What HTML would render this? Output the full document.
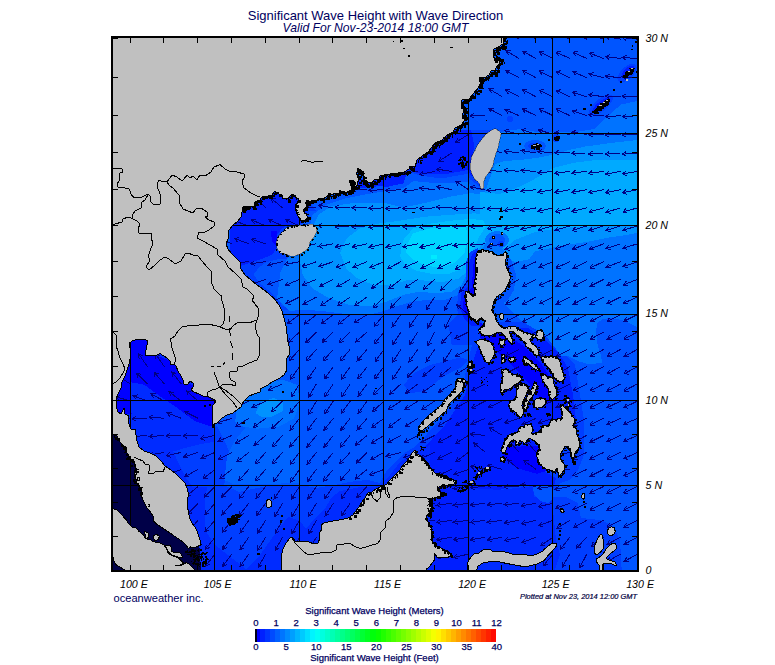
<!DOCTYPE html><html><head><meta charset="utf-8"><title>Significant Wave Height with Wave Direction</title>
<style>html,body{margin:0;padding:0;background:#fff}svg{display:block}text{font-family:"Liberation Sans",sans-serif}.cb text{stroke:#000060;stroke-width:.25px}</style></head><body>
<svg width="775" height="665" viewBox="0 0 775 665">
<rect width="775" height="665" fill="#fff"/>
<defs><clipPath id="c"><rect x="112" y="37" width="526" height="534"/></clipPath></defs>
<g clip-path="url(#c)">
<rect x="111" y="36" width="528" height="536" fill="rgb(0,85,255)"/>
<g shape-rendering="crispEdges">
<polygon fill="rgb(0,62,255)" points="105.0,330.0 230.0,330.0 213.0,428.0 217.0,426.0 224.0,440.0 231.0,455.0 228.0,470.0 224.0,485.0 239.0,492.0 257.0,488.0 276.0,485.0 301.0,485.0 316.0,488.0 334.0,485.0 344.0,483.0 356.0,481.0 368.0,480.0 380.0,483.0 384.0,475.0 388.0,469.0 396.0,461.0 404.0,453.0 415.0,447.0 430.0,440.0 430.0,575.0 105.0,575.0"/>
<polygon fill="rgb(0,62,255)" points="230.0,190.0 305.8,190.0 309.4,217.1 302.2,224.3 289.6,226.1 284.2,228.8 276.9,244.2 282.3,255.0 295.0,257.7 299.5,259.5 299.5,262.2 284.2,258.6 276.9,259.5 266.1,262.2 258.9,267.6 253.5,274.8 260.7,283.9 271.5,292.9 282.3,305.5 289.6,310.0 230.0,310.0"/>
<polygon fill="rgb(0,62,255)" points="315.9,210.9 309.4,200.8 325.6,194.4 345.0,189.5 364.4,186.0 383.8,185.0 403.2,181.7 408.0,171.4 420.0,175.6 433.9,177.5 446.9,177.5 456.9,175.6 467.6,174.0 470.1,179.5 476.0,183.7 479.8,187.6 480.8,191.4 484.0,185.0 497.0,178.5 497.0,168.8 500.2,149.4 497.0,130.0 445.2,130.0 412.9,162.3 354.7,181.7 306.2,194.7 296.5,210.9"/>
<polygon fill="rgb(0,62,255)" points="467.2,248.0 476.0,246.4 479.2,259.4 476.0,275.5 471.1,298.2 480.8,311.1 484.0,345.1 451.7,345.1 448.5,324.0 461.4,311.1 464.6,291.7 467.2,269.1"/>
<polygon fill="rgb(0,62,255)" points="415.0,447.0 440.0,420.0 462.0,392.0 468.0,360.0 475.0,335.0 500.0,322.0 530.0,322.0 548.0,335.0 563.0,352.0 575.0,365.0 580.0,395.0 584.0,420.0 584.0,455.0 578.0,470.0 570.0,480.0 560.0,483.0 553.0,490.0 553.0,497.0 566.0,497.0 578.0,503.0 581.0,518.0 600.0,520.0 612.0,525.0 620.0,540.0 622.0,575.0 430.0,575.0 430.0,440.0"/>
<polygon fill="rgb(0,43,255)" points="105.0,330.0 225.0,330.0 213.0,428.0 214.0,445.0 210.0,470.0 205.0,500.0 205.0,530.0 215.0,545.0 246.0,569.0 260.0,555.0 270.0,541.0 280.0,527.0 288.0,517.0 300.0,521.0 306.0,529.0 314.0,519.0 320.0,513.0 326.0,507.0 332.0,497.0 340.0,491.0 350.0,489.0 360.0,487.0 372.0,487.0 380.0,486.0 390.0,475.0 400.0,462.0 415.0,452.0 430.0,445.0 430.0,575.0 105.0,575.0"/>
<polygon fill="rgb(0,30,255)" points="230.0,190.0 304.0,190.0 306.7,217.1 300.4,223.4 286.0,226.1 278.7,230.6 273.3,236.9 266.1,242.3 251.7,246.0 240.8,249.6 231.8,244.2 230.0,244.2"/>
<polygon fill="rgb(0,30,255)" points="230.0,225.2 284.2,225.2 276.9,235.1 276.0,249.6 271.5,255.0 262.5,258.6 251.7,262.2 240.8,265.8 230.0,253.2"/>
<polygon fill="rgb(0,30,255)" points="383.8,185.6 383.8,187.6 403.2,183.4 408.0,170.1 420.0,173.7 433.9,174.0 446.9,174.0 456.9,172.0 467.6,170.1 471.1,175.9 476.9,177.9 476.0,178.5 471.1,162.3 474.3,146.2 471.1,130.0 445.2,130.0 412.9,162.3 354.7,181.7 306.2,194.7"/>
<polygon fill="rgb(0,30,255)" points="420.0,452.0 445.0,425.0 465.0,395.0 472.0,365.0 480.0,340.0 500.0,328.0 528.0,328.0 545.0,340.0 558.0,352.0 568.0,368.0 573.0,395.0 576.0,420.0 560.0,430.0 540.0,440.0 532.0,452.0 536.0,465.0 545.0,472.0 556.0,478.0 553.0,490.0 545.0,497.0 535.0,490.0 534.0,486.0 510.0,486.0 500.0,490.0 470.0,488.0 470.0,575.0 430.0,575.0 430.0,445.0"/>
<polygon fill="rgb(0,43,255)" points="470.0,488.0 500.0,490.0 533.0,486.0 534.0,497.0 553.0,497.0 553.0,510.0 556.0,540.0 560.0,555.0 553.0,575.0 470.0,575.0"/>
<polygon fill="rgb(0,0,255)" points="126.7,335.1 148.8,335.1 148.8,352.3 173.3,362.1 185.5,381.7 195.3,386.6 214.9,398.8 214.9,424.6 210.0,426.3 195.3,421.4 185.5,414.0 175.7,406.7 161.0,396.9 143.9,384.6 130.4,382.2 130.4,401.3 131.6,413.5 116.9,413.5 114.5,401.3 121.8,381.7"/>
<polygon fill="rgb(0,0,255)" points="504.5,447.4 557.3,444.5 557.3,468.0 536.8,473.8 516.2,468.0 503.0,456.2"/>
<polygon fill="rgb(0,0,255)" points="478.0,322.0 500.0,330.0 522.0,345.0 540.0,362.0 552.0,380.0 556.0,400.0 545.0,405.0 530.0,385.0 512.0,365.0 495.0,350.0 480.0,338.0"/>
<polygon fill="rgb(0,0,255)" points="270.6,230.6 277.3,230.6 277.3,246.0 272.4,242.3"/>
<polygon fill="#000048" points="105.0,430.0 128.0,430.0 148.0,470.0 172.0,520.0 190.0,540.0 200.0,548.0 201.0,575.0 105.0,575.0"/>
<polygon fill="#000048" points="105.0,553.0 113.0,553.0 117.0,565.0 126.0,575.0 105.0,575.0"/>
<polygon fill="rgb(0,100,255)" points="224.3,480.0 227.1,455.7 234.3,441.4 245.7,427.1 257.1,412.9 261.4,402.9 298.6,400.0 298.6,482.9 257.1,484.3 234.3,484.3"/>
<polygon fill="rgb(0,115,255)" points="309.4,227.0 312.6,214.7 325.6,205.0 345.0,198.6 364.4,194.7 383.8,191.4 403.2,188.2 413.5,181.1 433.9,183.0 454.0,183.0 467.6,181.7 473.1,187.6 479.8,190.5 501.4,132.0 520.8,128.8 537.0,132.0 553.2,132.0 575.8,132.0 595.2,128.8 608.1,115.8 621.1,104.5 650.2,98.0 650.0,327.2 637.5,327.2 629.3,323.0 621.0,319.8 611.0,318.1 602.8,318.9 597.0,323.0 596.2,331.3 597.0,342.9 601.2,356.1 602.0,362.7 589.6,364.4 578.0,361.1 568.1,356.1 561.5,356.1 545.0,335.0 520.0,320.0 500.0,300.0 475.0,300.0 466.3,285.2 458.2,294.9 445.2,299.8 429.1,299.8 412.9,301.4 396.7,306.3 383.8,311.1 370.9,314.3 348.2,314.3 322.3,311.1 302.9,309.5 290.0,311.1 277.1,298.2 280.3,272.3 290.0,252.9 299.7,236.7"/>
<polygon fill="rgb(0,115,255)" points="235.2,422.0 237.0,403.6 246.2,390.8 264.6,383.4 283.0,379.7 297.8,385.2 299.6,403.6 294.1,418.4 279.4,426.5 257.3,428.7 242.5,426.5"/>
<polygon fill="rgb(0,146,255)" points="312.6,227.0 319.1,214.1 332.0,206.0 354.7,202.8 383.8,202.8 403.2,207.6 425.8,202.8 451.7,196.3 471.1,193.1 484.0,194.7 495.0,164.3 504.7,161.1 524.1,159.5 537.0,157.9 553.2,154.6 569.3,149.8 585.5,146.5 608.1,143.3 650.2,138.5 650.0,231.0 636.8,233.0 627.0,234.9 607.4,237.8 587.8,241.7 568.3,244.7 552.6,247.6 535.0,251.5 529.0,259.4 515.0,262.0 506.0,258.0 505.7,251.5 488.5,238.8 471.1,265.8 466.3,275.5 461.4,285.2 451.7,291.7 435.5,293.3 419.4,291.7 403.2,294.9 387.0,301.4 370.9,306.3 348.2,304.6 328.8,298.2 312.6,288.5 302.9,275.5 299.7,259.4 304.6,243.2 309.4,233.5"/>
<polygon fill="rgb(0,146,255)" points="255.4,412.8 261.0,401.8 273.8,398.1 283.0,401.8 283.0,411.0 272.0,416.5 261.0,416.5"/>
<polygon fill="rgb(0,170,255)" points="340.1,252.9 346.6,238.3 359.5,228.6 377.3,223.8 400.0,220.6 425.8,216.7 451.7,214.7 474.3,213.4 497.0,214.7 500.2,220.6 497.0,230.3 484.0,240.0 477.6,251.3 471.1,262.6 466.3,272.3 458.2,278.8 442.0,282.0 422.6,280.4 406.4,280.4 390.3,285.2 374.1,285.2 357.9,278.8 346.6,269.1"/>
<polygon fill="rgb(0,170,255)" points="480.0,192.0 500.0,194.0 518.8,187.0 533.8,179.5 552.6,168.2 575.0,162.6 597.7,159.8 650.0,159.8 650.0,226.0 600.0,226.0 560.0,228.0 535.0,232.0 515.0,240.0 505.0,248.0 495.0,248.0 480.0,240.0"/>
<polygon fill="rgb(0,191,255)" points="400.0,256.1 403.2,240.0 412.9,228.6 429.1,223.8 451.7,220.6 471.1,218.9 484.0,220.6 485.7,227.0 479.2,236.7 474.3,248.0 467.9,257.7 461.4,269.1 448.5,273.9 432.3,273.9 416.1,270.7 404.8,264.2"/>
<polygon fill="rgb(0,213,255)" points="406.4,246.4 412.9,233.5 429.1,228.6 448.5,227.0 466.3,227.0 467.2,240.0 464.6,252.9 454.9,262.6 442.0,267.5 425.8,265.8 412.9,259.4 406.4,252.9"/>
<polygon fill="rgb(0,234,255)" points="431.0,255.0 437.0,255.0 437.0,259.0 431.0,259.0"/>
<polygon fill="rgb(0,62,255)" points="612.7,95.6 613.2,98.1 611.9,101.6 608.9,105.7 604.8,109.7 600.0,112.9 595.4,115.0 591.7,115.5 589.3,114.4 588.8,111.9 590.1,108.4 593.1,104.3 597.2,100.3 602.0,97.1 606.6,95.0 610.3,94.5"/>
<polygon fill="rgb(0,30,255)" points="609.6,98.1 609.7,99.7 608.6,102.0 606.3,104.9 603.2,107.7 599.8,110.2 596.5,111.8 593.9,112.4 592.4,111.9 592.3,110.3 593.4,108.0 595.7,105.1 598.8,102.3 602.2,99.8 605.5,98.2 608.1,97.6"/>
<polygon fill="rgb(0,62,255)" points="635.8,64.8 636.7,67.1 636.1,70.3 634.1,73.9 631.1,77.4 627.4,80.2 623.7,81.9 620.5,82.2 618.2,81.2 617.3,78.9 617.9,75.7 619.9,72.1 622.9,68.6 626.6,65.8 630.3,64.1 633.5,63.8"/>
<polygon fill="rgb(0,30,255)" points="633.9,66.0 634.3,67.4 633.8,69.5 632.4,71.8 630.4,74.1 628.0,76.0 625.5,77.2 623.5,77.5 622.1,77.0 621.7,75.6 622.2,73.5 623.6,71.2 625.6,68.9 628.0,67.0 630.5,65.8 632.5,65.5"/>
<polygon fill="rgb(0,85,255)" points="546.0,146.0 545.2,148.3 542.8,150.2 539.2,151.5 535.0,152.0 530.8,151.5 527.2,150.2 524.8,148.3 524.0,146.0 524.8,143.7 527.2,141.8 530.8,140.5 535.0,140.0 539.2,140.5 542.8,141.8 545.2,143.7"/>
<polygon fill="rgb(0,62,255)" points="542.0,146.0 541.5,147.3 539.9,148.5 537.7,149.2 535.0,149.5 532.3,149.2 530.1,148.5 528.5,147.3 528.0,146.0 528.5,144.7 530.1,143.5 532.3,142.8 535.0,142.5 537.7,142.8 539.9,143.5 541.5,144.7"/>
<polygon fill="rgb(0,62,255)" points="560.0,138.0 559.7,139.5 558.8,140.8 557.5,141.7 556.0,142.0 554.5,141.7 553.2,140.8 552.3,139.5 552.0,138.0 552.3,136.5 553.2,135.2 554.5,134.3 556.0,134.0 557.5,134.3 558.8,135.2 559.7,136.5"/>
<polygon fill="rgb(0,62,255)" points="513.0,119.0 512.8,120.1 512.1,121.1 511.1,121.8 510.0,122.0 508.9,121.8 507.9,121.1 507.2,120.1 507.0,119.0 507.2,117.9 507.9,116.9 508.9,116.2 510.0,116.0 511.1,116.2 512.1,116.9 512.8,117.9"/>
<polygon fill="rgb(0,115,255)" points="509.0,240.0 508.1,243.4 505.5,246.4 501.6,248.3 497.0,249.0 492.4,248.3 488.5,246.4 485.9,243.4 485.0,240.0 485.9,236.6 488.5,233.6 492.4,231.7 497.0,231.0 501.6,231.7 505.5,233.6 508.1,236.6"/>
<polygon fill="rgb(0,85,255)" points="505.0,240.0 504.4,242.3 502.7,244.2 500.1,245.5 497.0,246.0 493.9,245.5 491.3,244.2 489.6,242.3 489.0,240.0 489.6,237.7 491.3,235.8 493.9,234.5 497.0,234.0 500.1,234.5 502.7,235.8 504.4,237.7"/>
<polygon fill="rgb(0,62,255)" points="504.0,244.0 503.8,245.1 503.1,246.1 502.1,246.8 501.0,247.0 499.9,246.8 498.9,246.1 498.2,245.1 498.0,244.0 498.2,242.9 498.9,241.9 499.9,241.2 501.0,241.0 502.1,241.2 503.1,241.9 503.8,242.9"/>
<polygon fill="rgb(0,62,255)" points="403.9,384.5 414.2,372.9 429.7,365.2 445.2,361.3 460.6,357.4 468.4,360.0 460.6,367.7 445.2,375.5 434.8,383.2 424.5,391.0 409.0,393.5"/>
<polygon fill="rgb(0,85,255)" points="533.0,486.0 553.0,486.0 553.0,498.0 548.0,503.0 540.0,501.0 534.0,495.0"/>
<polygon fill="rgb(0,62,255)" points="478.0,248.0 470.0,252.0 466.0,262.0 466.0,285.0 458.0,292.0 457.0,310.0 462.0,322.0 470.0,330.0 480.0,330.0 480.0,300.0 478.0,270.0"/>
<polygon fill="rgb(0,30,255)" points="478.0,250.0 472.0,254.0 469.0,264.0 469.0,286.0 461.0,293.0 460.0,309.0 465.0,320.0 472.0,326.0 480.0,326.0 480.0,300.0 478.0,270.0"/>
<polygon fill="rgb(0,0,255)" points="476.0,254.0 473.0,266.0 472.0,288.0 464.0,295.0 463.0,308.0 468.0,318.0 476.0,322.0 480.0,300.0 478.0,270.0"/>
<polygon fill="rgb(0,85,255)" points="507.0,253.0 512.0,262.0 516.0,275.0 514.0,290.0 508.0,300.0 500.0,305.0 495.0,315.0 500.0,325.0 492.0,325.0 490.0,300.0 500.0,290.0 505.0,270.0"/>
<polygon fill="rgb(0,62,255)" points="173.3,451.5 185.5,447.8 200.2,444.2 214.9,441.7 214.9,487.1 192.9,487.1 185.5,477.3 178.2,462.5"/>
</g>
<g stroke="#000084" stroke-width="1" fill="none" stroke-linecap="butt" shape-rendering="crispEdges">
<path d="M130.5 418.3L115.3 419.6M119.2 416.9L115.3 419.6L119.6 421.6M130.5 401.1L115.8 396.7M120.5 395.6L115.8 396.7L119.1 400.2M130.5 383.9L117.4 376.0M122.2 376.1L117.4 376.0L119.7 380.2M130.5 366.7L120.7 355.0M125.2 356.6L120.7 355.0L121.5 359.7M130.5 349.4L121.4 337.1M125.8 339.0L121.4 337.1L122.0 341.8M147.4 435.4L132.2 436.7M136.1 434.0L132.2 436.7L136.5 438.7M147.4 418.3L132.1 418.9M136.2 416.4L132.1 418.9L136.4 421.2M147.4 401.1L133.1 395.7M137.8 394.9L133.1 395.7L136.1 399.4M147.4 383.9L136.6 373.1M141.2 374.4L136.6 373.1L137.8 377.8M147.4 366.7L138.8 354.1M143.1 356.1L138.8 354.1L139.1 358.9M164.3 452.4L149.2 455.1M152.9 452.0L149.2 455.1L153.8 456.8M164.3 435.4L149.1 436.7M153.0 434.0L149.1 436.7L153.4 438.7M164.3 418.3L149.1 416.9M153.4 414.9L149.1 416.9L153.0 419.7M164.3 401.1L150.9 393.8M155.7 393.7L150.9 393.8L153.4 397.9M164.3 383.9L154.2 372.5M158.7 374.0L154.2 372.5L155.1 377.2M164.3 366.7L155.7 354.1M160.0 356.1L155.7 354.1L156.0 358.9M181.2 469.4L166.9 474.9M169.9 471.1L166.9 474.9L171.6 475.6M181.2 452.4L166.3 455.8M169.8 452.5L166.3 455.8L170.9 457.2M181.2 435.4L165.9 436.0M170.0 433.5L165.9 436.0L170.2 438.3M181.2 418.3L166.9 412.8M171.6 412.1L166.9 412.8L169.9 416.5M181.2 401.1L169.1 391.7M173.9 392.4L169.1 391.7L170.9 396.2M181.2 383.9L171.8 371.9M176.3 373.7L171.8 371.9L172.5 376.6M198.1 520.3L187.9 531.7M188.9 527.0L187.9 531.7L192.5 530.2M198.1 503.3L187.3 514.2M188.5 509.5L187.3 514.2L191.9 512.9M198.1 486.4L186.3 496.2M188.0 491.7L186.3 496.2L191.1 495.4M198.1 469.4L184.7 476.8M187.2 472.7L184.7 476.8L189.5 476.9M198.1 452.4L183.6 457.1M186.8 453.6L183.6 457.1L188.2 458.1M198.1 435.4L182.8 436.0M186.9 433.5L182.8 436.0L187.1 438.3M198.1 418.3L184.4 411.4M189.2 411.1L184.4 411.4L187.1 415.4M198.1 401.1L186.6 391.0M191.3 392.0L186.6 391.0L188.2 395.6M215.0 571.0L205.5 583.0M206.2 578.2L205.5 583.0L210.0 581.2M215.0 554.1L205.5 566.1M206.2 561.4L205.5 566.1L210.0 564.3M215.0 537.2L205.5 549.2M206.2 544.5L205.5 549.2L210.0 547.4M215.0 520.3L204.8 531.7M205.8 527.0L204.8 531.7L209.4 530.2M215.0 503.3L204.8 514.8M205.8 510.1L204.8 514.8L209.4 513.3M215.0 486.4L204.2 497.2M205.4 492.6L204.2 497.2L208.8 496.0M215.0 469.4L203.0 478.9M204.8 474.4L203.0 478.9L207.7 478.2M215.0 452.4L200.9 458.4M203.8 454.6L200.9 458.4L205.7 459.0M215.0 435.4L200.1 438.7M203.6 435.5L200.1 438.7L204.7 440.2M215.0 401.1L201.8 393.4M206.6 393.4L201.8 393.4L204.2 397.6M231.9 571.0L222.8 583.3M223.3 578.5L222.8 583.3L227.2 581.4M231.9 554.1L222.7 566.4M223.3 561.6L222.7 566.4L227.2 564.5M231.9 537.2L222.6 549.4M223.3 544.6L222.6 549.4L227.1 547.5M231.9 520.3L222.3 532.2M223.0 527.5L222.3 532.2L226.8 530.5M231.9 503.3L221.9 514.9M222.8 510.2L221.9 514.9L226.4 513.3M231.9 486.4L221.3 497.4M222.5 492.8L221.3 497.4L225.9 496.1M231.9 469.4L219.8 478.8M221.6 474.3L219.8 478.8L224.6 478.1M231.9 452.4L218.3 459.5M220.9 455.4L218.3 459.5L223.1 459.7M231.9 435.4L217.9 441.5M220.7 437.6L217.9 441.5L222.6 442.0M231.9 418.3L217.3 422.9M220.6 419.4L217.3 422.9L222.0 423.9M231.9 243.8L217.6 238.4M222.3 237.6L217.6 238.4L220.6 242.1M248.8 571.0L240.2 583.6M240.5 578.8L240.2 583.6L244.5 581.6M248.8 554.1L240.0 566.6M240.4 561.9L240.0 566.6L244.4 564.6M248.8 537.2L240.0 549.7M240.4 544.9L240.0 549.7L244.4 547.7M248.8 520.3L240.0 532.8M240.4 528.0L240.0 532.8L244.4 530.8M248.8 503.3L239.3 515.4M240.0 510.6L239.3 515.4L243.8 513.6M248.8 486.4L239.3 498.4M240.0 493.7L239.3 498.4L243.8 496.6M248.8 469.4L238.6 480.8M239.6 476.1L238.6 480.8L243.2 479.3M248.8 452.4L236.8 461.9M238.6 457.4L236.8 461.9L241.6 461.2M248.8 435.4L235.7 443.2M238.0 439.0L235.7 443.2L240.5 443.1M248.8 418.3L235.9 426.5M238.1 422.2L235.9 426.5L240.7 426.3M248.8 401.1L235.2 408.2M237.8 404.2L235.2 408.2L240.0 408.4M248.8 261.7L233.6 263.0M237.5 260.3L233.6 263.0L237.9 265.0M248.8 243.8L234.5 238.4M239.2 237.6L234.5 238.4L237.5 242.1M248.8 225.9L234.4 220.9M239.1 220.0L234.4 220.9L237.5 224.5M248.8 207.9L235.5 200.3M240.3 200.3L235.5 200.3L237.9 204.5M265.7 571.0L257.8 584.1M257.9 579.3L257.8 584.1L262.0 581.8M265.7 554.1L258.1 567.4M258.1 562.6L258.1 567.4L262.3 565.0M265.7 537.2L257.6 550.1M257.7 545.3L257.6 550.1L261.8 547.9M265.7 520.3L257.3 533.1M257.6 528.3L257.3 533.1L261.6 530.9M265.7 503.3L256.5 515.6M257.1 510.8L256.5 515.6L260.9 513.7M265.7 486.4L256.0 498.3M256.8 493.5L256.0 498.3L260.5 496.5M265.7 469.4L255.5 480.8M256.5 476.1L255.5 480.8L260.0 479.3M265.7 452.4L255.5 463.8M256.5 459.1L255.5 463.8L260.1 462.3M265.7 435.4L254.1 445.3M255.7 440.8L254.1 445.3L258.8 444.4M265.7 418.3L253.4 427.3M255.3 422.9L253.4 427.3L258.2 426.8M265.7 401.1L251.8 407.6M254.6 403.6L251.8 407.6L256.6 408.0M265.7 279.4L251.2 284.1M254.4 280.6L251.2 284.1L255.8 285.1M265.7 261.7L250.5 263.7M254.3 260.8L250.5 263.7L255.0 265.5M265.7 243.8L251.2 239.1M255.8 238.1L251.2 239.1L254.4 242.7M265.7 225.9L251.6 219.9M256.4 219.3L251.6 219.9L254.5 223.7M265.7 207.9L254.9 197.1M259.5 198.3L254.9 197.1L256.1 201.7M282.6 537.2L275.0 550.5M275.0 545.7L275.0 550.5L279.2 548.1M282.6 520.3L275.0 533.6M275.0 528.8L275.0 533.6L279.2 531.1M282.6 503.3L274.7 516.4M274.8 511.6L274.7 516.4L278.9 514.1M282.6 486.4L274.0 499.0M274.3 494.2L274.0 499.0L278.3 497.0M282.6 469.4L273.4 481.6M274.0 476.8L273.4 481.6L277.8 479.7M282.6 452.4L272.4 463.8M273.4 459.1L272.4 463.8L277.0 462.3M282.6 435.4L272.4 446.8M273.4 442.1L272.4 446.8L277.0 445.3M282.6 418.3L271.5 428.8M272.9 424.2L271.5 428.8L276.2 427.7M282.6 401.1L271.5 411.6M272.8 407.0L271.5 411.6L276.1 410.5M282.6 383.9L268.5 390.0M271.4 386.1L268.5 390.0L273.3 390.5M282.6 297.0L268.5 303.0M271.4 299.2L268.5 303.0L273.3 303.6M282.6 279.4L268.2 284.4M271.3 280.8L268.2 284.4L272.9 285.3M282.6 261.7L267.7 265.1M271.2 261.8L267.7 265.1L272.3 266.5M282.6 225.9L268.7 219.6M273.4 219.1L268.7 219.6L271.5 223.5M282.6 207.9L270.8 198.1M275.6 198.9L270.8 198.1L272.5 202.6M299.5 537.2L291.8 550.4M291.8 545.6L291.8 550.4L295.9 548.0M299.5 520.3L291.8 533.5M291.8 528.7L291.8 533.5L296.0 531.1M299.5 503.3L291.9 516.6M291.9 511.8L291.9 516.6L296.1 514.2M299.5 486.4L291.2 499.2M291.4 494.4L291.2 499.2L295.4 497.0M299.5 469.4L290.7 481.9M291.1 477.2L290.7 481.9L295.1 479.9M299.5 452.4L290.1 464.5M290.8 459.7L290.1 464.5L294.6 462.7M299.5 435.4L289.6 447.0M290.5 442.3L289.6 447.0L294.1 445.4M299.5 418.3L290.0 430.3M290.7 425.5L290.0 430.3L294.5 428.5M299.5 401.1L289.9 413.0M290.6 408.3L289.9 413.0L294.4 411.3M299.5 383.9L291.4 396.9M291.6 392.1L291.4 396.9L295.6 394.7M299.5 366.7L290.6 379.2M291.1 374.4L290.6 379.2L295.0 377.2M299.5 349.4L289.2 360.7M290.2 356.0L289.2 360.7L293.8 359.2M299.5 332.0L288.3 342.5M289.7 337.9L288.3 342.5L293.0 341.4M299.5 314.6L287.2 323.6M289.1 319.2L287.2 323.6L292.0 323.1M299.5 297.0L285.8 303.9M288.5 299.9L285.8 303.9L290.6 304.1M299.5 279.4L285.4 285.4M288.3 281.6L285.4 285.4L290.2 286.0M299.5 261.7L284.5 264.5M288.1 261.4L284.5 264.5L289.0 266.1M299.5 225.9L285.6 219.6M290.3 219.1L285.6 219.6L288.4 223.5M316.4 537.2L308.6 550.4M308.7 545.6L308.6 550.4L312.8 548.0M316.4 520.3L308.8 533.6M308.8 528.8L308.8 533.6L313.0 531.1M316.4 503.3L308.4 516.4M308.5 511.6L308.4 516.4L312.6 514.1M316.4 486.4L307.9 499.1M308.2 494.3L307.9 499.1L312.2 497.0M316.4 469.4L307.3 481.7M307.8 476.9L307.3 481.7L311.7 479.8M316.4 452.4L306.9 464.4M307.6 459.7L306.9 464.4L311.4 462.6M316.4 435.4L306.8 447.3M307.6 442.6L306.8 447.3L311.3 445.6M316.4 418.3L307.4 430.6M307.9 425.9L307.4 430.6L311.8 428.7M316.4 401.1L308.5 414.3M308.6 409.5L308.5 414.3L312.7 411.9M316.4 383.9L308.5 397.1M308.6 392.3L308.5 397.1L312.7 394.7M316.4 366.7L307.8 379.3M308.1 374.5L307.8 379.3L312.1 377.3M316.4 349.4L306.3 360.9M307.2 356.2L306.3 360.9L310.8 359.3M316.4 332.0L305.6 342.8M306.8 338.2L305.6 342.8L310.2 341.6M316.4 314.6L304.4 324.1M306.2 319.6L304.4 324.1L309.2 323.4M316.4 297.0L303.0 304.4M305.5 300.3L303.0 304.4L307.8 304.5M316.4 279.4L302.2 285.0M305.2 281.3L302.2 285.0L306.9 285.7M316.4 261.7L302.0 266.8M305.1 263.2L302.0 266.8L306.7 267.7M316.4 243.8L301.4 246.9M305.0 243.7L301.4 246.9L306.0 248.4M316.4 225.9L301.1 226.6M305.2 224.0L301.1 226.6L305.4 228.8M316.4 207.9L301.2 206.2M305.6 204.3L301.2 206.2L305.1 209.0M333.3 520.3L325.2 533.3M325.4 528.5L325.2 533.3L329.5 531.0M333.3 503.3L325.0 516.2M325.2 511.4L325.0 516.2L329.2 514.0M333.3 486.4L324.4 498.8M324.8 494.0L324.4 498.8L328.7 496.8M333.3 469.4L323.4 481.1M324.3 476.4L323.4 481.1L328.0 479.5M333.3 452.4L323.6 464.3M324.4 459.5L323.6 464.3L328.1 462.6M333.3 435.4L323.8 447.4M324.5 442.6L323.8 447.4L328.3 445.6M333.3 418.3L323.9 430.3M324.5 425.6L323.9 430.3L328.3 428.5M333.3 401.1L324.7 413.8M325.1 409.0L324.7 413.8L329.0 411.7M333.3 383.9L324.8 396.6M325.1 391.9L324.8 396.6L329.1 394.5M333.3 366.7L324.2 379.0M324.7 374.2L324.2 379.0L328.6 377.1M333.3 349.4L323.2 360.9M324.1 356.2L323.2 360.9L327.7 359.3M333.3 332.0L322.1 342.4M323.5 337.9L322.1 342.4L326.8 341.4M333.3 314.6L321.2 323.9M323.0 319.5L321.2 323.9L326.0 323.3M333.3 297.0L320.7 305.8M322.8 301.4L320.7 305.8L325.5 305.4M333.3 279.4L319.7 286.4M322.3 282.4L319.7 286.4L324.5 286.6M333.3 261.7L318.8 266.6M322.0 263.0L318.8 266.6L323.5 267.5M333.3 243.8L318.2 246.5M321.9 243.4L318.2 246.5L322.7 248.1M333.3 225.9L318.0 225.5M322.2 223.2L318.0 225.5L322.1 228.0M333.3 207.9L318.2 205.2M322.7 203.6L318.2 205.2L321.9 208.3M350.2 503.3L341.3 515.8M341.8 511.0L341.3 515.8L345.7 513.8M350.2 486.4L341.1 498.7M341.7 493.9L341.1 498.7L345.5 496.8M350.2 469.4L340.0 480.8M341.0 476.1L340.0 480.8L344.6 479.3M350.2 452.4L339.7 463.6M340.8 458.9L339.7 463.6L344.3 462.2M350.2 435.4L340.4 447.1M341.2 442.3L340.4 447.1L344.9 445.4M350.2 418.3L340.7 430.3M341.4 425.5L340.7 430.3L345.2 428.5M350.2 401.1L341.1 413.4M341.6 408.6L341.1 413.4L345.5 411.5M350.2 383.9L341.7 396.7M342.0 391.9L341.7 396.7L346.0 394.5M350.2 366.7L341.3 379.2M341.8 374.4L341.3 379.2L345.7 377.2M350.2 349.4L340.2 361.0M341.1 356.3L340.2 361.0L344.8 359.4M350.2 332.0L339.4 342.8M340.6 338.2L339.4 342.8L344.0 341.6M350.2 314.6L338.3 324.2M340.0 319.7L338.3 324.2L343.0 323.4M350.2 297.0L337.6 305.7M339.6 301.3L337.6 305.7L342.4 305.3M350.2 279.4L336.8 286.8M339.3 282.7L336.8 286.8L341.6 286.9M350.2 261.7L336.2 267.7M339.0 263.9L336.2 267.7L340.9 268.3M350.2 243.8L335.3 247.2M338.8 243.9L335.3 247.2L339.9 248.6M350.2 225.9L334.9 226.9M338.9 224.2L334.9 226.9L339.2 229.0M350.2 207.9L334.9 207.0M339.2 204.9L334.9 207.0L338.9 209.7M367.1 486.4L356.6 497.6M357.7 492.9L356.6 497.6L361.2 496.2M367.1 469.4L355.2 479.1M356.9 474.6L355.2 479.1L360.0 478.3M367.1 452.4L356.3 463.2M357.5 458.6L356.3 463.2L360.9 462.0M367.1 435.4L355.4 445.2M357.0 440.7L355.4 445.2L360.1 444.4M367.1 418.3L357.1 429.8M358.0 425.1L357.1 429.8L361.6 428.3M367.1 401.1L358.0 413.5M358.6 408.7L358.0 413.5L362.4 411.5M367.1 383.9L358.0 396.2M358.5 391.4L358.0 396.2L362.4 394.3M367.1 366.7L357.8 378.8M358.4 374.1L357.8 378.8L362.2 377.0M367.1 349.4L357.0 360.9M357.9 356.2L357.0 360.9L361.5 359.3M367.1 332.0L355.6 342.1M357.2 337.6L355.6 342.1L360.3 341.2M367.1 314.6L354.2 322.7M356.4 318.5L354.2 322.7L359.0 322.5M367.1 297.0L354.6 305.8M356.6 301.5L354.6 305.8L359.4 305.4M367.1 279.4L353.5 286.4M356.1 282.4L353.5 286.4L358.3 286.6M367.1 261.7L352.9 267.4M355.9 263.6L352.9 267.4L357.7 268.1M367.1 243.8L352.2 247.2M355.7 244.0L352.2 247.2L356.8 248.7M367.1 225.9L351.8 226.9M355.8 224.3L351.8 226.9L356.1 229.1M367.1 207.9L351.8 207.9M356.0 205.5L351.8 207.9L356.0 210.3M367.1 189.7L351.8 189.9M355.9 187.4L351.8 189.9L356.0 192.2M384.0 469.4L369.7 474.9M372.7 471.1L369.7 474.9L374.4 475.6M384.0 452.4L370.6 459.8M373.1 455.7L370.6 459.8L375.4 459.9M384.0 435.4L371.1 443.5M373.3 439.3L371.1 443.5L375.9 443.3M384.0 418.3L371.7 427.4M373.6 423.0L371.7 427.4L376.5 426.9M384.0 401.1L372.7 411.5M374.2 406.9L372.7 411.5L377.4 410.4M384.0 383.9L373.2 394.7M374.4 390.1L373.2 394.7L377.8 393.5M384.0 366.7L374.6 378.8M375.2 374.0L374.6 378.8L379.0 377.0M384.0 349.4L375.0 361.7M375.5 357.0L375.0 361.7L379.3 359.8M384.0 332.0L374.4 343.9M375.1 339.2L374.4 343.9L378.9 342.2M384.0 314.6L374.2 326.3M375.0 321.6L374.2 326.3L378.7 324.7M384.0 297.0L373.2 307.9M374.4 303.2L373.2 307.9L377.9 306.6M384.0 279.4L371.6 288.3M373.5 283.9L371.6 288.3L376.4 287.8M384.0 261.7L369.9 267.7M372.8 263.9L369.9 267.7L374.7 268.3M384.0 243.8L369.1 247.4M372.6 244.1L369.1 247.4L373.7 248.8M384.0 225.9L368.8 227.4M372.7 224.6L368.8 227.4L373.1 229.4M384.0 207.9L368.7 208.5M372.8 205.9L368.7 208.5L373.0 210.7M384.0 189.7L368.7 190.4M372.8 187.8L368.7 190.4L373.0 192.6M400.9 452.4L386.1 456.4M389.5 453.0L386.1 456.4L390.8 457.7M400.9 435.4L387.5 442.7M390.0 438.6L387.5 442.7L392.3 442.8M400.9 418.3L388.7 427.5M390.5 423.0L388.7 427.5L393.4 426.9M400.9 401.1L388.1 409.5M390.3 405.3L388.1 409.5L392.9 409.3M400.9 383.9L389.7 394.4M391.1 389.8L389.7 394.4L394.4 393.3M400.9 366.7L392.3 379.4M392.7 374.6L392.3 379.4L396.7 377.3M400.9 349.4L392.6 362.2M392.8 357.4L392.6 362.2L396.8 360.0M400.9 332.0L392.6 344.8M392.8 340.0L392.6 344.8L396.8 342.7M400.9 314.6L392.0 327.0M392.5 322.2L392.0 327.0L396.4 325.0M400.9 297.0L390.4 308.2M391.5 303.5L390.4 308.2L395.0 306.8M400.9 279.4L388.8 288.8M390.6 284.3L388.8 288.8L393.6 288.1M400.9 261.7L387.4 268.8M389.9 264.8L387.4 268.8L392.2 269.0M400.9 243.8L386.0 247.4M389.5 244.1L386.0 247.4L390.6 248.7M400.9 225.9L385.7 227.3M389.6 224.5L385.7 227.3L390.0 229.3M400.9 207.9L385.6 208.6M389.7 206.0L385.6 208.6L389.9 210.8M400.9 189.7L385.6 190.7M389.6 188.0L385.6 190.7L389.9 192.8M417.8 452.4L403.4 457.6M406.5 454.0L403.4 457.6L408.2 458.5M417.8 435.4L404.3 442.5M406.8 438.4L404.3 442.5L409.1 442.7M417.8 418.3L405.0 426.7M407.2 422.4L405.0 426.7L409.8 426.4M417.8 401.1L405.0 409.5M407.2 405.3L405.0 409.5L409.8 409.3M417.8 383.9L405.7 393.3M407.5 388.9L405.7 393.3L410.5 392.7M417.8 366.7L407.1 377.6M408.3 373.0L407.1 377.6L411.7 376.4M417.8 349.4L408.9 361.8M409.4 357.1L408.9 361.8L413.3 359.8M417.8 332.0L409.5 344.9M409.8 340.1L409.5 344.9L413.8 342.7M417.8 314.6L409.2 327.2M409.6 322.4L409.2 327.2L413.5 325.1M417.8 297.0L407.4 308.3M408.5 303.6L407.4 308.3L412.0 306.8M417.8 279.4L405.0 287.7M407.2 283.5L405.0 287.7L409.8 287.5M417.8 261.7L403.7 267.7M406.6 263.9L403.7 267.7L408.5 268.3M417.8 243.8L402.8 246.9M406.4 243.7L402.8 246.9L407.4 248.4M417.8 225.9L402.5 226.9M406.5 224.3L402.5 226.9L406.8 229.1M417.8 207.9L402.5 208.7M406.5 206.1L402.5 208.7L406.8 210.9M417.8 189.7L402.6 191.1M406.5 188.3L402.6 191.1L406.9 193.1M417.8 171.4L402.6 173.0M406.5 170.2L402.6 173.0L407.0 175.0M434.7 571.0L419.8 574.3M423.3 571.1L419.8 574.3L424.3 575.8M434.7 554.1L419.7 557.3M423.3 554.1L419.7 557.3L424.3 558.8M434.7 537.2L419.6 539.7M423.3 536.7L419.6 539.7L424.1 541.4M434.7 520.3L419.5 522.3M423.3 519.4L419.5 522.3L424.0 524.1M434.7 503.3L419.6 505.6M423.3 502.6L419.6 505.6L424.0 507.4M434.7 469.4L420.2 474.3M423.4 470.7L420.2 474.3L424.9 475.2M434.7 452.4L420.7 458.6M423.5 454.7L420.7 458.6L425.5 459.1M434.7 435.4L421.0 442.2M423.7 438.2L421.0 442.2L425.8 442.5M434.7 401.1L421.9 409.5M424.1 405.2L421.9 409.5L426.7 409.3M434.7 383.9L422.2 392.7M424.2 388.4L422.2 392.7L427.0 392.3M434.7 366.7L422.8 376.3M424.5 371.8L422.8 376.3L427.5 375.6M434.7 349.4L426.0 362.0M426.4 357.2L426.0 362.0L430.3 359.9M434.7 332.0L427.6 345.6M427.4 340.8L427.6 345.6L431.7 343.0M434.7 314.6L427.6 328.1M427.4 323.3L427.6 328.1L431.7 325.5M434.7 297.0L426.2 309.8M426.5 305.0L426.2 309.8L430.5 307.6M434.7 279.4L423.1 289.4M424.7 284.8L423.1 289.4L427.8 288.5M434.7 261.7L420.9 268.3M423.6 264.4L420.9 268.3L425.7 268.7M434.7 243.8L419.9 247.7M423.3 244.3L419.9 247.7L424.5 249.0M434.7 225.9L419.5 227.2M423.4 224.4L419.5 227.2L423.8 229.2M434.7 207.9L419.4 208.6M423.5 206.0L419.4 208.6L423.7 210.8M434.7 189.7L419.5 188.0M423.9 186.1L419.5 188.0L423.4 190.9M434.7 171.4L419.7 174.4M423.3 171.3L419.7 174.4L424.2 176.0M451.6 571.0L436.7 574.3M440.2 571.1L436.7 574.3L441.3 575.8M451.6 554.1L436.7 557.5M440.2 554.2L436.7 557.5L441.3 558.9M451.6 537.2L436.5 539.9M440.2 536.8L436.5 539.9L441.0 541.5M451.6 520.3L436.5 522.5M440.2 519.5L436.5 522.5L440.9 524.3M451.6 503.3L436.4 505.4M440.2 502.4L436.4 505.4L440.9 507.2M451.6 486.4L436.4 488.4M440.2 485.5L436.4 488.4L440.9 490.2M451.6 469.4L437.6 475.7M440.5 471.8L437.6 475.7L442.4 476.2M451.6 452.4L437.9 459.2M440.6 455.2L437.9 459.2L442.7 459.5M451.6 435.4L438.1 442.6M440.6 438.5L438.1 442.6L442.9 442.7M451.6 418.3L438.4 426.0M440.8 421.9L438.4 426.0L443.2 426.0M451.6 383.9L438.7 392.1M440.9 387.9L438.7 392.1L443.5 391.9M451.6 366.7L439.9 376.5M441.5 372.0L439.9 376.5L444.6 375.7M451.6 349.4L443.3 362.2M443.5 357.4L443.3 362.2L447.5 360.0M451.6 332.0L441.5 343.5M442.4 338.8L441.5 343.5L446.0 341.9M451.6 314.6L445.1 328.4M444.7 323.6L445.1 328.4L449.1 325.7M451.6 297.0L444.2 310.4M444.1 305.6L444.2 310.4L448.3 307.9M451.6 279.4L440.8 290.2M442.0 285.6L440.8 290.2L445.4 289.0M451.6 261.7L437.9 268.5M440.6 264.5L437.9 268.5L442.7 268.8M451.6 243.8L436.9 248.1M440.2 244.7L436.9 248.1L441.6 249.3M451.6 225.9L436.3 227.0M440.3 224.3L436.3 227.0L440.6 229.1M451.6 207.9L436.3 207.0M440.6 204.8L436.3 207.0L440.3 209.6M451.6 189.7L436.7 186.4M441.2 185.0L436.7 186.4L440.2 189.6M451.6 171.4L436.5 169.1M441.0 167.3L436.5 169.1L440.2 172.1M451.6 153.0L438.8 161.3M440.9 157.1L438.8 161.3L443.6 161.1M451.6 134.4L438.1 141.7M440.7 137.6L438.1 141.7L442.9 141.8M468.5 554.1L453.6 557.5M457.1 554.2L453.6 557.5L458.2 558.9M468.5 537.2L453.4 539.9M457.1 536.8L453.4 539.9L458.0 541.5M468.5 520.3L453.3 522.3M457.1 519.4L453.3 522.3L457.8 524.1M468.5 503.3L453.3 505.3M457.1 502.4L453.3 505.3L457.8 507.1M468.5 486.4L453.3 488.5M457.1 485.6L453.3 488.5L457.8 490.3M468.5 469.4L454.0 474.3M457.2 470.7L454.0 474.3L458.7 475.3M468.5 452.4L456.1 461.4M458.1 457.0L456.1 461.4L460.9 460.9M468.5 435.4L455.6 443.5M457.8 439.3L455.6 443.5L460.4 443.3M468.5 418.3L455.3 425.9M457.7 421.8L455.3 425.9L460.1 425.9M468.5 401.1L455.1 408.5M457.6 404.4L455.1 408.5L459.9 408.6M468.5 383.9L455.3 391.6M457.7 387.5L455.3 391.6L460.1 391.6M468.5 366.7L455.4 374.7M457.7 370.5L455.4 374.7L460.2 374.6M468.5 349.4L455.1 356.8M457.6 352.7L455.1 356.8L459.9 356.9M468.5 332.0L454.8 338.9M457.5 334.8L454.8 338.9L459.6 339.1M468.5 314.6L456.7 304.8M461.4 305.6L456.7 304.8L458.4 309.3M468.5 279.4L459.9 292.0M460.2 287.2L459.9 292.0L464.2 289.9M468.5 261.7L455.3 269.3M457.7 265.2L455.3 269.3L460.1 269.3M468.5 243.8L453.3 245.5M457.2 242.7L453.3 245.5L457.7 247.5M468.5 225.9L453.2 226.6M457.3 224.0L453.2 226.6L457.5 228.8M468.5 207.9L453.2 208.6M457.3 206.0L453.2 208.6L457.5 210.8M468.5 189.7L455.8 181.2M460.6 181.5L455.8 181.2L457.9 185.5M468.5 134.4L455.5 142.5M457.8 138.3L455.5 142.5L460.3 142.4M485.4 571.0L470.5 574.3M474.0 571.1L470.5 574.3L475.0 575.8M485.4 537.2L470.3 539.9M474.0 536.8L470.3 539.9L474.8 541.5M485.4 520.3L470.2 522.4M474.0 519.4L470.2 522.4L474.7 524.2M485.4 503.3L470.2 505.0M474.1 502.2L470.2 505.0L474.6 507.0M485.4 486.4L470.2 487.7M474.1 485.0L470.2 487.7L474.5 489.8M485.4 469.4L470.5 466.1M475.0 464.7L470.5 466.1L474.0 469.3M485.4 452.4L473.6 442.7M478.3 443.5L473.6 442.7L475.3 447.2M485.4 435.4L470.2 434.1M474.5 432.0L470.2 434.1L474.1 436.8M485.4 418.3L471.3 424.2M474.2 420.4L471.3 424.2L476.1 424.8M485.4 401.1L471.7 408.0M474.4 404.0L471.7 408.0L476.5 408.3M485.4 383.9L471.7 390.8M474.4 386.8L471.7 390.8L476.5 391.1M485.4 366.7L471.8 373.7M474.4 369.7L471.8 373.7L476.6 373.9M485.4 243.8L470.1 244.9M474.1 242.2L470.1 244.9L474.4 247.0M485.4 225.9L470.1 226.6M474.2 224.0L470.1 226.6L474.4 228.8M485.4 207.9L470.1 208.6M474.2 206.0L470.1 208.6L474.4 210.8M485.4 189.7L470.3 187.0M474.8 185.4L470.3 187.0L474.0 190.1M485.4 115.7L470.1 115.8M474.2 113.4L470.1 115.8L474.3 118.2M485.4 77.8L472.0 70.4M476.8 70.3L472.0 70.4L474.5 74.5M502.3 571.0L487.5 574.9M490.9 571.5L487.5 574.9L492.1 576.2M502.3 537.2L487.3 540.0M490.9 536.8L487.3 540.0L491.8 541.6M502.3 520.3L487.1 522.3M490.9 519.4L487.1 522.3L491.6 524.1M502.3 503.3L487.1 504.8M491.0 502.0L487.1 504.8L491.4 506.8M502.3 486.4L487.0 485.2M491.4 483.1L487.0 485.2L491.0 487.9M502.3 469.4L487.6 465.2M492.2 464.0L487.6 465.2L490.9 468.7M502.3 435.4L489.2 427.4M494.0 427.5L489.2 427.4L491.5 431.6M502.3 418.3L488.3 424.5M491.2 420.7L488.3 424.5L493.1 425.0M502.3 401.1L488.3 407.4M491.2 403.5L488.3 407.4L493.1 407.9M502.3 366.7L488.6 373.5M491.3 369.5L488.6 373.5L493.4 373.8M502.3 349.4L488.6 356.2M491.3 352.2L488.6 356.2L493.4 356.5M502.3 297.0L488.8 304.2M491.3 300.1L488.8 304.2L493.6 304.4M502.3 243.8L487.3 247.1M490.9 243.9L487.3 247.1L491.9 248.6M502.3 225.9L487.2 228.6M490.9 225.5L487.2 228.6L491.7 230.2M502.3 207.9L487.0 208.9M491.0 206.2L487.0 208.9L491.3 211.0M502.3 189.7L487.0 190.4M491.1 187.8L487.0 190.4L491.3 192.6M502.3 171.4L487.0 170.4M491.3 168.3L487.0 170.4L491.0 173.1M502.3 153.0L487.7 148.4M492.4 147.4L487.7 148.4L490.9 152.0M502.3 115.7L488.8 108.5M493.6 108.3L488.8 108.5L491.3 112.6M502.3 96.8L489.2 88.9M494.0 89.0L489.2 88.9L491.5 93.1M519.2 571.0L505.1 576.9M508.0 573.1L505.1 576.9L509.8 577.5M519.2 554.1L504.5 558.3M507.8 554.8L504.5 558.3L509.1 559.4M519.2 537.2L504.3 540.6M507.8 537.3L504.3 540.6L508.9 542.0M519.2 520.3L504.1 523.0M507.8 519.9L504.1 523.0L508.7 524.6M519.2 503.3L504.0 504.7M507.9 501.9L504.0 504.7L508.3 506.7M519.2 486.4L503.9 487.1M508.0 484.5L503.9 487.1L508.2 489.3M519.2 469.4L507.4 459.7M512.1 460.5L507.4 459.7L509.1 464.2M519.2 452.4L509.1 440.9M513.6 442.5L509.1 440.9L510.0 445.6M519.2 418.3L504.6 423.0M507.9 419.4L504.6 423.0L509.3 424.0M519.2 383.9L505.2 390.2M508.1 386.3L505.2 390.2L510.0 390.7M519.2 366.7L505.5 373.5M508.2 369.5L505.5 373.5L510.3 373.8M519.2 349.4L505.5 356.3M508.2 352.3L505.5 356.3L510.3 356.6M519.2 314.6L505.7 321.8M508.3 317.8L505.7 321.8L510.5 322.0M519.2 297.0L505.8 304.4M508.3 300.3L505.8 304.4L510.6 304.5M519.2 279.4L505.8 286.8M508.3 282.7L505.8 286.8L510.6 286.9M519.2 261.7L505.5 268.5M508.2 264.5L505.5 268.5L510.3 268.8M519.2 243.8L505.0 249.5M508.0 245.8L505.0 249.5L509.7 250.2M519.2 225.9L504.3 229.2M507.8 226.0L504.3 229.2L508.8 230.7M519.2 207.9L504.1 210.6M507.8 207.5L504.1 210.6L508.6 212.2M519.2 189.7L503.9 190.8M507.9 188.1L503.9 190.8L508.3 192.9M519.2 171.4L504.0 169.9M508.3 167.9L504.0 169.9L507.9 172.7M519.2 153.0L504.0 151.0M508.5 149.1L504.0 151.0L507.8 153.9M519.2 134.4L504.4 130.5M509.1 129.2L504.4 130.5L507.8 133.9M519.2 115.7L505.1 109.7M509.9 109.1L505.1 109.7L508.0 113.5M519.2 96.8L505.6 89.8M510.4 89.5L505.6 89.8L508.2 93.8M519.2 77.8L505.7 70.5M510.5 70.4L505.7 70.5L508.2 74.6M519.2 58.5L506.0 50.9M510.8 50.9L506.0 50.9L508.4 55.0M519.2 39.1L505.8 31.7M510.6 31.6L505.8 31.7L508.3 35.8M536.1 571.0L524.2 580.7M525.9 576.2L524.2 580.7L529.0 579.9M536.1 554.1L523.2 562.3M525.4 558.1L523.2 562.3L528.0 562.1M536.1 537.2L521.8 542.6M524.8 538.9L521.8 542.6L526.5 543.4M536.1 520.3L521.2 523.7M524.7 520.4L521.2 523.7L525.8 525.1M536.1 503.3L521.0 505.8M524.7 502.8L521.0 505.8L525.5 507.5M536.1 486.4L520.9 484.4M525.4 482.5L520.9 484.4L524.7 487.3M536.1 469.4L523.7 460.5M528.5 460.9L523.7 460.5L525.7 464.8M536.1 452.4L526.3 440.7M530.8 442.3L526.3 440.7L527.1 445.4M536.1 418.3L522.1 424.5M525.0 420.7L522.1 424.5L526.9 425.0M536.1 332.0L522.8 339.6M525.2 335.5L522.8 339.6L527.6 339.6M536.1 314.6L522.7 322.0M525.2 317.9L522.7 322.0L527.5 322.1M536.1 297.0L522.6 304.3M525.1 300.2L522.6 304.3L527.4 304.4M536.1 279.4L522.5 286.5M525.1 282.4L522.5 286.5L527.3 286.7M536.1 261.7L522.2 268.1M525.0 264.2L522.2 268.1L527.0 268.5M536.1 243.8L521.7 249.0M524.8 245.4L521.7 249.0L526.4 249.9M536.1 225.9L521.2 229.4M524.7 226.1L521.2 229.4L525.8 230.8M536.1 207.9L521.0 210.5M524.7 207.4L521.0 210.5L525.5 212.2M536.1 189.7L520.9 191.2M524.8 188.4L520.9 191.2L525.2 193.2M536.1 171.4L520.8 170.4M525.1 168.3L520.8 170.4L524.8 173.1M536.1 153.0L521.0 150.4M525.5 148.8L521.0 150.4L524.7 153.5M536.1 134.4L521.7 129.4M526.4 128.5L521.7 129.4L524.8 133.0M536.1 115.7L522.4 109.0M527.1 108.6L522.4 109.0L525.0 113.0M536.1 96.8L522.5 89.8M527.3 89.6L522.5 89.8L525.1 93.9M536.1 77.8L522.6 70.6M527.4 70.4L522.6 70.6L525.1 74.6M536.1 58.5L522.6 51.3M527.4 51.2L522.6 51.3L525.1 55.4M536.1 39.1L522.5 32.0M527.3 31.8L522.5 32.0L525.1 36.1M553.0 571.0L543.1 582.6M543.9 577.9L543.1 582.6L547.6 581.0M553.0 554.1L543.2 565.9M544.0 561.1L543.2 565.9L547.7 564.2M553.0 537.2L540.5 545.9M542.5 541.6L540.5 545.9L545.2 545.5M553.0 520.3L538.7 525.7M541.7 522.0L538.7 525.7L543.4 526.5M553.0 503.3L538.1 506.7M541.6 503.5L538.1 506.7L542.7 508.2M553.0 486.4L537.8 488.4M541.6 485.5L537.8 488.4L542.3 490.2M553.0 418.3L538.5 423.1M541.7 419.5L538.5 423.1L543.2 424.1M553.0 401.1L538.6 406.4M541.7 402.7L538.6 406.4L543.4 407.2M553.0 349.4L539.5 356.6M542.0 352.5L539.5 356.6L544.3 356.7M553.0 332.0L539.7 339.5M542.1 335.4L539.7 339.5L544.5 339.6M553.0 314.6L539.5 321.8M542.0 317.7L539.5 321.8L544.3 321.9M553.0 297.0L539.3 303.8M542.0 299.8L539.3 303.8L544.1 304.1M553.0 279.4L539.1 285.8M541.9 281.9L539.1 285.8L543.9 286.3M553.0 261.7L538.8 267.4M541.8 263.6L538.8 267.4L543.6 268.1M553.0 243.8L538.4 248.5M541.7 244.9L538.4 248.5L543.1 249.5M553.0 225.9L538.2 230.0M541.6 226.5L538.2 230.0L542.9 231.2M553.0 207.9L538.1 211.4M541.6 208.1L538.1 211.4L542.7 212.8M553.0 189.7L537.9 192.2M541.6 189.2L537.9 192.2L542.4 193.9M553.0 171.4L537.8 172.9M541.7 170.1L537.8 172.9L542.1 174.9M553.0 153.0L537.8 151.4M542.2 149.4L537.8 151.4L541.7 154.2M553.0 134.4L538.4 129.7M543.1 128.7L538.4 129.7L541.7 133.3M553.0 115.7L539.3 109.0M544.0 108.6L539.3 109.0L541.9 113.0M553.0 96.8L539.3 90.1M544.0 89.8L539.3 90.1L541.9 94.1M553.0 77.8L539.3 71.0M544.0 70.7L539.3 71.0L541.9 75.0M553.0 58.5L539.3 51.8M544.0 51.5L539.3 51.8L541.9 55.8M553.0 39.1L539.2 32.4M544.0 32.1L539.2 32.4L541.9 36.4M569.9 571.0L561.4 583.7M561.7 578.9L561.4 583.7L565.7 581.6M569.9 554.1L562.1 567.2M562.1 562.4L562.1 567.2L566.3 564.9M569.9 537.2L560.4 549.2M561.1 544.5L560.4 549.2L564.9 547.4M569.9 520.3L556.8 528.2M559.1 524.0L556.8 528.2L561.6 528.1M569.9 503.3L555.5 508.4M558.6 504.8L555.5 508.4L560.2 509.3M569.9 486.4L554.9 489.5M558.5 486.3L554.9 489.5L559.5 491.0M569.9 469.4L554.7 471.1M558.6 468.2L554.7 471.1L559.1 473.0M569.9 452.4L554.9 455.2M558.5 452.1L554.9 455.2L559.4 456.8M569.9 401.1L556.0 407.6M558.8 403.6L556.0 407.6L560.8 408.0M569.9 383.9L556.3 391.0M558.9 386.9L556.3 391.0L561.1 391.2M569.9 366.7L556.5 374.0M559.0 369.9L556.5 374.0L561.3 374.2M569.9 349.4L556.4 356.6M558.9 352.6L556.4 356.6L561.2 356.8M569.9 332.0L556.3 339.1M558.9 335.0L556.3 339.1L561.1 339.3M569.9 314.6L556.3 321.6M558.9 317.6L556.3 321.6L561.1 321.8M569.9 297.0L556.3 304.1M558.9 300.1L556.3 304.1L561.1 304.3M569.9 279.4L556.2 286.3M558.9 282.3L556.2 286.3L561.0 286.5M569.9 261.7L556.0 268.0M558.8 264.1L556.0 268.0L560.7 268.4M569.9 243.8L555.4 248.8M558.6 245.2L555.4 248.8L560.1 249.7M569.9 225.9L555.2 230.2M558.5 226.7L555.2 230.2L559.9 231.3M569.9 207.9L555.1 211.8M558.5 208.4L555.1 211.8L559.8 213.1M569.9 189.7L554.8 192.4M558.5 189.3L554.8 192.4L559.3 194.0M569.9 171.4L554.7 173.4M558.5 170.5L554.7 173.4L559.2 175.3M569.9 153.0L554.6 152.6M558.8 150.3L554.6 152.6L558.7 155.1M569.9 134.4L554.7 132.4M559.2 130.6L554.7 132.4L558.5 135.3M569.9 115.7L556.2 109.0M560.9 108.6L556.2 109.0L558.8 113.0M569.9 96.8L556.0 90.3M560.8 89.9L556.0 90.3L558.8 94.3M569.9 77.8L556.0 71.3M560.8 70.9L556.0 71.3L558.8 75.2M569.9 58.5L556.0 52.1M560.8 51.6L556.0 52.1L558.8 56.0M569.9 39.1L556.0 32.8M560.8 32.3L556.0 32.8L558.8 36.7M586.8 571.0L578.9 584.1M579.0 579.3L578.9 584.1L583.1 581.8M586.8 554.1L579.7 567.7M579.5 562.9L579.7 567.7L583.8 565.1M586.8 537.2L576.3 548.3M577.4 543.6L576.3 548.3L580.9 546.9M586.8 520.3L573.4 527.7M575.9 523.5L573.4 527.7L578.2 527.7M586.8 503.3L572.9 509.8M575.7 505.9L572.9 509.8L577.7 510.2M586.8 486.4L572.9 492.8M575.7 488.8L572.9 492.8L577.7 493.2M586.8 469.4L572.9 475.8M575.7 471.9L572.9 475.8L577.7 476.2M586.8 452.4L573.0 458.9M575.7 455.0L573.0 458.9L577.7 459.3M586.8 435.4L573.2 442.3M575.8 438.3L573.2 442.3L578.0 442.6M586.8 418.3L573.1 425.1M575.7 421.1L573.1 425.1L577.9 425.4M586.8 401.1L573.2 408.1M575.8 404.1L573.2 408.1L578.0 408.3M586.8 383.9L573.2 390.9M575.8 386.9L573.2 390.9L578.0 391.1M586.8 366.7L573.3 373.9M575.8 369.8L573.3 373.9L578.1 374.1M586.8 349.4L573.3 356.6M575.8 352.5L573.3 356.6L578.1 356.7M586.8 332.0L573.3 339.3M575.9 335.2L573.3 339.3L578.1 339.4M586.8 314.6L573.3 321.7M575.8 317.7L573.3 321.7L578.1 321.9M586.8 297.0L573.3 304.2M575.8 300.2L573.3 304.2L578.1 304.4M586.8 279.4L573.2 286.5M575.8 282.4L573.2 286.5L578.0 286.7M586.8 261.7L573.0 268.3M575.7 264.3L573.0 268.3L577.8 268.6M586.8 243.8L572.5 249.3M575.5 245.5L572.5 249.3L577.2 250.0M586.8 225.9L572.2 230.6M575.5 227.0L572.2 230.6L576.9 231.6M586.8 207.9L572.0 211.6M575.4 208.3L572.0 211.6L576.6 212.9M586.8 189.7L571.7 192.4M575.4 189.3L571.7 192.4L576.2 194.0M586.8 171.4L571.6 173.1M575.5 170.3L571.6 173.1L576.0 175.0M586.8 153.0L571.5 153.1M575.6 150.7L571.5 153.1L575.7 155.5M586.8 134.4L571.7 132.1M576.1 130.4L571.7 132.1L575.4 135.1M586.8 115.7L572.3 110.9M577.0 109.9L572.3 110.9L575.5 114.4M586.8 96.8L572.2 92.3M576.9 91.2L572.2 92.3L575.4 95.8M586.8 77.8L572.8 71.5M577.6 71.0L572.8 71.5L575.6 75.4M586.8 58.5L572.9 52.1M577.7 51.6L572.9 52.1L575.7 56.0M586.8 39.1L572.7 33.1M577.5 32.5L572.7 33.1L575.6 36.9M603.7 571.0L592.9 581.8M594.1 577.2L592.9 581.8L597.5 580.6M603.7 537.2L591.4 546.3M593.3 541.9L591.4 546.3L596.2 545.8M603.7 520.3L590.2 527.5M592.7 523.4L590.2 527.5L595.0 527.6M603.7 503.3L589.9 510.0M592.6 506.1L589.9 510.0L594.7 510.4M603.7 486.4L590.0 493.1M592.6 489.1L590.0 493.1L594.7 493.4M603.7 469.4L590.0 476.3M592.7 472.3L590.0 476.3L594.8 476.5M603.7 452.4L589.9 459.1M592.6 455.1L589.9 459.1L594.7 459.4M603.7 435.4L590.0 442.2M592.6 438.2L590.0 442.2L594.8 442.5M603.7 418.3L589.9 425.0M592.6 421.0L589.9 425.0L594.7 425.3M603.7 401.1L590.0 408.0M592.7 404.0L590.0 408.0L594.8 408.3M603.7 383.9L590.1 390.9M592.7 386.9L590.1 390.9L594.9 391.2M603.7 366.7L590.2 373.9M592.7 369.8L590.2 373.9L595.0 374.0M603.7 349.4L590.2 356.7M592.8 352.6L590.2 356.7L595.0 356.8M603.7 332.0L590.3 339.3M592.8 335.2L590.3 339.3L595.1 339.5M603.7 314.6L590.2 321.8M592.8 317.7L590.2 321.8L595.0 321.9M603.7 297.0L590.2 304.1M592.7 300.1L590.2 304.1L594.9 304.3M603.7 279.4L590.0 286.3M592.7 282.3L590.0 286.3L594.8 286.6M603.7 261.7L589.8 268.0M592.6 264.1L589.8 268.0L594.6 268.5M603.7 243.8L589.4 249.2M592.4 245.5L589.4 249.2L594.1 250.0M603.7 225.9L589.1 230.5M592.3 226.9L589.1 230.5L593.8 231.5M603.7 207.9L588.9 211.9M592.3 208.5L588.9 211.9L593.6 213.1M603.7 189.7L588.7 192.7M592.3 189.5L588.7 192.7L593.2 194.2M603.7 171.4L588.5 173.2M592.4 170.4L588.5 173.2L592.9 175.1M603.7 153.0L588.4 154.0M592.4 151.3L588.4 154.0L592.7 156.1M603.7 134.4L588.4 134.4M592.6 132.0L588.4 134.4L592.6 136.8M603.7 115.7L588.4 114.7M592.7 112.6L588.4 114.7L592.4 117.3M603.7 96.8L588.6 94.5M593.1 92.7L588.6 94.5L592.3 97.5M603.7 77.8L588.9 73.8M593.6 72.6L588.9 73.8L592.3 77.2M603.7 58.5L589.4 53.1M594.1 52.3L589.4 53.1L592.4 56.8M603.7 39.1L589.2 34.3M593.9 33.3L589.2 34.3L592.4 37.9M620.6 571.0L607.4 578.7M609.8 574.5L607.4 578.7L612.2 578.7M620.6 554.1L607.2 561.5M609.7 557.4L607.2 561.5L612.0 561.6M620.6 537.2L607.1 544.4M609.6 540.3L607.1 544.4L611.9 544.6M620.6 520.3L606.9 527.0M609.5 523.0L606.9 527.0L611.6 527.3M620.6 503.3L606.9 510.1M609.5 506.1L606.9 510.1L611.7 510.4M620.6 486.4L606.8 493.1M609.5 489.1L606.8 493.1L611.6 493.4M620.6 469.4L606.9 476.2M609.5 472.2L606.9 476.2L611.7 476.5M620.6 452.4L606.8 459.0M609.5 455.0L606.8 459.0L611.6 459.4M620.6 435.4L606.7 441.7M609.5 437.8L606.7 441.7L611.5 442.2M620.6 418.3L606.7 424.7M609.5 420.7L606.7 424.7L611.5 425.1M620.6 401.1L606.8 407.8M609.5 403.9L606.8 407.8L611.6 408.2M620.6 383.9L607.1 391.1M609.6 387.0L607.1 391.1L611.9 391.3M620.6 366.7L607.1 373.9M609.6 369.8L607.1 373.9L611.9 374.1M620.6 349.4L607.1 356.6M609.6 352.5L607.1 356.6L611.9 356.8M620.6 332.0L607.1 339.3M609.7 335.2L607.1 339.3L611.9 339.4M620.6 314.6L607.1 321.7M609.6 317.6L607.1 321.7L611.9 321.9M620.6 297.0L606.9 303.8M609.5 299.8L606.9 303.8L611.7 304.1M620.6 279.4L606.7 285.7M609.5 281.8L606.7 285.7L611.4 286.2M620.6 261.7L606.3 267.2M609.3 263.5L606.3 267.2L611.1 267.9M620.6 243.8L606.0 248.5M609.3 244.9L606.0 248.5L610.7 249.5M620.6 225.9L606.0 230.5M609.2 226.9L606.0 230.5L610.7 231.5M620.6 207.9L605.9 212.3M609.2 208.8L605.9 212.3L610.6 213.4M620.6 189.7L605.6 192.7M609.2 189.5L605.6 192.7L610.1 194.3M620.6 171.4L605.5 174.1M609.2 171.0L605.5 174.1L610.0 175.7M620.6 153.0L605.3 154.2M609.3 151.5L605.3 154.2L609.7 156.3M620.6 134.4L605.3 135.1M609.4 132.5L605.3 135.1L609.6 137.3M620.6 115.7L605.3 116.7M609.3 114.0L605.3 116.7L609.6 118.8M620.6 96.8L605.3 95.8M609.6 93.7L605.3 95.8L609.3 98.5M620.6 77.8L605.4 76.1M609.8 74.1L605.4 76.1L609.3 78.9M620.6 58.5L605.4 56.5M609.9 54.7L605.4 56.5L609.2 59.4M620.6 39.1L605.5 36.5M610.0 34.9L605.5 36.5L609.2 39.6M637.5 571.0L624.3 578.7M626.6 574.5L624.3 578.7L629.1 578.7M637.5 554.1L624.1 561.5M626.6 557.4L624.1 561.5L628.9 561.6M637.5 537.2L624.0 544.4M626.5 540.3L624.0 544.4L628.8 544.6M637.5 520.3L623.8 527.1M626.4 523.1L623.8 527.1L628.6 527.4M637.5 503.3L623.8 510.1M626.4 506.1L623.8 510.1L628.6 510.4M637.5 486.4L623.7 493.0M626.4 489.0L623.7 493.0L628.5 493.4M637.5 469.4L623.6 475.9M626.4 472.0L623.6 475.9L628.4 476.3M637.5 452.4L623.6 458.7M626.4 454.8L623.6 458.7L628.3 459.2M637.5 435.4L623.5 441.5M626.3 437.6L623.5 441.5L628.2 442.0M637.5 418.3L623.5 424.5M626.3 420.6L623.5 424.5L628.3 425.0M637.5 401.1L623.7 407.7M626.4 403.8L623.7 407.7L628.5 408.1M637.5 383.9L623.9 391.0M626.5 387.0L623.9 391.0L628.7 391.2M637.5 366.7L624.0 373.9M626.5 369.8L624.0 373.9L628.8 374.1M637.5 349.4L624.0 356.5M626.5 352.5L624.0 356.5L628.8 356.7M637.5 332.0L623.9 339.0M626.5 335.0L623.9 339.0L628.7 339.2M637.5 314.6L623.8 321.3M626.4 317.3L623.8 321.3L628.5 321.6M637.5 297.0L623.5 303.2M626.3 299.4L623.5 303.2L628.3 303.7M637.5 279.4L623.3 285.0M626.3 281.3L623.3 285.0L628.0 285.7M637.5 261.7L623.0 266.6M626.2 263.0L623.0 266.6L627.7 267.5M637.5 243.8L622.9 248.3M626.1 244.8L622.9 248.3L627.5 249.4M637.5 225.9L622.9 230.3M626.1 226.8L622.9 230.3L627.5 231.4M637.5 207.9L622.8 212.0M626.1 208.5L622.8 212.0L627.4 213.2M637.5 189.7L622.5 192.8M626.1 189.6L622.5 192.8L627.1 194.3M637.5 171.4L622.4 173.9M626.1 170.9L622.4 173.9L626.9 175.6M637.5 153.0L622.2 154.2M626.2 151.5L622.2 154.2L626.6 156.3M637.5 134.4L622.2 135.1M626.3 132.5L622.2 135.1L626.5 137.3M637.5 115.7L622.2 116.7M626.2 114.0L622.2 116.7L626.5 118.8M637.5 96.8L622.2 96.1M626.5 93.9L622.2 96.1L626.3 98.7M637.5 77.8L622.2 76.7M626.5 74.6L622.2 76.7L626.2 79.4M637.5 58.5L622.2 57.5M626.5 55.4L622.2 57.5L626.2 60.2M637.5 39.1L622.3 37.6M626.6 35.6L622.3 37.6L626.2 40.4"/>
</g>
<g stroke="#000" stroke-width="1" shape-rendering="crispEdges">
<line x1="130.5" y1="36" x2="130.5" y2="572"/>
<line x1="214.5" y1="36" x2="214.5" y2="572"/>
<line x1="299.5" y1="36" x2="299.5" y2="572"/>
<line x1="383.5" y1="36" x2="383.5" y2="572"/>
<line x1="468.5" y1="36" x2="468.5" y2="572"/>
<line x1="552.5" y1="36" x2="552.5" y2="572"/>
<line x1="111" y1="485.5" x2="639" y2="485.5"/>
<line x1="111" y1="400.5" x2="639" y2="400.5"/>
<line x1="111" y1="314.5" x2="639" y2="314.5"/>
<line x1="111" y1="225.5" x2="639" y2="225.5"/>
<line x1="111" y1="133.5" x2="639" y2="133.5"/>
</g>
<g fill="#c0c0c0" stroke="#000" stroke-width="1" stroke-linejoin="round" shape-rendering="crispEdges">
<polygon points="504.0,36.0 504.0,38.4 503.0,44.0 498.0,47.0 494.0,49.0 493.0,56.0 495.0,60.0 499.0,58.0 500.0,63.0 497.0,66.0 495.0,70.0 491.0,71.0 489.0,75.0 484.0,78.0 479.0,77.0 481.0,82.0 478.0,88.0 473.0,94.0 469.0,99.0 462.0,100.0 461.0,106.0 464.0,110.0 462.0,116.0 465.0,120.0 461.0,125.0 455.0,128.0 453.0,132.0 447.0,135.0 442.0,140.0 435.0,143.0 432.0,147.0 428.0,152.0 422.0,156.0 417.0,160.0 415.0,167.0 410.0,166.0 409.0,169.0 404.0,172.0 398.0,173.0 390.0,174.0 384.0,175.0 380.0,176.0 379.0,179.0 374.0,180.0 372.0,183.0 368.0,182.0 366.4,185.0 364.8,180.0 362.8,175.0 361.0,170.0 357.6,168.2 356.8,174.0 358.4,179.0 357.6,183.0 356.4,187.0 354.0,186.0 353.0,182.0 351.0,180.0 349.0,181.0 351.0,185.0 352.0,190.0 349.0,191.0 346.0,193.0 342.0,192.0 340.0,190.0 339.0,193.0 335.0,193.0 332.0,195.0 328.0,193.0 328.0,196.0 324.0,198.0 320.0,198.0 317.0,200.0 313.0,200.0 310.0,202.0 307.0,200.0 305.6,203.0 308.0,206.0 305.0,208.0 303.0,211.0 306.0,214.0 308.0,218.0 305.0,220.0 301.0,220.0 298.0,216.0 296.0,211.0 295.0,206.0 298.0,202.0 298.0,199.0 295.0,197.0 293.0,194.0 290.0,196.0 288.0,199.0 283.0,198.0 281.0,195.0 277.0,193.0 275.0,191.0 272.0,195.0 268.0,196.0 264.0,196.0 260.0,199.0 260.0,200.0 255.0,202.0 254.0,206.0 245.0,206.0 243.0,207.0 242.0,212.0 241.0,217.0 237.0,222.0 233.0,225.0 229.0,230.0 228.0,239.0 226.0,244.0 228.0,249.0 231.0,253.0 235.0,257.0 240.0,262.0 241.0,269.0 245.0,275.0 251.0,280.0 257.0,285.0 260.0,287.0 264.0,290.0 268.0,293.0 271.0,296.0 272.0,296.0 275.0,300.0 279.0,305.0 282.0,311.0 284.0,318.0 286.0,326.0 287.0,334.0 288.0,342.0 290.0,349.0 289.0,355.0 287.0,358.0 286.0,364.0 287.0,370.0 284.0,375.0 280.0,378.0 276.0,380.0 272.0,382.0 268.0,385.0 264.0,387.0 260.0,389.0 260.0,392.0 254.0,394.0 249.0,396.0 245.0,400.0 242.0,404.0 241.0,407.0 237.0,410.0 233.0,413.0 227.0,415.0 222.0,418.0 217.0,423.0 214.0,424.0 213.0,428.0 212.0,420.0 212.0,412.0 213.0,405.0 216.0,402.0 215.0,400.0 211.0,398.0 207.0,396.0 203.0,396.0 199.0,394.0 194.0,392.0 191.0,390.0 193.0,387.0 193.0,383.0 190.0,381.0 188.0,384.0 184.0,384.0 183.0,380.0 181.0,376.0 178.0,371.0 176.0,366.0 174.0,364.0 171.0,365.0 170.0,361.0 167.0,358.0 164.0,356.0 160.0,353.6 156.0,355.6 153.0,355.0 148.0,355.0 145.0,355.0 146.0,350.0 147.0,345.0 147.0,340.4 142.0,339.0 137.0,339.6 133.0,340.4 129.4,343.0 130.0,348.0 130.6,356.0 129.0,364.0 127.0,370.0 125.0,376.0 122.0,382.0 121.0,388.0 118.0,394.0 116.0,399.0 116.0,405.0 118.0,412.0 121.0,414.0 124.0,408.0 125.0,414.0 128.6,416.0 129.0,424.0 131.0,429.0 135.0,429.0 136.0,435.0 137.0,441.0 139.0,447.0 144.0,451.0 150.0,453.0 156.0,456.0 161.0,461.0 165.0,466.0 171.0,470.0 176.0,474.0 181.0,479.0 185.0,483.0 187.4,489.0 188.6,495.0 188.5,495.0 187.0,501.0 187.4,507.0 188.5,513.0 190.0,519.0 192.2,523.6 195.2,527.3 197.5,531.8 199.0,537.1 200.5,541.6 201.2,544.6 198.2,546.1 194.5,547.6 190.7,546.9 188.5,548.4 186.2,545.4 183.2,542.4 179.4,539.4 174.9,536.4 170.4,533.3 165.9,530.3 161.4,527.3 156.9,524.3 153.9,521.3 153.1,516.0 150.1,511.5 147.1,507.8 144.8,503.3 142.6,499.5 141.0,495.0 142.0,497.0 141.0,489.0 137.0,483.0 135.0,477.0 136.0,471.0 135.0,464.0 133.0,459.0 130.0,459.0 128.0,455.0 125.0,450.0 123.0,445.0 119.0,441.0 117.0,436.0 113.0,434.6 105.0,434.6 105.0,30.0"/>
<polygon points="477.6,251.3 482.1,249.8 487.3,250.5 491.8,252.0 496.4,255.0 501.6,255.0 505.4,252.0 506.9,255.0 505.4,261.1 506.1,267.1 509.1,272.3 510.6,277.6 508.4,283.6 505.4,289.6 501.6,293.4 497.1,296.4 494.1,300.2 492.6,306.2 491.8,310.7 494.8,315.2 496.4,321.2 500.1,325.7 504.6,328.7 509.1,326.5 515.2,326.5 518.2,329.5 522.7,331.7 530.2,334.0 529.7,333.8 534.9,334.5 535.7,337.6 531.9,336.8 529.7,339.8 531.9,343.6 536.4,346.6 538.7,351.1 537.9,355.3 534.5,355.6 532.7,351.8 530.4,348.8 526.7,346.9 524.4,342.8 521.4,339.1 517.6,335.3 513.1,331.8 509.8,331.8 510.1,335.3 512.4,339.1 513.1,343.6 510.9,343.6 507.9,339.8 504.4,336.1 501.1,332.7 497.3,332.7 493.6,334.2 489.1,336.1 483.8,335.3 480.0,333.0 478.5,330.0 480.8,327.0 483.8,325.2 484.5,321.0 481.5,318.0 478.5,319.2 476.7,322.5 474.0,319.5 470.3,316.5 477.6,324.2 475.3,321.2 472.3,318.2 469.3,315.2 467.8,309.2 466.3,303.2 464.8,297.1 465.5,291.1 468.5,291.9 471.5,294.9 474.5,294.4 474.5,291.1 473.8,285.1 475.3,277.6 476.1,270.1 475.3,262.6 476.1,256.5"/>
<polygon points="537.3,330.5 536.4,333.1 535.6,337.0 538.1,340.0 541.9,339.0 544.4,334.5 541.8,329.9"/>
<polygon points="474.9,341.8 478.6,345.5 480.0,349.1 481.6,353.7 483.8,358.2 486.4,362.4 489.5,362.4 492.0,359.0 494.1,355.1 494.4,350.2 492.8,345.4 489.6,341.4 484.7,339.5 479.9,339.8"/>
<polygon points="499.7,338.8 499.0,343.1 501.7,346.1 505.0,343.9 504.0,339.9"/>
<polygon points="501.8,369.1 501.8,373.0 502.5,376.7 501.8,381.0 500.3,385.5 500.0,390.3 501.8,394.3 503.9,390.1 506.5,389.5 510.5,388.7 512.9,386.3 515.8,384.1 518.8,382.6 521.9,379.9 520.5,376.1 517.1,374.4 513.3,374.4 509.8,372.2 505.9,369.1"/>
<polygon points="523.9,356.8 522.5,360.9 524.2,365.7 526.2,362.6 528.4,363.8 531.4,366.7 534.5,369.1 538.4,370.4 537.1,366.4 533.9,364.0 530.2,361.0 527.1,357.9"/>
<polygon points="540.4,357.3 543.3,362.1 545.6,365.1 547.9,367.4 550.1,369.6 552.3,373.3 553.8,377.1 557.1,380.4 561.4,381.8 564.4,379.2 563.5,374.2 562.0,369.6 560.5,365.2 559.7,360.5 557.2,357.1 552.3,356.0 546.1,356.0"/>
<polygon points="540.7,373.3 541.7,378.4 543.3,381.6 547.7,387.5 549.2,396.6 552.1,399.5 556.0,396.7 556.8,391.6 555.2,386.9 553.7,383.2 553.0,378.4 550.1,376.5 547.3,377.3 545.2,374.4"/>
<polygon points="508.6,358.0 508.6,360.7 511.6,361.7 515.5,360.2 513.5,357.0"/>
<polygon points="501.8,354.8 501.5,362.4 504.6,362.4 504.9,354.8"/>
<polygon points="508.7,405.8 510.0,408.4 512.8,411.2 515.9,412.4 517.9,416.4 521.4,417.3 523.8,413.3 523.1,409.0 521.9,405.3 522.3,403.8 522.2,403.7 522.4,403.2 522.4,403.2 523.6,399.5 525.9,395.0 528.2,389.5 527.3,385.1 522.9,383.6 517.8,385.0 516.8,387.8 516.8,391.6 516.1,396.7 514.1,400.0 509.4,401.6"/>
<polygon points="523.9,401.9 523.5,405.4 524.5,411.8 527.0,406.9 527.9,403.4 528.1,402.6 530.3,398.9 533.3,395.1 535.7,390.5 537.3,385.6 534.7,381.7 532.7,386.9 530.5,391.3 524.4,400.4"/>
<polygon points="533.1,402.5 533.9,407.3 537.9,408.1 542.8,406.7 545.8,403.7 545.0,399.7 541.2,397.4 536.1,398.8"/>
<polygon points="560.5,404.7 563.7,406.6 567.6,409.9 570.9,413.8 574.1,418.3 574.7,422.2 572.8,425.4 576.0,428.6 576.7,433.8 578.6,439.0 579.9,444.2 578.6,448.7 575.4,451.9 574.1,455.8 573.4,463.6 572.1,459.7 571.5,454.5 569.6,449.3 567.6,446.1 565.0,446.1 563.7,449.3 561.2,452.6 559.9,457.1 561.8,461.0 565.0,464.9 564.4,469.4 561.8,473.3 559.2,476.5 557.9,472.6 556.6,468.1 554.7,471.3 550.8,470.7 546.9,469.4 543.0,466.8 539.8,464.2 537.9,460.3 536.6,455.8 537.2,451.3 539.8,448.0 538.5,444.8 535.9,442.2 532.7,439.6 529.5,438.3 526.9,440.3 524.9,443.5 522.3,441.6 519.8,440.3 517.8,444.2 515.9,444.8 515.2,440.9 513.3,439.6 510.7,441.6 508.1,444.8 506.2,449.3 504.9,452.6 502.3,452.6 501.0,450.0 502.3,446.7 504.2,442.9 505.5,438.3 508.8,435.1 513.3,433.2 517.8,431.9 519.1,428.0 521.0,426.0 524.3,426.0 526.2,424.1 530.1,424.1 532.0,426.7 532.7,430.6 531.4,433.8 534.6,433.2 538.5,431.9 541.1,429.3 541.7,426.0 545.6,425.4 548.9,426.0 550.2,420.9 552.1,418.9 555.3,420.2 557.9,418.3 561.2,418.9 562.4,414.4 561.2,409.2"/>
<polygon points="500.3,457.7 502.9,456.8 505.3,458.4 504.5,460.7 501.6,461.2 500.1,459.7"/>
<polygon points="527.5,413.8 529.5,413.5 530.1,415.1 528.6,415.7"/>
<polygon points="546.7,413.8 548.5,413.5 549.0,415.1 547.4,415.7"/>
<polygon points="458.0,378.0 462.4,378.6 463.6,384.0 462.6,390.0 459.0,394.4 455.0,398.6 451.0,401.8 448.2,405.8 446.2,410.8 441.2,415.0 436.2,419.0 431.2,423.0 427.0,427.0 423.0,430.0 418.6,430.4 418.6,427.0 423.0,421.2 428.0,416.0 433.0,412.0 438.0,408.0 442.0,404.0 445.0,399.0 449.0,395.0 453.0,391.2 455.4,387.0 455.6,382.0"/>
<polygon points="281.0,573.0 281.0,557.0 283.0,549.0 286.0,543.0 290.0,538.0 292.0,537.0 295.0,541.0 299.0,542.0 304.0,541.0 309.0,542.0 314.0,544.0 318.0,543.0 320.0,538.0 319.6,533.0 322.0,529.0 321.0,525.0 324.0,523.0 330.0,521.4 336.0,520.6 342.0,519.4 348.0,518.0 353.0,515.0 356.0,511.0 359.0,507.0 362.0,502.0 365.0,498.0 368.0,493.0 372.0,492.0 376.0,489.0 380.0,487.0 383.0,486.0 387.0,484.0 390.0,480.0 393.0,477.0 396.0,474.0 400.0,470.0 403.0,465.0 407.0,461.0 410.0,457.0 412.0,453.0 415.0,450.0 415.0,453.0 419.0,455.0 423.0,458.0 426.0,462.0 429.0,466.0 432.0,470.0 435.0,473.0 440.0,474.0 445.0,476.0 451.0,479.0 456.0,481.0 454.0,484.0 448.0,485.4 441.0,486.0 437.0,488.0 440.0,492.0 445.0,493.0 441.0,496.0 435.0,498.0 431.0,498.0 430.0,502.0 432.0,508.0 429.0,513.0 426.0,517.0 428.0,522.0 431.0,527.0 432.0,533.0 431.0,538.0 434.0,544.0 439.0,547.0 445.0,550.0 450.0,553.0 452.0,556.0 445.0,558.0 437.0,557.0 434.0,553.0 435.0,559.0 433.0,562.0 430.0,566.0 426.6,569.0 426.0,573.0"/>
<polygon points="467.4,573.0 467.4,567.0 468.0,562.0 471.0,557.0 474.0,554.0 479.0,553.0 484.0,549.0 489.0,549.0 494.0,552.0 501.0,551.0 509.0,553.0 515.0,555.0 523.0,554.0 531.0,556.0 537.0,554.0 543.0,551.0 543.0,550.2 546.8,547.2 550.5,544.2 554.3,543.0 556.8,544.2 555.8,547.2 552.8,550.2 550.5,553.2 547.5,556.2 544.5,560.0 536.8,564.2 525.0,566.8 510.4,564.2 495.7,561.2 484.0,562.4 478.0,566.0 475.0,575.0"/>
<polygon points="608.4,528.4 611.4,526.9 614.4,527.6 615.2,531.4 613.7,534.4 610.7,535.9 608.0,534.4 607.4,531.4"/>
<polygon points="600.2,534.4 602.4,535.2 603.2,539.7 603.9,544.2 603.2,548.7 600.9,551.7 597.9,553.9 595.6,554.7 594.1,551.7 594.4,547.2 595.9,542.7 597.9,538.2"/>
<polygon points="612.2,543.4 615.2,543.4 616.7,546.4 615.9,549.4 612.9,551.7 609.9,553.9 607.7,556.2 606.2,558.5 609.2,560.0 612.2,561.0 615.2,562.2 616.7,565.2 614.4,565.2 611.4,563.7 607.7,563.0 604.7,563.0 602.4,565.2 602.0,572.7 599.4,572.7 599.1,565.2 596.8,562.2 596.4,559.2 599.4,557.0 602.4,554.7 604.7,551.7 606.2,548.7 609.2,545.7"/>
<polygon points="582.1,493.8 584.4,493.8 584.8,497.6 583.3,499.1 581.8,497.6"/>
<polygon points="560.3,508.1 562.6,508.8 564.1,511.8 562.6,512.9 560.8,511.1"/>
<polygon points="266.0,501.0 269.0,499.0 272.0,502.0 271.6,506.0 268.4,508.0 266.0,506.0"/>
<polygon points="105.0,508.5 112.8,508.5 117.0,510.0 121.5,514.5 126.1,519.8 129.1,524.3 132.1,527.3 135.1,527.3 138.8,531.1 143.3,534.8 145.6,538.6 150.1,539.4 153.1,541.6 156.1,542.4 160.6,543.1 164.4,545.4 166.7,549.1 168.2,552.9 171.2,555.2 174.9,556.7 178.7,558.2 181.7,561.2 183.9,563.4 180.2,564.9 175.7,565.7 180.2,565.7 186.2,562.7 189.2,564.2 192.2,567.2 194.5,569.7 195.2,576.2 124.5,576.2 124.5,569.7 120.0,567.2 116.3,564.9 114.0,561.2 112.8,556.7 105.0,556.7"/>
<polygon points="144.8,531.8 147.9,532.6 148.6,536.4 147.1,539.4 145.3,537.1"/>
<polygon points="153.1,535.6 156.9,534.4 159.4,536.4 158.4,539.4 155.4,540.9 153.4,538.6"/>
<polygon points="500.1,314.0 502.8,313.7 504.0,315.9 503.4,318.9 501.3,320.0 499.8,317.4"/>
<polygon points="165.2,545.8 169.7,545.1 171.9,547.9 171.3,551.2 174.9,552.7 178.7,552.1 181.7,554.4 182.4,557.1 180.2,557.9 175.7,556.4 171.5,554.8 168.5,552.1 166.8,548.5"/>
</g>
<g fill="#c0c0c0" stroke="#000" stroke-opacity="0.35" stroke-width="1" stroke-linejoin="round" shape-rendering="crispEdges">
<polygon points="287.0,227.0 292.0,226.6 300.0,225.4 307.0,224.6 312.0,224.0 316.0,227.0 317.0,231.0 314.0,237.0 310.0,242.0 309.0,247.0 305.0,251.0 300.0,254.0 295.0,256.0 290.0,256.0 285.0,254.0 280.0,253.0 277.0,248.0 276.0,242.0 278.0,237.0 281.0,233.0 284.0,230.0"/>
<polygon points="495.1,128.4 499.2,131.0 501.2,133.5 500.5,137.4 499.2,142.5 498.0,148.2 496.0,153.4 494.1,159.8 492.8,166.2 489.6,171.9 485.8,176.4 483.9,181.5 483.5,188.5 480.7,189.2 479.7,184.0 477.5,181.5 474.3,179.0 471.7,173.2 470.2,168.7 470.5,163.6 471.7,155.9 474.9,150.8 477.5,145.0 481.3,139.9 485.2,134.8 488.4,132.3 491.6,130.1"/>
</g>
<g fill="#000" shape-rendering="crispEdges">
<polygon points="462.0,162.0 464.0,162.0 464.0,164.0 462.0,164.0"/>
<polygon points="462.0,162.0 463.0,162.0 463.0,164.0 462.0,164.0"/>
<polygon points="463.0,165.0 464.0,165.0 464.0,167.0 463.0,167.0"/>
<polygon points="460.0,157.0 461.0,157.0 461.0,159.0 460.0,159.0"/>
<polygon points="466.0,163.0 467.0,163.0 467.0,164.0 466.0,164.0"/>
<polygon points="463.0,165.0 465.0,165.0 465.0,167.0 463.0,167.0"/>
<polygon points="463.0,158.0 464.0,158.0 464.0,160.0 463.0,160.0"/>
<polygon points="462.0,163.0 464.0,163.0 464.0,165.0 462.0,165.0"/>
<polygon points="461.0,162.0 462.0,162.0 462.0,164.0 461.0,164.0"/>
<polygon points="460.0,159.0 462.0,159.0 462.0,160.0 460.0,160.0"/>
<polygon points="461.0,165.0 463.0,165.0 463.0,166.0 461.0,166.0"/>
<polygon points="466.0,161.0 468.0,161.0 468.0,163.0 466.0,163.0"/>
<polygon points="458.0,163.0 460.0,163.0 460.0,165.0 458.0,165.0"/>
<polygon points="458.0,160.0 460.0,160.0 460.0,161.0 458.0,161.0"/>
<polygon points="459.0,164.0 460.0,164.0 460.0,165.0 459.0,165.0"/>
<polygon points="462.0,161.0 463.0,161.0 463.0,163.0 462.0,163.0"/>
<polygon points="462.0,167.0 463.0,167.0 463.0,169.0 462.0,169.0"/>
<polygon points="463.0,157.0 465.0,157.0 465.0,158.0 463.0,158.0"/>
<polygon points="466.0,163.0 467.0,163.0 467.0,164.0 466.0,164.0"/>
<polygon points="463.0,162.0 464.0,162.0 464.0,163.0 463.0,163.0"/>
<polygon points="459.0,159.0 461.0,159.0 461.0,161.0 459.0,161.0"/>
<polygon points="461.0,157.0 462.0,157.0 462.0,158.0 461.0,158.0"/>
<polygon points="463.0,157.0 465.0,157.0 465.0,158.0 463.0,158.0"/>
<polygon points="465.0,158.0 466.0,158.0 466.0,160.0 465.0,160.0"/>
<polygon points="460.0,158.0 461.0,158.0 461.0,160.0 460.0,160.0"/>
<polygon points="465.0,163.0 467.0,163.0 467.0,164.0 465.0,164.0"/>
<polygon points="464.0,159.0 466.0,159.0 466.0,161.0 464.0,161.0"/>
<polygon points="462.0,166.0 463.0,166.0 463.0,167.0 462.0,167.0"/>
<polygon points="460.0,162.0 461.0,162.0 461.0,164.0 460.0,164.0"/>
<polygon points="464.0,157.0 466.0,157.0 466.0,159.0 464.0,159.0"/>
<polygon points="460.0,162.0 461.0,162.0 461.0,163.0 460.0,163.0"/>
<polygon points="461.0,166.0 463.0,166.0 463.0,167.0 461.0,167.0"/>
<polygon points="463.0,166.0 465.0,166.0 465.0,168.0 463.0,168.0"/>
<polygon points="458.0,163.0 460.0,163.0 460.0,164.0 458.0,164.0"/>
<polygon points="464.0,160.0 465.0,160.0 465.0,161.0 464.0,161.0"/>
<polygon points="462.0,160.0 463.0,160.0 463.0,161.0 462.0,161.0"/>
<polygon points="461.0,164.0 462.0,164.0 462.0,166.0 461.0,166.0"/>
<polygon points="462.0,156.0 464.0,156.0 464.0,158.0 462.0,158.0"/>
<polygon points="463.0,163.0 464.0,163.0 464.0,164.0 463.0,164.0"/>
<polygon points="465.0,164.0 467.0,164.0 467.0,166.0 465.0,166.0"/>
<polygon points="601.0,106.0 604.0,106.0 604.0,108.0 601.0,108.0"/>
<polygon points="599.0,106.0 601.0,106.0 601.0,109.0 599.0,109.0"/>
<polygon points="606.0,100.0 607.0,100.0 607.0,103.0 606.0,103.0"/>
<polygon points="604.0,105.0 606.0,105.0 606.0,106.0 604.0,106.0"/>
<polygon points="598.0,106.0 601.0,106.0 601.0,107.0 598.0,107.0"/>
<polygon points="595.0,111.0 597.0,111.0 597.0,114.0 595.0,114.0"/>
<polygon points="600.0,107.0 601.0,107.0 601.0,108.0 600.0,108.0"/>
<polygon points="606.0,101.0 607.0,101.0 607.0,102.0 606.0,102.0"/>
<polygon points="608.0,99.0 610.0,99.0 610.0,100.0 608.0,100.0"/>
<polygon points="605.0,104.0 608.0,104.0 608.0,106.0 605.0,106.0"/>
<polygon points="607.0,100.0 610.0,100.0 610.0,101.0 607.0,101.0"/>
<polygon points="602.0,104.0 603.0,104.0 603.0,106.0 602.0,106.0"/>
<polygon points="603.0,104.0 605.0,104.0 605.0,106.0 603.0,106.0"/>
<polygon points="603.0,104.0 606.0,104.0 606.0,107.0 603.0,107.0"/>
<polygon points="605.0,101.0 607.0,101.0 607.0,104.0 605.0,104.0"/>
<polygon points="599.0,106.0 601.0,106.0 601.0,107.0 599.0,107.0"/>
<polygon points="598.0,107.0 601.0,107.0 601.0,110.0 598.0,110.0"/>
<polygon points="596.0,109.0 598.0,109.0 598.0,110.0 596.0,110.0"/>
<polygon points="601.0,104.0 603.0,104.0 603.0,105.0 601.0,105.0"/>
<polygon points="600.0,107.0 601.0,107.0 601.0,110.0 600.0,110.0"/>
<polygon points="597.0,108.0 599.0,108.0 599.0,110.0 597.0,110.0"/>
<polygon points="603.0,104.0 606.0,104.0 606.0,106.0 603.0,106.0"/>
<polygon points="599.0,106.0 601.0,106.0 601.0,108.0 599.0,108.0"/>
<polygon points="605.0,104.0 606.0,104.0 606.0,105.0 605.0,105.0"/>
<polygon points="601.0,106.0 602.0,106.0 602.0,107.0 601.0,107.0"/>
<polygon points="605.0,101.0 608.0,101.0 608.0,102.0 605.0,102.0"/>
<polygon points="605.0,100.0 606.0,100.0 606.0,103.0 605.0,103.0"/>
<polygon points="594.0,111.0 596.0,111.0 596.0,114.0 594.0,114.0"/>
<polygon points="600.0,104.0 602.0,104.0 602.0,107.0 600.0,107.0"/>
<polygon points="606.0,101.0 607.0,101.0 607.0,104.0 606.0,104.0"/>
<polygon points="601.0,105.0 603.0,105.0 603.0,107.0 601.0,107.0"/>
<polygon points="604.0,103.0 607.0,103.0 607.0,104.0 604.0,104.0"/>
<polygon points="600.0,106.0 601.0,106.0 601.0,108.0 600.0,108.0"/>
<polygon points="599.0,108.0 602.0,108.0 602.0,111.0 599.0,111.0"/>
<polygon points="601.0,107.0 604.0,107.0 604.0,109.0 601.0,109.0"/>
<polygon points="600.0,103.0 601.0,103.0 601.0,106.0 600.0,106.0"/>
<polygon points="594.0,111.0 596.0,111.0 596.0,113.0 594.0,113.0"/>
<polygon points="595.0,109.0 597.0,109.0 597.0,110.0 595.0,110.0"/>
<polygon points="602.0,105.0 604.0,105.0 604.0,106.0 602.0,106.0"/>
<polygon points="600.0,106.0 602.0,106.0 602.0,107.0 600.0,107.0"/>
<polygon points="602.0,104.0 604.0,104.0 604.0,107.0 602.0,107.0"/>
<polygon points="605.0,102.0 606.0,102.0 606.0,105.0 605.0,105.0"/>
<polygon points="605.0,103.0 606.0,103.0 606.0,104.0 605.0,104.0"/>
<polygon points="607.0,100.0 609.0,100.0 609.0,101.0 607.0,101.0"/>
<polygon points="604.0,101.0 606.0,101.0 606.0,104.0 604.0,104.0"/>
<polygon points="604.0,103.0 607.0,103.0 607.0,104.0 604.0,104.0"/>
<polygon points="597.0,109.0 600.0,109.0 600.0,111.0 597.0,111.0"/>
<polygon points="601.0,103.0 603.0,103.0 603.0,105.0 601.0,105.0"/>
<polygon points="594.0,110.0 597.0,110.0 597.0,111.0 594.0,111.0"/>
<polygon points="604.0,102.0 605.0,102.0 605.0,105.0 604.0,105.0"/>
<polygon points="604.0,104.0 606.0,104.0 606.0,105.0 604.0,105.0"/>
<polygon points="594.0,111.0 596.0,111.0 596.0,113.0 594.0,113.0"/>
<polygon points="596.0,110.0 598.0,110.0 598.0,112.0 596.0,112.0"/>
<polygon points="597.0,108.0 598.0,108.0 598.0,109.0 597.0,109.0"/>
<polygon points="608.0,99.0 609.0,99.0 609.0,102.0 608.0,102.0"/>
<polygon points="599.0,105.0 600.0,105.0 600.0,108.0 599.0,108.0"/>
<polygon points="607.0,99.0 610.0,99.0 610.0,101.0 607.0,101.0"/>
<polygon points="599.0,106.0 602.0,106.0 602.0,107.0 599.0,107.0"/>
<polygon points="601.0,106.0 602.0,106.0 602.0,107.0 601.0,107.0"/>
<polygon points="600.0,107.0 602.0,107.0 602.0,110.0 600.0,110.0"/>
<polygon points="604.0,103.0 605.0,103.0 605.0,106.0 604.0,106.0"/>
<polygon points="602.0,104.0 605.0,104.0 605.0,105.0 602.0,105.0"/>
<polygon points="598.0,107.0 600.0,107.0 600.0,110.0 598.0,110.0"/>
<polygon points="597.0,106.0 598.0,106.0 598.0,109.0 597.0,109.0"/>
<polygon points="595.0,110.0 597.0,110.0 597.0,112.0 595.0,112.0"/>
<polygon points="599.0,109.0 602.0,109.0 602.0,111.0 599.0,111.0"/>
<polygon points="600.0,107.0 603.0,107.0 603.0,109.0 600.0,109.0"/>
<polygon points="595.0,109.0 596.0,109.0 596.0,112.0 595.0,112.0"/>
<polygon points="603.0,104.0 605.0,104.0 605.0,106.0 603.0,106.0"/>
<polygon points="602.0,103.0 604.0,103.0 604.0,105.0 602.0,105.0"/>
<polygon points="602.0,106.0 603.0,106.0 603.0,107.0 602.0,107.0"/>
<polygon points="606.0,102.0 607.0,102.0 607.0,104.0 606.0,104.0"/>
<polygon points="600.0,103.0 603.0,103.0 603.0,106.0 600.0,106.0"/>
<polygon points="606.0,101.0 609.0,101.0 609.0,103.0 606.0,103.0"/>
<polygon points="606.0,103.0 608.0,103.0 608.0,104.0 606.0,104.0"/>
<polygon points="606.0,103.0 609.0,103.0 609.0,105.0 606.0,105.0"/>
<polygon points="596.0,108.0 598.0,108.0 598.0,109.0 596.0,109.0"/>
<polygon points="601.0,103.0 602.0,103.0 602.0,105.0 601.0,105.0"/>
<polygon points="604.0,103.0 606.0,103.0 606.0,104.0 604.0,104.0"/>
<polygon points="602.0,105.0 604.0,105.0 604.0,108.0 602.0,108.0"/>
<polygon points="626.0,74.0 629.0,74.0 629.0,75.0 626.0,75.0"/>
<polygon points="630.0,71.0 631.0,71.0 631.0,74.0 630.0,74.0"/>
<polygon points="629.0,68.0 632.0,68.0 632.0,69.0 629.0,69.0"/>
<polygon points="625.0,75.0 626.0,75.0 626.0,77.0 625.0,77.0"/>
<polygon points="632.0,70.0 634.0,70.0 634.0,72.0 632.0,72.0"/>
<polygon points="630.0,68.0 631.0,68.0 631.0,70.0 630.0,70.0"/>
<polygon points="632.0,68.0 634.0,68.0 634.0,71.0 632.0,71.0"/>
<polygon points="627.0,73.0 629.0,73.0 629.0,76.0 627.0,76.0"/>
<polygon points="625.0,76.0 628.0,76.0 628.0,78.0 625.0,78.0"/>
<polygon points="630.0,70.0 633.0,70.0 633.0,71.0 630.0,71.0"/>
<polygon points="628.0,73.0 631.0,73.0 631.0,74.0 628.0,74.0"/>
<polygon points="625.0,72.0 627.0,72.0 627.0,74.0 625.0,74.0"/>
<polygon points="626.0,72.0 628.0,72.0 628.0,74.0 626.0,74.0"/>
<polygon points="632.0,68.0 635.0,68.0 635.0,69.0 632.0,69.0"/>
<polygon points="630.0,72.0 633.0,72.0 633.0,74.0 630.0,74.0"/>
<polygon points="624.0,75.0 627.0,75.0 627.0,77.0 624.0,77.0"/>
<polygon points="627.0,73.0 628.0,73.0 628.0,74.0 627.0,74.0"/>
<polygon points="625.0,75.0 627.0,75.0 627.0,78.0 625.0,78.0"/>
<polygon points="626.0,74.0 629.0,74.0 629.0,76.0 626.0,76.0"/>
<polygon points="632.0,69.0 633.0,69.0 633.0,72.0 632.0,72.0"/>
<polygon points="631.0,68.0 634.0,68.0 634.0,71.0 631.0,71.0"/>
<polygon points="630.0,71.0 631.0,71.0 631.0,74.0 630.0,74.0"/>
<polygon points="624.0,76.0 625.0,76.0 625.0,78.0 624.0,78.0"/>
<polygon points="629.0,71.0 630.0,71.0 630.0,73.0 629.0,73.0"/>
<polygon points="626.0,75.0 629.0,75.0 629.0,76.0 626.0,76.0"/>
<polygon points="628.0,72.0 631.0,72.0 631.0,75.0 628.0,75.0"/>
<polygon points="623.0,75.0 625.0,75.0 625.0,78.0 623.0,78.0"/>
<polygon points="626.0,73.0 629.0,73.0 629.0,76.0 626.0,76.0"/>
<polygon points="624.0,75.0 626.0,75.0 626.0,76.0 624.0,76.0"/>
<polygon points="629.0,73.0 632.0,73.0 632.0,75.0 629.0,75.0"/>
<polygon points="625.0,73.0 626.0,73.0 626.0,75.0 625.0,75.0"/>
<polygon points="629.0,73.0 632.0,73.0 632.0,74.0 629.0,74.0"/>
<polygon points="626.0,74.0 627.0,74.0 627.0,76.0 626.0,76.0"/>
<polygon points="627.0,71.0 628.0,71.0 628.0,74.0 627.0,74.0"/>
<polygon points="625.0,73.0 627.0,73.0 627.0,75.0 625.0,75.0"/>
<polygon points="623.0,75.0 624.0,75.0 624.0,76.0 623.0,76.0"/>
<polygon points="631.0,69.0 632.0,69.0 632.0,72.0 631.0,72.0"/>
<polygon points="630.0,68.0 632.0,68.0 632.0,71.0 630.0,71.0"/>
<polygon points="626.0,71.0 629.0,71.0 629.0,73.0 626.0,73.0"/>
<polygon points="623.0,75.0 624.0,75.0 624.0,76.0 623.0,76.0"/>
<polygon points="626.0,73.0 628.0,73.0 628.0,74.0 626.0,74.0"/>
<polygon points="626.0,72.0 628.0,72.0 628.0,74.0 626.0,74.0"/>
<polygon points="629.0,71.0 631.0,71.0 631.0,72.0 629.0,72.0"/>
<polygon points="626.0,72.0 627.0,72.0 627.0,74.0 626.0,74.0"/>
<polygon points="631.0,70.0 632.0,70.0 632.0,73.0 631.0,73.0"/>
<polygon points="625.0,75.0 627.0,75.0 627.0,76.0 625.0,76.0"/>
<polygon points="627.0,74.0 628.0,74.0 628.0,75.0 627.0,75.0"/>
<polygon points="630.0,70.0 631.0,70.0 631.0,73.0 630.0,73.0"/>
<polygon points="631.0,70.0 632.0,70.0 632.0,73.0 631.0,73.0"/>
<polygon points="626.0,71.0 629.0,71.0 629.0,72.0 626.0,72.0"/>
<polygon points="629.0,72.0 632.0,72.0 632.0,74.0 629.0,74.0"/>
<polygon points="625.0,72.0 626.0,72.0 626.0,73.0 625.0,73.0"/>
<polygon points="628.0,71.0 629.0,71.0 629.0,73.0 628.0,73.0"/>
<polygon points="631.0,69.0 634.0,69.0 634.0,72.0 631.0,72.0"/>
<polygon points="630.0,69.0 631.0,69.0 631.0,70.0 630.0,70.0"/>
<polygon points="620.0,81.0 622.0,81.0 622.0,83.0 620.0,83.0"/>
<polygon points="613.0,89.0 615.0,89.0 615.0,91.0 613.0,91.0"/>
<polygon points="583.0,108.0 586.0,108.0 586.0,110.0 583.0,110.0"/>
<polygon points="590.0,104.0 592.0,104.0 592.0,106.0 590.0,106.0"/>
<polygon points="592.0,111.0 594.0,111.0 594.0,113.0 592.0,113.0"/>
<polygon points="596.0,112.0 599.0,112.0 599.0,114.0 596.0,114.0"/>
<polygon points="635.0,41.0 637.0,41.0 637.0,43.0 635.0,43.0"/>
<polygon points="632.0,45.0 633.0,45.0 633.0,47.0 632.0,47.0"/>
<polygon points="631.0,49.0 633.0,49.0 633.0,50.0 631.0,50.0"/>
<polygon points="636.0,71.0 638.0,71.0 638.0,73.0 636.0,73.0"/>
<polygon points="608.0,100.0 610.0,100.0 610.0,102.0 608.0,102.0"/>
<polygon points="531.0,146.0 534.0,146.0 534.0,149.0 531.0,149.0"/>
<polygon points="539.0,144.0 541.0,144.0 541.0,146.0 539.0,146.0"/>
<polygon points="537.0,146.0 539.0,146.0 539.0,148.0 537.0,148.0"/>
<polygon points="537.0,145.0 538.0,145.0 538.0,147.0 537.0,147.0"/>
<polygon points="532.0,147.0 534.0,147.0 534.0,149.0 532.0,149.0"/>
<polygon points="534.0,146.0 537.0,146.0 537.0,147.0 534.0,147.0"/>
<polygon points="532.0,146.0 534.0,146.0 534.0,147.0 532.0,147.0"/>
<polygon points="536.0,143.0 538.0,143.0 538.0,144.0 536.0,144.0"/>
<polygon points="539.0,145.0 542.0,145.0 542.0,147.0 539.0,147.0"/>
<polygon points="536.0,147.0 539.0,147.0 539.0,150.0 536.0,150.0"/>
<polygon points="536.0,145.0 537.0,145.0 537.0,148.0 536.0,148.0"/>
<polygon points="539.0,146.0 540.0,146.0 540.0,148.0 539.0,148.0"/>
<polygon points="535.0,144.0 537.0,144.0 537.0,147.0 535.0,147.0"/>
<polygon points="533.0,144.0 534.0,144.0 534.0,146.0 533.0,146.0"/>
<polygon points="537.0,144.0 540.0,144.0 540.0,147.0 537.0,147.0"/>
<polygon points="531.0,145.0 534.0,145.0 534.0,146.0 531.0,146.0"/>
<polygon points="535.0,145.0 537.0,145.0 537.0,147.0 535.0,147.0"/>
<polygon points="534.0,146.0 535.0,146.0 535.0,148.0 534.0,148.0"/>
<polygon points="535.0,144.0 538.0,144.0 538.0,146.0 535.0,146.0"/>
<polygon points="537.0,146.0 538.0,146.0 538.0,149.0 537.0,149.0"/>
<polygon points="534.0,148.0 535.0,148.0 535.0,150.0 534.0,150.0"/>
<polygon points="537.0,145.0 539.0,145.0 539.0,147.0 537.0,147.0"/>
<polygon points="534.0,146.0 535.0,146.0 535.0,149.0 534.0,149.0"/>
<polygon points="536.0,147.0 537.0,147.0 537.0,149.0 536.0,149.0"/>
<polygon points="535.0,146.0 537.0,146.0 537.0,148.0 535.0,148.0"/>
<polygon points="533.0,146.0 534.0,146.0 534.0,147.0 533.0,147.0"/>
<polygon points="532.0,146.0 534.0,146.0 534.0,148.0 532.0,148.0"/>
<polygon points="537.0,147.0 538.0,147.0 538.0,150.0 537.0,150.0"/>
<polygon points="539.0,147.0 540.0,147.0 540.0,150.0 539.0,150.0"/>
<polygon points="536.0,144.0 538.0,144.0 538.0,146.0 536.0,146.0"/>
<polygon points="532.0,145.0 535.0,145.0 535.0,147.0 532.0,147.0"/>
<polygon points="535.0,147.0 536.0,147.0 536.0,148.0 535.0,148.0"/>
<polygon points="536.0,145.0 538.0,145.0 538.0,146.0 536.0,146.0"/>
<polygon points="533.0,144.0 534.0,144.0 534.0,145.0 533.0,145.0"/>
<polygon points="537.0,144.0 539.0,144.0 539.0,146.0 537.0,146.0"/>
<polygon points="534.0,146.0 536.0,146.0 536.0,147.0 534.0,147.0"/>
<polygon points="538.0,144.0 540.0,144.0 540.0,147.0 538.0,147.0"/>
<polygon points="534.0,144.0 535.0,144.0 535.0,145.0 534.0,145.0"/>
<polygon points="531.0,146.0 532.0,146.0 532.0,147.0 531.0,147.0"/>
<polygon points="537.0,144.0 540.0,144.0 540.0,147.0 537.0,147.0"/>
<polygon points="557.0,136.0 558.0,136.0 558.0,137.0 557.0,137.0"/>
<polygon points="554.0,138.0 556.0,138.0 556.0,139.0 554.0,139.0"/>
<polygon points="554.0,137.0 556.0,137.0 556.0,139.0 554.0,139.0"/>
<polygon points="556.0,137.0 557.0,137.0 557.0,139.0 556.0,139.0"/>
<polygon points="557.0,136.0 560.0,136.0 560.0,139.0 557.0,139.0"/>
<polygon points="556.0,138.0 558.0,138.0 558.0,140.0 556.0,140.0"/>
<polygon points="554.0,138.0 556.0,138.0 556.0,140.0 554.0,140.0"/>
<polygon points="556.0,139.0 559.0,139.0 559.0,141.0 556.0,141.0"/>
<polygon points="556.0,139.0 557.0,139.0 557.0,141.0 556.0,141.0"/>
<polygon points="555.0,138.0 558.0,138.0 558.0,141.0 555.0,141.0"/>
<polygon points="556.0,136.0 557.0,136.0 557.0,137.0 556.0,137.0"/>
<polygon points="556.0,136.0 559.0,136.0 559.0,139.0 556.0,139.0"/>
<polygon points="555.0,139.0 556.0,139.0 556.0,140.0 555.0,140.0"/>
<polygon points="556.0,138.0 557.0,138.0 557.0,139.0 556.0,139.0"/>
<polygon points="548.0,139.0 550.0,139.0 550.0,141.0 548.0,141.0"/>
<polygon points="519.0,143.0 521.0,143.0 521.0,145.0 519.0,145.0"/>
<polygon points="499.0,165.0 500.0,165.0 500.0,166.0 499.0,166.0"/>
<polygon points="549.0,113.0 550.0,113.0 550.0,114.0 549.0,114.0"/>
<polygon points="486.0,120.0 487.0,120.0 487.0,121.0 486.0,121.0"/>
<polygon points="500.0,208.0 502.0,208.0 502.0,212.0 500.0,212.0"/>
<polygon points="499.0,211.0 503.0,211.0 503.0,212.0 499.0,212.0"/>
<polygon points="500.0,216.0 503.0,216.0 503.0,218.0 500.0,218.0"/>
<polygon points="499.0,218.0 501.0,218.0 501.0,220.0 499.0,220.0"/>
<polygon points="412.0,212.0 415.0,212.0 415.0,213.0 412.0,213.0"/>
<polygon points="469.0,367.0 471.0,367.0 471.0,368.0 469.0,368.0"/>
<polygon points="470.0,366.0 472.0,366.0 472.0,367.0 470.0,367.0"/>
<polygon points="469.0,365.0 470.0,365.0 470.0,367.0 469.0,367.0"/>
<polygon points="471.0,360.0 472.0,360.0 472.0,361.0 471.0,361.0"/>
<polygon points="470.0,368.0 472.0,368.0 472.0,369.0 470.0,369.0"/>
<polygon points="472.0,365.0 474.0,365.0 474.0,366.0 472.0,366.0"/>
<polygon points="469.0,366.0 470.0,366.0 470.0,368.0 469.0,368.0"/>
<polygon points="471.0,364.0 472.0,364.0 472.0,365.0 471.0,365.0"/>
<polygon points="470.0,363.0 471.0,363.0 471.0,365.0 470.0,365.0"/>
<polygon points="469.0,366.0 470.0,366.0 470.0,367.0 469.0,367.0"/>
<polygon points="471.0,370.0 472.0,370.0 472.0,372.0 471.0,372.0"/>
<polygon points="472.0,367.0 474.0,367.0 474.0,368.0 472.0,368.0"/>
<polygon points="470.0,369.0 472.0,369.0 472.0,370.0 470.0,370.0"/>
<polygon points="471.0,368.0 473.0,368.0 473.0,369.0 471.0,369.0"/>
<polygon points="468.0,361.0 469.0,361.0 469.0,362.0 468.0,362.0"/>
<polygon points="468.0,366.0 469.0,366.0 469.0,367.0 468.0,367.0"/>
<polygon points="472.0,365.0 474.0,365.0 474.0,366.0 472.0,366.0"/>
<polygon points="470.0,373.0 471.0,373.0 471.0,374.0 470.0,374.0"/>
<polygon points="468.0,366.0 470.0,366.0 470.0,368.0 468.0,368.0"/>
<polygon points="473.0,367.0 475.0,367.0 475.0,368.0 473.0,368.0"/>
<polygon points="467.0,370.0 469.0,370.0 469.0,372.0 467.0,372.0"/>
<polygon points="473.0,367.0 474.0,367.0 474.0,368.0 473.0,368.0"/>
<polygon points="467.0,369.0 469.0,369.0 469.0,370.0 467.0,370.0"/>
<polygon points="470.0,362.0 472.0,362.0 472.0,363.0 470.0,363.0"/>
<polygon points="469.0,367.0 471.0,367.0 471.0,368.0 469.0,368.0"/>
<polygon points="469.0,367.0 470.0,367.0 470.0,369.0 469.0,369.0"/>
<polygon points="468.0,366.0 469.0,366.0 469.0,368.0 468.0,368.0"/>
<polygon points="469.0,364.0 470.0,364.0 470.0,365.0 469.0,365.0"/>
<polygon points="472.0,371.0 474.0,371.0 474.0,372.0 472.0,372.0"/>
<polygon points="470.0,367.0 472.0,367.0 472.0,368.0 470.0,368.0"/>
<polygon points="470.0,361.0 471.0,361.0 471.0,363.0 470.0,363.0"/>
<polygon points="470.0,371.0 472.0,371.0 472.0,372.0 470.0,372.0"/>
<polygon points="467.0,365.0 469.0,365.0 469.0,367.0 467.0,367.0"/>
<polygon points="471.0,363.0 473.0,363.0 473.0,364.0 471.0,364.0"/>
<polygon points="469.0,361.0 470.0,361.0 470.0,362.0 469.0,362.0"/>
<polygon points="470.0,372.0 472.0,372.0 472.0,373.0 470.0,373.0"/>
<polygon points="471.0,371.0 472.0,371.0 472.0,373.0 471.0,373.0"/>
<polygon points="471.0,365.0 473.0,365.0 473.0,366.0 471.0,366.0"/>
<polygon points="473.0,370.0 474.0,370.0 474.0,371.0 473.0,371.0"/>
<polygon points="471.0,370.0 472.0,370.0 472.0,372.0 471.0,372.0"/>
<polygon points="468.0,366.0 469.0,366.0 469.0,367.0 468.0,367.0"/>
<polygon points="470.0,372.0 471.0,372.0 471.0,373.0 470.0,373.0"/>
<polygon points="471.0,371.0 472.0,371.0 472.0,373.0 471.0,373.0"/>
<polygon points="467.0,365.0 469.0,365.0 469.0,367.0 467.0,367.0"/>
<polygon points="468.0,369.0 469.0,369.0 469.0,371.0 468.0,371.0"/>
<polygon points="472.0,365.0 473.0,365.0 473.0,367.0 472.0,367.0"/>
<polygon points="473.0,366.0 474.0,366.0 474.0,367.0 473.0,367.0"/>
<polygon points="469.0,370.0 471.0,370.0 471.0,371.0 469.0,371.0"/>
<polygon points="470.0,366.0 471.0,366.0 471.0,367.0 470.0,367.0"/>
<polygon points="469.0,373.0 470.0,373.0 470.0,375.0 469.0,375.0"/>
<polygon points="469.0,372.0 471.0,372.0 471.0,373.0 469.0,373.0"/>
<polygon points="468.0,368.0 470.0,368.0 470.0,369.0 468.0,369.0"/>
<polygon points="470.0,368.0 471.0,368.0 471.0,370.0 470.0,370.0"/>
<polygon points="471.0,361.0 473.0,361.0 473.0,363.0 471.0,363.0"/>
<polygon points="468.0,366.0 470.0,366.0 470.0,368.0 468.0,368.0"/>
<polygon points="470.0,373.0 471.0,373.0 471.0,374.0 470.0,374.0"/>
<polygon points="469.0,364.0 471.0,364.0 471.0,366.0 469.0,366.0"/>
<polygon points="473.0,364.0 475.0,364.0 475.0,366.0 473.0,366.0"/>
<polygon points="473.0,366.0 475.0,366.0 475.0,368.0 473.0,368.0"/>
<polygon points="472.0,363.0 473.0,363.0 473.0,365.0 472.0,365.0"/>
<polygon points="471.0,370.0 472.0,370.0 472.0,372.0 471.0,372.0"/>
<polygon points="468.0,368.0 469.0,368.0 469.0,370.0 468.0,370.0"/>
<polygon points="469.0,371.0 471.0,371.0 471.0,372.0 469.0,372.0"/>
<polygon points="469.0,362.0 471.0,362.0 471.0,364.0 469.0,364.0"/>
<polygon points="469.0,363.0 470.0,363.0 470.0,364.0 469.0,364.0"/>
<polygon points="470.0,364.0 471.0,364.0 471.0,365.0 470.0,365.0"/>
<polygon points="472.0,372.0 473.0,372.0 473.0,373.0 472.0,373.0"/>
<polygon points="467.0,367.0 468.0,367.0 468.0,368.0 467.0,368.0"/>
<polygon points="473.0,370.0 475.0,370.0 475.0,371.0 473.0,371.0"/>
<polygon points="469.0,368.0 471.0,368.0 471.0,369.0 469.0,369.0"/>
<polygon points="463.0,381.0 464.0,381.0 464.0,383.0 463.0,383.0"/>
<polygon points="465.0,381.0 466.0,381.0 466.0,383.0 465.0,383.0"/>
<polygon points="465.0,381.0 466.0,381.0 466.0,383.0 465.0,383.0"/>
<polygon points="461.0,380.0 463.0,380.0 463.0,382.0 461.0,382.0"/>
<polygon points="461.0,380.0 463.0,380.0 463.0,382.0 461.0,382.0"/>
<polygon points="462.0,381.0 464.0,381.0 464.0,382.0 462.0,382.0"/>
<polygon points="461.0,380.0 463.0,380.0 463.0,381.0 461.0,381.0"/>
<polygon points="459.0,381.0 461.0,381.0 461.0,382.0 459.0,382.0"/>
<polygon points="463.0,384.0 464.0,384.0 464.0,386.0 463.0,386.0"/>
<polygon points="466.0,381.0 468.0,381.0 468.0,382.0 466.0,382.0"/>
<polygon points="463.0,384.0 464.0,384.0 464.0,385.0 463.0,385.0"/>
<polygon points="462.0,379.0 463.0,379.0 463.0,381.0 462.0,381.0"/>
<polygon points="463.0,378.0 464.0,378.0 464.0,379.0 463.0,379.0"/>
<polygon points="465.0,380.0 466.0,380.0 466.0,381.0 465.0,381.0"/>
<polygon points="463.0,383.0 464.0,383.0 464.0,385.0 463.0,385.0"/>
<polygon points="462.0,381.0 463.0,381.0 463.0,383.0 462.0,383.0"/>
<polygon points="460.0,382.0 461.0,382.0 461.0,383.0 460.0,383.0"/>
<polygon points="462.0,379.0 464.0,379.0 464.0,380.0 462.0,380.0"/>
<polygon points="462.0,382.0 464.0,382.0 464.0,383.0 462.0,383.0"/>
<polygon points="464.0,379.0 465.0,379.0 465.0,380.0 464.0,380.0"/>
<polygon points="465.0,381.0 466.0,381.0 466.0,383.0 465.0,383.0"/>
<polygon points="463.0,383.0 465.0,383.0 465.0,385.0 463.0,385.0"/>
<polygon points="462.0,379.0 463.0,379.0 463.0,380.0 462.0,380.0"/>
<polygon points="466.0,382.0 468.0,382.0 468.0,384.0 466.0,384.0"/>
<polygon points="466.0,382.0 467.0,382.0 467.0,383.0 466.0,383.0"/>
<polygon points="234.0,520.0 236.0,520.0 236.0,522.0 234.0,522.0"/>
<polygon points="230.0,522.0 233.0,522.0 233.0,525.0 230.0,525.0"/>
<polygon points="232.0,522.0 233.0,522.0 233.0,524.0 232.0,524.0"/>
<polygon points="237.0,515.0 240.0,515.0 240.0,517.0 237.0,517.0"/>
<polygon points="235.0,518.0 238.0,518.0 238.0,520.0 235.0,520.0"/>
<polygon points="229.0,521.0 230.0,521.0 230.0,522.0 229.0,522.0"/>
<polygon points="229.0,522.0 232.0,522.0 232.0,525.0 229.0,525.0"/>
<polygon points="230.0,520.0 233.0,520.0 233.0,523.0 230.0,523.0"/>
<polygon points="227.0,520.0 230.0,520.0 230.0,522.0 227.0,522.0"/>
<polygon points="235.0,518.0 238.0,518.0 238.0,520.0 235.0,520.0"/>
<polygon points="227.0,520.0 228.0,520.0 228.0,523.0 227.0,523.0"/>
<polygon points="233.0,522.0 235.0,522.0 235.0,525.0 233.0,525.0"/>
<polygon points="238.0,519.0 239.0,519.0 239.0,520.0 238.0,520.0"/>
<polygon points="235.0,521.0 238.0,521.0 238.0,523.0 235.0,523.0"/>
<polygon points="231.0,521.0 234.0,521.0 234.0,524.0 231.0,524.0"/>
<polygon points="232.0,515.0 235.0,515.0 235.0,517.0 232.0,517.0"/>
<polygon points="237.0,514.0 239.0,514.0 239.0,515.0 237.0,515.0"/>
<polygon points="238.0,516.0 240.0,516.0 240.0,518.0 238.0,518.0"/>
<polygon points="231.0,519.0 233.0,519.0 233.0,521.0 231.0,521.0"/>
<polygon points="236.0,519.0 238.0,519.0 238.0,521.0 236.0,521.0"/>
<polygon points="235.0,519.0 237.0,519.0 237.0,521.0 235.0,521.0"/>
<polygon points="234.0,517.0 235.0,517.0 235.0,519.0 234.0,519.0"/>
<polygon points="239.0,516.0 240.0,516.0 240.0,517.0 239.0,517.0"/>
<polygon points="237.0,516.0 239.0,516.0 239.0,518.0 237.0,518.0"/>
<polygon points="229.0,523.0 231.0,523.0 231.0,526.0 229.0,526.0"/>
<polygon points="239.0,515.0 242.0,515.0 242.0,516.0 239.0,516.0"/>
<polygon points="235.0,521.0 236.0,521.0 236.0,524.0 235.0,524.0"/>
<polygon points="239.0,515.0 241.0,515.0 241.0,516.0 239.0,516.0"/>
<polygon points="236.0,516.0 238.0,516.0 238.0,518.0 236.0,518.0"/>
<polygon points="229.0,519.0 232.0,519.0 232.0,521.0 229.0,521.0"/>
<polygon points="228.0,521.0 229.0,521.0 229.0,522.0 228.0,522.0"/>
<polygon points="234.0,520.0 236.0,520.0 236.0,523.0 234.0,523.0"/>
<polygon points="234.0,517.0 236.0,517.0 236.0,520.0 234.0,520.0"/>
<polygon points="229.0,518.0 230.0,518.0 230.0,519.0 229.0,519.0"/>
<polygon points="230.0,518.0 233.0,518.0 233.0,519.0 230.0,519.0"/>
<polygon points="233.0,518.0 234.0,518.0 234.0,521.0 233.0,521.0"/>
<polygon points="238.0,516.0 239.0,516.0 239.0,518.0 238.0,518.0"/>
<polygon points="234.0,521.0 235.0,521.0 235.0,524.0 234.0,524.0"/>
<polygon points="233.0,517.0 235.0,517.0 235.0,519.0 233.0,519.0"/>
<polygon points="237.0,514.0 239.0,514.0 239.0,515.0 237.0,515.0"/>
<polygon points="229.0,522.0 231.0,522.0 231.0,525.0 229.0,525.0"/>
<polygon points="230.0,522.0 231.0,522.0 231.0,524.0 230.0,524.0"/>
<polygon points="234.0,520.0 235.0,520.0 235.0,523.0 234.0,523.0"/>
<polygon points="227.0,520.0 228.0,520.0 228.0,522.0 227.0,522.0"/>
<polygon points="230.0,519.0 233.0,519.0 233.0,522.0 230.0,522.0"/>
<polygon points="235.0,515.0 238.0,515.0 238.0,516.0 235.0,516.0"/>
<polygon points="236.0,520.0 238.0,520.0 238.0,522.0 236.0,522.0"/>
<polygon points="237.0,515.0 239.0,515.0 239.0,516.0 237.0,516.0"/>
<polygon points="227.0,520.0 230.0,520.0 230.0,521.0 227.0,521.0"/>
<polygon points="231.0,516.0 234.0,516.0 234.0,519.0 231.0,519.0"/>
<polygon points="228.0,519.0 230.0,519.0 230.0,521.0 228.0,521.0"/>
<polygon points="233.0,517.0 236.0,517.0 236.0,520.0 233.0,520.0"/>
<polygon points="235.0,514.0 238.0,514.0 238.0,515.0 235.0,515.0"/>
<polygon points="229.0,520.0 231.0,520.0 231.0,522.0 229.0,522.0"/>
<polygon points="238.0,519.0 240.0,519.0 240.0,520.0 238.0,520.0"/>
<polygon points="233.0,515.0 236.0,515.0 236.0,516.0 233.0,516.0"/>
<polygon points="236.0,516.0 238.0,516.0 238.0,519.0 236.0,519.0"/>
<polygon points="237.0,518.0 238.0,518.0 238.0,520.0 237.0,520.0"/>
<polygon points="238.0,515.0 241.0,515.0 241.0,516.0 238.0,516.0"/>
<polygon points="232.0,520.0 234.0,520.0 234.0,522.0 232.0,522.0"/>
<polygon points="232.0,516.0 233.0,516.0 233.0,518.0 232.0,518.0"/>
<polygon points="227.0,520.0 229.0,520.0 229.0,522.0 227.0,522.0"/>
<polygon points="227.0,518.0 229.0,518.0 229.0,520.0 227.0,520.0"/>
<polygon points="231.0,518.0 234.0,518.0 234.0,521.0 231.0,521.0"/>
<polygon points="234.0,517.0 237.0,517.0 237.0,520.0 234.0,520.0"/>
<polygon points="237.0,518.0 238.0,518.0 238.0,519.0 237.0,519.0"/>
<polygon points="231.0,523.0 234.0,523.0 234.0,525.0 231.0,525.0"/>
<polygon points="233.0,522.0 235.0,522.0 235.0,524.0 233.0,524.0"/>
<polygon points="239.0,516.0 241.0,516.0 241.0,517.0 239.0,517.0"/>
<polygon points="228.0,522.0 229.0,522.0 229.0,524.0 228.0,524.0"/>
<polygon points="257.0,553.0 260.0,553.0 260.0,555.0 257.0,555.0"/>
<polygon points="280.0,520.0 282.0,520.0 282.0,523.0 280.0,523.0"/>
<polygon points="283.0,528.0 285.0,528.0 285.0,530.0 283.0,530.0"/>
<polygon points="281.0,515.0 283.0,515.0 283.0,517.0 281.0,517.0"/>
<polygon points="271.0,497.0 272.0,497.0 272.0,499.0 271.0,499.0"/>
<polygon points="481.0,382.0 482.0,382.0 482.0,383.0 481.0,383.0"/>
<polygon points="481.0,380.0 482.0,380.0 482.0,381.0 481.0,381.0"/>
<polygon points="484.0,379.0 485.0,379.0 485.0,380.0 484.0,380.0"/>
<polygon points="482.0,382.0 483.0,382.0 483.0,383.0 482.0,383.0"/>
<polygon points="481.0,377.0 482.0,377.0 482.0,378.0 481.0,378.0"/>
<polygon points="487.0,385.0 488.0,385.0 488.0,386.0 487.0,386.0"/>
<polygon points="486.0,377.0 487.0,377.0 487.0,378.0 486.0,378.0"/>
<polygon points="481.0,383.0 482.0,383.0 482.0,384.0 481.0,384.0"/>
<polygon points="487.0,381.0 488.0,381.0 488.0,382.0 487.0,382.0"/>
<polygon points="482.0,381.0 483.0,381.0 483.0,382.0 482.0,382.0"/>
<polygon points="483.0,472.0 484.0,472.0 484.0,473.0 483.0,473.0"/>
<polygon points="476.0,474.0 478.0,474.0 478.0,475.0 476.0,475.0"/>
<polygon points="476.0,475.0 478.0,475.0 478.0,476.0 476.0,476.0"/>
<polygon points="485.0,471.0 486.0,471.0 486.0,472.0 485.0,472.0"/>
<polygon points="474.0,477.0 475.0,477.0 475.0,478.0 474.0,478.0"/>
<polygon points="478.0,473.0 480.0,473.0 480.0,475.0 478.0,475.0"/>
<polygon points="481.0,475.0 482.0,475.0 482.0,477.0 481.0,477.0"/>
<polygon points="476.0,476.0 477.0,476.0 477.0,477.0 476.0,477.0"/>
<polygon points="477.0,473.0 479.0,473.0 479.0,474.0 477.0,474.0"/>
<polygon points="481.0,472.0 483.0,472.0 483.0,474.0 481.0,474.0"/>
<polygon points="481.0,472.0 483.0,472.0 483.0,474.0 481.0,474.0"/>
<polygon points="479.0,474.0 480.0,474.0 480.0,475.0 479.0,475.0"/>
<polygon points="477.0,473.0 479.0,473.0 479.0,474.0 477.0,474.0"/>
<polygon points="480.0,473.0 482.0,473.0 482.0,474.0 480.0,474.0"/>
<polygon points="479.0,473.0 480.0,473.0 480.0,474.0 479.0,474.0"/>
<polygon points="476.0,477.0 478.0,477.0 478.0,478.0 476.0,478.0"/>
<polygon points="479.0,473.0 481.0,473.0 481.0,474.0 479.0,474.0"/>
<polygon points="476.0,477.0 477.0,477.0 477.0,478.0 476.0,478.0"/>
<polygon points="475.0,477.0 477.0,477.0 477.0,478.0 475.0,478.0"/>
<polygon points="476.0,476.0 477.0,476.0 477.0,478.0 476.0,478.0"/>
<polygon points="482.0,472.0 483.0,472.0 483.0,474.0 482.0,474.0"/>
<polygon points="481.0,471.0 482.0,471.0 482.0,473.0 481.0,473.0"/>
<polygon points="479.0,471.0 481.0,471.0 481.0,472.0 479.0,472.0"/>
<polygon points="473.0,477.0 475.0,477.0 475.0,478.0 473.0,478.0"/>
<polygon points="484.0,470.0 486.0,470.0 486.0,472.0 484.0,472.0"/>
<polygon points="482.0,472.0 484.0,472.0 484.0,473.0 482.0,473.0"/>
<polygon points="484.0,468.0 485.0,468.0 485.0,470.0 484.0,470.0"/>
<polygon points="480.0,471.0 482.0,471.0 482.0,473.0 480.0,473.0"/>
<polygon points="482.0,470.0 483.0,470.0 483.0,472.0 482.0,472.0"/>
<polygon points="485.0,468.0 486.0,468.0 486.0,470.0 485.0,470.0"/>
<polygon points="478.0,472.0 480.0,472.0 480.0,473.0 478.0,473.0"/>
<polygon points="477.0,475.0 479.0,475.0 479.0,476.0 477.0,476.0"/>
<polygon points="477.0,475.0 478.0,475.0 478.0,477.0 477.0,477.0"/>
<polygon points="480.0,474.0 481.0,474.0 481.0,475.0 480.0,475.0"/>
<polygon points="485.0,469.0 486.0,469.0 486.0,470.0 485.0,470.0"/>
<polygon points="481.0,471.0 482.0,471.0 482.0,473.0 481.0,473.0"/>
<polygon points="475.0,476.0 476.0,476.0 476.0,478.0 475.0,478.0"/>
<polygon points="475.0,478.0 477.0,478.0 477.0,480.0 475.0,480.0"/>
<polygon points="481.0,472.0 482.0,472.0 482.0,473.0 481.0,473.0"/>
<polygon points="476.0,475.0 477.0,475.0 477.0,477.0 476.0,477.0"/>
<polygon points="485.0,469.0 486.0,469.0 486.0,470.0 485.0,470.0"/>
<polygon points="480.0,473.0 482.0,473.0 482.0,475.0 480.0,475.0"/>
<polygon points="479.0,476.0 480.0,476.0 480.0,478.0 479.0,478.0"/>
<polygon points="477.0,474.0 479.0,474.0 479.0,476.0 477.0,476.0"/>
<polygon points="482.0,472.0 483.0,472.0 483.0,473.0 482.0,473.0"/>
<polygon points="480.0,474.0 482.0,474.0 482.0,475.0 480.0,475.0"/>
<polygon points="477.0,475.0 478.0,475.0 478.0,476.0 477.0,476.0"/>
<polygon points="484.0,471.0 485.0,471.0 485.0,473.0 484.0,473.0"/>
<polygon points="476.0,475.0 478.0,475.0 478.0,477.0 476.0,477.0"/>
<polygon points="486.0,467.0 487.0,467.0 487.0,468.0 486.0,468.0"/>
<polygon points="490.0,469.0 491.0,469.0 491.0,471.0 490.0,471.0"/>
<polygon points="489.0,469.0 490.0,469.0 490.0,471.0 489.0,471.0"/>
<polygon points="488.0,467.0 490.0,467.0 490.0,469.0 488.0,469.0"/>
<polygon points="486.0,470.0 488.0,470.0 488.0,472.0 486.0,472.0"/>
<polygon points="485.0,467.0 487.0,467.0 487.0,469.0 485.0,469.0"/>
<polygon points="487.0,468.0 489.0,468.0 489.0,470.0 487.0,470.0"/>
<polygon points="485.0,468.0 486.0,468.0 486.0,469.0 485.0,469.0"/>
<polygon points="489.0,467.0 491.0,467.0 491.0,468.0 489.0,468.0"/>
<polygon points="488.0,469.0 490.0,469.0 490.0,470.0 488.0,470.0"/>
<polygon points="490.0,467.0 491.0,467.0 491.0,468.0 490.0,468.0"/>
<polygon points="486.0,467.0 488.0,467.0 488.0,469.0 486.0,469.0"/>
<polygon points="486.0,469.0 487.0,469.0 487.0,470.0 486.0,470.0"/>
<polygon points="487.0,469.0 488.0,469.0 488.0,470.0 487.0,470.0"/>
<polygon points="486.0,467.0 487.0,467.0 487.0,468.0 486.0,468.0"/>
<polygon points="469.0,483.0 471.0,483.0 471.0,485.0 469.0,485.0"/>
<polygon points="471.0,484.0 472.0,484.0 472.0,485.0 471.0,485.0"/>
<polygon points="474.0,482.0 475.0,482.0 475.0,483.0 474.0,483.0"/>
<polygon points="474.0,483.0 476.0,483.0 476.0,485.0 474.0,485.0"/>
<polygon points="472.0,480.0 474.0,480.0 474.0,482.0 472.0,482.0"/>
<polygon points="472.0,483.0 474.0,483.0 474.0,484.0 472.0,484.0"/>
<polygon points="469.0,483.0 470.0,483.0 470.0,484.0 469.0,484.0"/>
<polygon points="471.0,482.0 473.0,482.0 473.0,484.0 471.0,484.0"/>
<polygon points="471.0,481.0 472.0,481.0 472.0,483.0 471.0,483.0"/>
<polygon points="474.0,481.0 475.0,481.0 475.0,482.0 474.0,482.0"/>
<polygon points="472.0,483.0 473.0,483.0 473.0,484.0 472.0,484.0"/>
<polygon points="471.0,482.0 473.0,482.0 473.0,483.0 471.0,483.0"/>
<polygon points="470.0,481.0 472.0,481.0 472.0,483.0 470.0,483.0"/>
<polygon points="470.0,482.0 472.0,482.0 472.0,484.0 470.0,484.0"/>
<polygon points="460.0,485.0 462.0,485.0 462.0,486.0 460.0,486.0"/>
<polygon points="462.0,487.0 464.0,487.0 464.0,488.0 462.0,488.0"/>
<polygon points="464.0,485.0 466.0,485.0 466.0,487.0 464.0,487.0"/>
<polygon points="462.0,486.0 463.0,486.0 463.0,487.0 462.0,487.0"/>
<polygon points="465.0,487.0 467.0,487.0 467.0,488.0 465.0,488.0"/>
<polygon points="467.0,486.0 468.0,486.0 468.0,488.0 467.0,488.0"/>
<polygon points="466.0,488.0 467.0,488.0 467.0,490.0 466.0,490.0"/>
<polygon points="459.0,487.0 460.0,487.0 460.0,489.0 459.0,489.0"/>
<polygon points="466.0,487.0 468.0,487.0 468.0,489.0 466.0,489.0"/>
<polygon points="464.0,489.0 466.0,489.0 466.0,491.0 464.0,491.0"/>
<polygon points="431.0,505.0 433.0,505.0 433.0,506.0 431.0,506.0"/>
<polygon points="431.0,502.0 432.0,502.0 432.0,503.0 431.0,503.0"/>
<polygon points="431.0,515.0 432.0,515.0 432.0,516.0 431.0,516.0"/>
<polygon points="433.0,507.0 434.0,507.0 434.0,509.0 433.0,509.0"/>
<polygon points="429.0,498.0 430.0,498.0 430.0,500.0 429.0,500.0"/>
<polygon points="431.0,509.0 433.0,509.0 433.0,511.0 431.0,511.0"/>
<polygon points="433.0,508.0 435.0,508.0 435.0,509.0 433.0,509.0"/>
<polygon points="431.0,509.0 433.0,509.0 433.0,510.0 431.0,510.0"/>
<polygon points="428.0,501.0 430.0,501.0 430.0,502.0 428.0,502.0"/>
<polygon points="430.0,499.0 432.0,499.0 432.0,500.0 430.0,500.0"/>
<polygon points="430.0,516.0 432.0,516.0 432.0,518.0 430.0,518.0"/>
<polygon points="430.0,515.0 432.0,515.0 432.0,516.0 430.0,516.0"/>
<polygon points="429.0,499.0 430.0,499.0 430.0,501.0 429.0,501.0"/>
<polygon points="428.0,508.0 429.0,508.0 429.0,510.0 428.0,510.0"/>
<polygon points="427.0,505.0 428.0,505.0 428.0,506.0 427.0,506.0"/>
<polygon points="432.0,511.0 433.0,511.0 433.0,512.0 432.0,512.0"/>
<polygon points="430.0,517.0 431.0,517.0 431.0,519.0 430.0,519.0"/>
<polygon points="430.0,498.0 432.0,498.0 432.0,500.0 430.0,500.0"/>
<polygon points="430.0,512.0 432.0,512.0 432.0,514.0 430.0,514.0"/>
<polygon points="428.0,499.0 429.0,499.0 429.0,500.0 428.0,500.0"/>
<polygon points="429.0,505.0 430.0,505.0 430.0,507.0 429.0,507.0"/>
<polygon points="432.0,510.0 434.0,510.0 434.0,511.0 432.0,511.0"/>
<polygon points="432.0,511.0 434.0,511.0 434.0,512.0 432.0,512.0"/>
<polygon points="431.0,514.0 432.0,514.0 432.0,516.0 431.0,516.0"/>
<polygon points="430.0,503.0 431.0,503.0 431.0,505.0 430.0,505.0"/>
<polygon points="428.0,510.0 430.0,510.0 430.0,512.0 428.0,512.0"/>
<polygon points="427.0,508.0 428.0,508.0 428.0,509.0 427.0,509.0"/>
<polygon points="429.0,504.0 430.0,504.0 430.0,505.0 429.0,505.0"/>
<polygon points="431.0,505.0 432.0,505.0 432.0,506.0 431.0,506.0"/>
<polygon points="431.0,512.0 432.0,512.0 432.0,514.0 431.0,514.0"/>
<polygon points="431.0,507.0 432.0,507.0 432.0,509.0 431.0,509.0"/>
<polygon points="432.0,505.0 433.0,505.0 433.0,507.0 432.0,507.0"/>
<polygon points="431.0,503.0 433.0,503.0 433.0,505.0 431.0,505.0"/>
<polygon points="429.0,503.0 431.0,503.0 431.0,504.0 429.0,504.0"/>
<polygon points="429.0,505.0 431.0,505.0 431.0,507.0 429.0,507.0"/>
<polygon points="430.0,511.0 432.0,511.0 432.0,512.0 430.0,512.0"/>
<polygon points="428.0,504.0 430.0,504.0 430.0,505.0 428.0,505.0"/>
<polygon points="429.0,512.0 430.0,512.0 430.0,513.0 429.0,513.0"/>
<polygon points="429.0,514.0 430.0,514.0 430.0,516.0 429.0,516.0"/>
<polygon points="429.0,504.0 430.0,504.0 430.0,505.0 429.0,505.0"/>
<polygon points="422.0,437.0 423.0,437.0 423.0,438.0 422.0,438.0"/>
<polygon points="421.0,430.0 422.0,430.0 422.0,432.0 421.0,432.0"/>
<polygon points="422.0,437.0 424.0,437.0 424.0,439.0 422.0,439.0"/>
<polygon points="417.0,434.0 419.0,434.0 419.0,436.0 417.0,436.0"/>
<polygon points="421.0,434.0 422.0,434.0 422.0,436.0 421.0,436.0"/>
<polygon points="423.0,431.0 425.0,431.0 425.0,433.0 423.0,433.0"/>
<polygon points="417.0,435.0 418.0,435.0 418.0,436.0 417.0,436.0"/>
<polygon points="419.0,438.0 420.0,438.0 420.0,440.0 419.0,440.0"/>
<polygon points="417.0,436.0 418.0,436.0 418.0,438.0 417.0,438.0"/>
<polygon points="423.0,432.0 425.0,432.0 425.0,433.0 423.0,433.0"/>
<polygon points="417.0,434.0 418.0,434.0 418.0,435.0 417.0,435.0"/>
<polygon points="419.0,431.0 420.0,431.0 420.0,433.0 419.0,433.0"/>
<polygon points="420.0,439.0 421.0,439.0 421.0,440.0 420.0,440.0"/>
<polygon points="419.0,434.0 420.0,434.0 420.0,436.0 419.0,436.0"/>
<polygon points="418.0,432.0 419.0,432.0 419.0,434.0 418.0,434.0"/>
<polygon points="419.0,432.0 420.0,432.0 420.0,434.0 419.0,434.0"/>
<polygon points="420.0,450.0 421.0,450.0 421.0,451.0 420.0,451.0"/>
<polygon points="424.0,447.0 426.0,447.0 426.0,448.0 424.0,448.0"/>
<polygon points="423.0,449.0 424.0,449.0 424.0,451.0 423.0,451.0"/>
<polygon points="421.0,446.0 422.0,446.0 422.0,447.0 421.0,447.0"/>
<polygon points="421.0,449.0 423.0,449.0 423.0,450.0 421.0,450.0"/>
<polygon points="421.0,448.0 422.0,448.0 422.0,449.0 421.0,449.0"/>
<polygon points="422.0,447.0 424.0,447.0 424.0,448.0 422.0,448.0"/>
<polygon points="422.0,449.0 423.0,449.0 423.0,450.0 422.0,450.0"/>
<polygon points="420.0,446.0 421.0,446.0 421.0,447.0 420.0,447.0"/>
<polygon points="421.0,446.0 422.0,446.0 422.0,448.0 421.0,448.0"/>
<polygon points="559.0,523.0 561.0,523.0 561.0,525.0 559.0,525.0"/>
<polygon points="559.0,530.0 561.0,530.0 561.0,532.0 559.0,532.0"/>
<polygon points="559.0,534.0 561.0,534.0 561.0,536.0 559.0,536.0"/>
<polygon points="558.0,538.0 560.0,538.0 560.0,540.0 558.0,540.0"/>
<polygon points="583.0,501.0 585.0,501.0 585.0,503.0 583.0,503.0"/>
<polygon points="584.0,506.0 586.0,506.0 586.0,508.0 584.0,508.0"/>
<polygon points="560.0,508.0 562.0,508.0 562.0,510.0 560.0,510.0"/>
<polygon points="566.0,397.0 567.0,397.0 567.0,399.0 566.0,399.0"/>
<polygon points="565.0,395.0 567.0,395.0 567.0,396.0 565.0,396.0"/>
<polygon points="569.0,402.0 570.0,402.0 570.0,404.0 569.0,404.0"/>
<polygon points="569.0,406.0 570.0,406.0 570.0,407.0 569.0,407.0"/>
<polygon points="563.0,399.0 565.0,399.0 565.0,401.0 563.0,401.0"/>
<polygon points="568.0,405.0 569.0,405.0 569.0,406.0 568.0,406.0"/>
<polygon points="565.0,396.0 566.0,396.0 566.0,397.0 565.0,397.0"/>
<polygon points="568.0,403.0 570.0,403.0 570.0,405.0 568.0,405.0"/>
<polygon points="568.0,399.0 569.0,399.0 569.0,400.0 568.0,400.0"/>
<polygon points="567.0,397.0 569.0,397.0 569.0,399.0 567.0,399.0"/>
<polygon points="565.0,396.0 566.0,396.0 566.0,397.0 565.0,397.0"/>
<polygon points="565.0,403.0 566.0,403.0 566.0,404.0 565.0,404.0"/>
<polygon points="566.0,400.0 567.0,400.0 567.0,402.0 566.0,402.0"/>
<polygon points="567.0,406.0 569.0,406.0 569.0,408.0 567.0,408.0"/>
<polygon points="564.0,395.0 565.0,395.0 565.0,396.0 564.0,396.0"/>
<polygon points="567.0,398.0 569.0,398.0 569.0,400.0 567.0,400.0"/>
<polygon points="568.0,402.0 569.0,402.0 569.0,403.0 568.0,403.0"/>
<polygon points="571.0,402.0 572.0,402.0 572.0,403.0 571.0,403.0"/>
<polygon points="564.0,402.0 566.0,402.0 566.0,404.0 564.0,404.0"/>
<polygon points="564.0,399.0 565.0,399.0 565.0,400.0 564.0,400.0"/>
<polygon points="564.0,395.0 565.0,395.0 565.0,397.0 564.0,397.0"/>
<polygon points="569.0,405.0 571.0,405.0 571.0,407.0 569.0,407.0"/>
<polygon points="568.0,398.0 570.0,398.0 570.0,399.0 568.0,399.0"/>
<polygon points="565.0,399.0 566.0,399.0 566.0,401.0 565.0,401.0"/>
<polygon points="569.0,405.0 570.0,405.0 570.0,406.0 569.0,406.0"/>
<polygon points="571.0,406.0 572.0,406.0 572.0,407.0 571.0,407.0"/>
<polygon points="563.0,399.0 564.0,399.0 564.0,400.0 563.0,400.0"/>
<polygon points="565.0,401.0 566.0,401.0 566.0,403.0 565.0,403.0"/>
<polygon points="566.0,402.0 567.0,402.0 567.0,403.0 566.0,403.0"/>
<polygon points="565.0,403.0 566.0,403.0 566.0,404.0 565.0,404.0"/>
<polygon points="566.0,396.0 567.0,396.0 567.0,397.0 566.0,397.0"/>
<polygon points="564.0,402.0 565.0,402.0 565.0,404.0 564.0,404.0"/>
<polygon points="566.0,397.0 567.0,397.0 567.0,398.0 566.0,398.0"/>
<polygon points="564.0,398.0 566.0,398.0 566.0,400.0 564.0,400.0"/>
<polygon points="564.0,399.0 566.0,399.0 566.0,401.0 564.0,401.0"/>
<polygon points="570.0,401.0 572.0,401.0 572.0,402.0 570.0,402.0"/>
<polygon points="568.0,399.0 569.0,399.0 569.0,400.0 568.0,400.0"/>
<polygon points="564.0,399.0 565.0,399.0 565.0,401.0 564.0,401.0"/>
<polygon points="566.0,400.0 567.0,400.0 567.0,402.0 566.0,402.0"/>
<polygon points="568.0,400.0 569.0,400.0 569.0,401.0 568.0,401.0"/>
<polygon points="282.0,391.0 284.0,391.0 284.0,393.0 282.0,393.0"/>
<polygon points="375.0,388.0 377.0,388.0 377.0,389.0 375.0,389.0"/>
<polygon points="204.0,405.0 206.0,405.0 206.0,407.0 204.0,407.0"/>
<polygon points="209.0,404.0 211.0,404.0 211.0,406.0 209.0,406.0"/>
<polygon points="242.0,422.0 245.0,422.0 245.0,424.0 242.0,424.0"/>
<polygon points="450.0,47.0 453.0,47.0 453.0,48.0 450.0,48.0"/>
<polygon points="400.0,40.0 403.0,40.0 403.0,42.0 400.0,42.0"/>
<polygon points="403.0,48.0 405.0,48.0 405.0,49.0 403.0,49.0"/>
<polygon points="408.0,55.0 410.0,55.0 410.0,57.0 408.0,57.0"/>
<polygon points="393.0,41.0 394.0,41.0 394.0,42.0 393.0,42.0"/>
<polygon points="492.0,236.0 495.0,236.0 495.0,239.0 492.0,239.0"/>
<polygon points="501.0,232.0 503.0,232.0 503.0,235.0 501.0,235.0"/>
<polygon points="490.0,243.0 493.0,243.0 493.0,245.0 490.0,245.0"/>
<polygon points="500.0,243.0 503.0,243.0 503.0,246.0 500.0,246.0"/>
<polygon points="202.0,562.0 204.0,562.0 204.0,563.0 202.0,563.0"/>
<polygon points="191.0,553.0 193.0,553.0 193.0,555.0 191.0,555.0"/>
<polygon points="197.0,564.0 198.0,564.0 198.0,565.0 197.0,565.0"/>
<polygon points="206.0,558.0 207.0,558.0 207.0,559.0 206.0,559.0"/>
<polygon points="201.0,557.0 203.0,557.0 203.0,558.0 201.0,558.0"/>
<polygon points="202.0,553.0 204.0,553.0 204.0,554.0 202.0,554.0"/>
<polygon points="203.0,558.0 204.0,558.0 204.0,560.0 203.0,560.0"/>
<polygon points="204.0,566.0 205.0,566.0 205.0,567.0 204.0,567.0"/>
<polygon points="193.0,562.0 195.0,562.0 195.0,563.0 193.0,563.0"/>
<polygon points="196.0,559.0 198.0,559.0 198.0,560.0 196.0,560.0"/>
<polygon points="196.0,557.0 198.0,557.0 198.0,559.0 196.0,559.0"/>
<polygon points="195.0,558.0 196.0,558.0 196.0,559.0 195.0,559.0"/>
<polygon points="193.0,563.0 195.0,563.0 195.0,564.0 193.0,564.0"/>
<polygon points="196.0,563.0 198.0,563.0 198.0,565.0 196.0,565.0"/>
<polygon points="201.0,554.0 202.0,554.0 202.0,556.0 201.0,556.0"/>
<polygon points="198.0,554.0 199.0,554.0 199.0,555.0 198.0,555.0"/>
<polygon points="206.0,552.0 208.0,552.0 208.0,553.0 206.0,553.0"/>
<polygon points="204.0,554.0 205.0,554.0 205.0,555.0 204.0,555.0"/>
<polygon points="200.0,556.0 202.0,556.0 202.0,557.0 200.0,557.0"/>
<polygon points="193.0,556.0 195.0,556.0 195.0,558.0 193.0,558.0"/>
<polygon points="201.0,558.0 202.0,558.0 202.0,560.0 201.0,560.0"/>
<polygon points="199.0,554.0 201.0,554.0 201.0,555.0 199.0,555.0"/>
<polygon points="205.0,557.0 207.0,557.0 207.0,558.0 205.0,558.0"/>
<polygon points="199.0,564.0 201.0,564.0 201.0,565.0 199.0,565.0"/>
<polygon points="201.0,560.0 202.0,560.0 202.0,561.0 201.0,561.0"/>
<polygon points="198.0,554.0 199.0,554.0 199.0,555.0 198.0,555.0"/>
<polygon points="197.0,550.0 198.0,550.0 198.0,551.0 197.0,551.0"/>
<polygon points="204.0,563.0 205.0,563.0 205.0,564.0 204.0,564.0"/>
<polygon points="200.0,558.0 202.0,558.0 202.0,559.0 200.0,559.0"/>
<polygon points="194.0,559.0 196.0,559.0 196.0,561.0 194.0,561.0"/>
<polygon points="196.0,558.0 198.0,558.0 198.0,559.0 196.0,559.0"/>
<polygon points="193.0,555.0 194.0,555.0 194.0,557.0 193.0,557.0"/>
<polygon points="198.0,549.0 199.0,549.0 199.0,550.0 198.0,550.0"/>
<polygon points="203.0,561.0 204.0,561.0 204.0,563.0 203.0,563.0"/>
<polygon points="200.0,557.0 201.0,557.0 201.0,559.0 200.0,559.0"/>
<polygon points="202.0,565.0 204.0,565.0 204.0,567.0 202.0,567.0"/>
<polygon points="205.0,560.0 206.0,560.0 206.0,562.0 205.0,562.0"/>
<polygon points="196.0,563.0 198.0,563.0 198.0,565.0 196.0,565.0"/>
<polygon points="193.0,564.0 194.0,564.0 194.0,565.0 193.0,565.0"/>
<polygon points="194.0,555.0 196.0,555.0 196.0,557.0 194.0,557.0"/>
<polygon points="202.0,563.0 204.0,563.0 204.0,565.0 202.0,565.0"/>
<polygon points="198.0,549.0 199.0,549.0 199.0,550.0 198.0,550.0"/>
<polygon points="199.0,559.0 200.0,559.0 200.0,561.0 199.0,561.0"/>
<polygon points="205.0,564.0 206.0,564.0 206.0,565.0 205.0,565.0"/>
<polygon points="193.0,553.0 195.0,553.0 195.0,555.0 193.0,555.0"/>
<polygon points="198.0,563.0 199.0,563.0 199.0,564.0 198.0,564.0"/>
<polygon points="207.0,559.0 209.0,559.0 209.0,560.0 207.0,560.0"/>
<polygon points="192.0,563.0 193.0,563.0 193.0,564.0 192.0,564.0"/>
<polygon points="205.0,553.0 207.0,553.0 207.0,554.0 205.0,554.0"/>
<polygon points="198.0,550.0 199.0,550.0 199.0,552.0 198.0,552.0"/>
<polygon points="195.0,550.0 196.0,550.0 196.0,551.0 195.0,551.0"/>
<polygon points="193.0,559.0 195.0,559.0 195.0,560.0 193.0,560.0"/>
<polygon points="197.0,560.0 199.0,560.0 199.0,561.0 197.0,561.0"/>
<polygon points="196.0,555.0 198.0,555.0 198.0,556.0 196.0,556.0"/>
<polygon points="201.0,553.0 203.0,553.0 203.0,555.0 201.0,555.0"/>
<polygon points="200.0,549.0 202.0,549.0 202.0,551.0 200.0,551.0"/>
<polygon points="205.0,561.0 207.0,561.0 207.0,563.0 205.0,563.0"/>
<polygon points="198.0,565.0 199.0,565.0 199.0,566.0 198.0,566.0"/>
<polygon points="193.0,562.0 194.0,562.0 194.0,563.0 193.0,563.0"/>
<polygon points="206.0,558.0 208.0,558.0 208.0,560.0 206.0,560.0"/>
<polygon points="203.0,553.0 204.0,553.0 204.0,554.0 203.0,554.0"/>
<polygon points="199.0,556.0 200.0,556.0 200.0,557.0 199.0,557.0"/>
<polygon points="202.0,552.0 204.0,552.0 204.0,553.0 202.0,553.0"/>
<polygon points="196.0,564.0 198.0,564.0 198.0,565.0 196.0,565.0"/>
<polygon points="205.0,559.0 207.0,559.0 207.0,561.0 205.0,561.0"/>
<polygon points="200.0,554.0 202.0,554.0 202.0,555.0 200.0,555.0"/>
<polygon points="202.0,564.0 204.0,564.0 204.0,565.0 202.0,565.0"/>
<polygon points="198.0,564.0 200.0,564.0 200.0,565.0 198.0,565.0"/>
<polygon points="194.0,561.0 196.0,561.0 196.0,562.0 194.0,562.0"/>
<polygon points="199.0,554.0 200.0,554.0 200.0,555.0 199.0,555.0"/>
<polygon points="199.0,566.0 200.0,566.0 200.0,567.0 199.0,567.0"/>
<polygon points="198.0,558.0 199.0,558.0 199.0,560.0 198.0,560.0"/>
<polygon points="193.0,563.0 195.0,563.0 195.0,564.0 193.0,564.0"/>
<polygon points="201.0,556.0 203.0,556.0 203.0,558.0 201.0,558.0"/>
<polygon points="198.0,561.0 199.0,561.0 199.0,562.0 198.0,562.0"/>
<polygon points="195.0,563.0 196.0,563.0 196.0,564.0 195.0,564.0"/>
<polygon points="197.0,556.0 199.0,556.0 199.0,558.0 197.0,558.0"/>
<polygon points="194.0,551.0 196.0,551.0 196.0,552.0 194.0,552.0"/>
<polygon points="203.0,561.0 205.0,561.0 205.0,563.0 203.0,563.0"/>
<polygon points="203.0,562.0 204.0,562.0 204.0,563.0 203.0,563.0"/>
<polygon points="200.0,562.0 201.0,562.0 201.0,564.0 200.0,564.0"/>
<polygon points="191.0,561.0 192.0,561.0 192.0,562.0 191.0,562.0"/>
<polygon points="195.0,563.0 197.0,563.0 197.0,565.0 195.0,565.0"/>
<polygon points="202.0,556.0 203.0,556.0 203.0,558.0 202.0,558.0"/>
<polygon points="201.0,557.0 202.0,557.0 202.0,559.0 201.0,559.0"/>
<polygon points="205.0,556.0 207.0,556.0 207.0,557.0 205.0,557.0"/>
<polygon points="204.0,553.0 206.0,553.0 206.0,555.0 204.0,555.0"/>
<polygon points="194.0,556.0 195.0,556.0 195.0,558.0 194.0,558.0"/>
<polygon points="194.0,552.0 195.0,552.0 195.0,553.0 194.0,553.0"/>
<polygon points="205.0,563.0 207.0,563.0 207.0,564.0 205.0,564.0"/>
<polygon points="191.0,549.0 192.0,549.0 192.0,551.0 191.0,551.0"/>
<polygon points="193.0,550.0 194.0,550.0 194.0,552.0 193.0,552.0"/>
<polygon points="191.0,550.0 193.0,550.0 193.0,551.0 191.0,551.0"/>
<polygon points="186.0,551.0 188.0,551.0 188.0,552.0 186.0,552.0"/>
<polygon points="190.0,554.0 192.0,554.0 192.0,555.0 190.0,555.0"/>
<polygon points="194.0,552.0 195.0,552.0 195.0,553.0 194.0,553.0"/>
<polygon points="194.0,550.0 196.0,550.0 196.0,551.0 194.0,551.0"/>
<polygon points="190.0,555.0 192.0,555.0 192.0,556.0 190.0,556.0"/>
<polygon points="191.0,555.0 192.0,555.0 192.0,557.0 191.0,557.0"/>
<polygon points="186.0,551.0 188.0,551.0 188.0,553.0 186.0,553.0"/>
<polygon points="187.0,554.0 189.0,554.0 189.0,555.0 187.0,555.0"/>
<polygon points="187.0,550.0 188.0,550.0 188.0,552.0 187.0,552.0"/>
<polygon points="189.0,554.0 191.0,554.0 191.0,555.0 189.0,555.0"/>
<polygon points="190.0,555.0 192.0,555.0 192.0,556.0 190.0,556.0"/>
<polygon points="190.0,552.0 192.0,552.0 192.0,553.0 190.0,553.0"/>
<polygon points="192.0,550.0 194.0,550.0 194.0,552.0 192.0,552.0"/>
<polygon points="185.0,551.0 187.0,551.0 187.0,553.0 185.0,553.0"/>
<polygon points="190.0,555.0 192.0,555.0 192.0,557.0 190.0,557.0"/>
<polygon points="192.0,549.0 194.0,549.0 194.0,550.0 192.0,550.0"/>
<polygon points="191.0,553.0 192.0,553.0 192.0,555.0 191.0,555.0"/>
<polygon points="194.0,553.0 196.0,553.0 196.0,554.0 194.0,554.0"/>
<polygon points="187.0,554.0 188.0,554.0 188.0,555.0 187.0,555.0"/>
<polygon points="190.0,551.0 192.0,551.0 192.0,553.0 190.0,553.0"/>
<polygon points="189.0,551.0 190.0,551.0 190.0,553.0 189.0,553.0"/>
<polygon points="187.0,552.0 189.0,552.0 189.0,553.0 187.0,553.0"/>
<polygon points="134.0,472.0 137.0,472.0 137.0,475.0 134.0,475.0"/>
<polygon points="137.0,477.0 140.0,477.0 140.0,481.0 137.0,481.0"/>
<polygon points="148.0,504.0 150.0,504.0 150.0,507.0 148.0,507.0"/>
<polygon points="126.0,458.0 128.0,458.0 128.0,460.0 126.0,460.0"/>
<polygon points="131.0,465.0 133.0,465.0 133.0,467.0 131.0,467.0"/>
<polygon points="477.0,469.0 478.0,469.0 478.0,470.0 477.0,470.0"/>
<polygon points="478.0,470.0 479.0,470.0 479.0,471.0 478.0,471.0"/>
<polygon points="480.0,468.0 481.0,468.0 481.0,469.0 480.0,469.0"/>
<polygon points="474.0,470.0 476.0,470.0 476.0,472.0 474.0,472.0"/>
<polygon points="475.0,467.0 477.0,467.0 477.0,468.0 475.0,468.0"/>
<polygon points="475.0,466.0 476.0,466.0 476.0,467.0 475.0,467.0"/>
<polygon points="481.0,467.0 482.0,467.0 482.0,468.0 481.0,468.0"/>
<polygon points="482.0,469.0 483.0,469.0 483.0,470.0 482.0,470.0"/>
<polygon points="481.0,470.0 482.0,470.0 482.0,472.0 481.0,472.0"/>
<polygon points="479.0,466.0 480.0,466.0 480.0,468.0 479.0,468.0"/>
<polygon points="476.0,467.0 478.0,467.0 478.0,469.0 476.0,469.0"/>
<polygon points="479.0,471.0 480.0,471.0 480.0,472.0 479.0,472.0"/>
<polygon points="481.0,466.0 482.0,466.0 482.0,468.0 481.0,468.0"/>
<polygon points="482.0,469.0 483.0,469.0 483.0,471.0 482.0,471.0"/>
<polygon points="464.0,485.0 466.0,485.0 466.0,486.0 464.0,486.0"/>
<polygon points="468.0,481.0 470.0,481.0 470.0,482.0 468.0,482.0"/>
<polygon points="466.0,486.0 468.0,486.0 468.0,488.0 466.0,488.0"/>
<polygon points="467.0,483.0 468.0,483.0 468.0,484.0 467.0,484.0"/>
<polygon points="466.0,485.0 467.0,485.0 467.0,487.0 466.0,487.0"/>
<polygon points="465.0,481.0 467.0,481.0 467.0,483.0 465.0,483.0"/>
<polygon points="463.0,485.0 465.0,485.0 465.0,486.0 463.0,486.0"/>
<polygon points="469.0,484.0 470.0,484.0 470.0,486.0 469.0,486.0"/>
<polygon points="464.0,481.0 466.0,481.0 466.0,483.0 464.0,483.0"/>
<polygon points="465.0,480.0 467.0,480.0 467.0,481.0 465.0,481.0"/>
<polygon points="469.0,483.0 470.0,483.0 470.0,484.0 469.0,484.0"/>
<polygon points="462.0,482.0 464.0,482.0 464.0,483.0 462.0,483.0"/>
<polygon points="459.0,490.0 461.0,490.0 461.0,492.0 459.0,492.0"/>
<polygon points="460.0,491.0 461.0,491.0 461.0,493.0 460.0,493.0"/>
<polygon points="462.0,489.0 464.0,489.0 464.0,491.0 462.0,491.0"/>
<polygon points="462.0,490.0 464.0,490.0 464.0,492.0 462.0,492.0"/>
<polygon points="458.0,489.0 459.0,489.0 459.0,491.0 458.0,491.0"/>
<polygon points="461.0,488.0 463.0,488.0 463.0,489.0 461.0,489.0"/>
<polygon points="457.0,491.0 459.0,491.0 459.0,492.0 457.0,492.0"/>
<polygon points="460.0,490.0 462.0,490.0 462.0,492.0 460.0,492.0"/>
</g>
<path fill="#000" shape-rendering="crispEdges" d="M480 251h2v2h-2zM478 251h2v2h-2zM481 250h1v2h-1zM483 250h2v1h-2zM485 250h2v2h-2zM483 250h1v2h-1zM491 251h2v1h-2zM489 251h1v2h-1zM488 251h2v2h-2zM492 252h1v2h-1zM493 253h2v2h-2zM493 252h1v1h-1zM501 255h2v1h-2zM500 254h2v1h-2zM500 254h2v1h-2zM502 255h2v1h-2zM501 254h2v1h-2zM502 254h2v1h-2zM506 253h2v1h-2zM506 252h1v1h-1zM507 259h1v2h-1zM507 256h2v2h-2zM507 255h2v2h-2zM506 257h1v1h-1zM505 262h2v1h-2zM506 264h2v1h-2zM506 262h2v2h-2zM506 262h2v1h-2zM507 268h2v2h-2zM508 271h1v2h-1zM510 272h1v2h-1zM510 272h1v2h-1zM510 276h2v1h-2zM511 276h2v1h-2zM510 273h2v1h-2zM509 274h1v1h-1zM509 282h1v2h-1zM512 279h1v1h-1zM510 281h1v2h-1zM508 283h2v1h-2zM505 290h1v1h-1zM508 286h2v2h-2zM508 285h2v1h-2zM507 289h2v1h-2zM505 291h1v1h-1zM504 291h2v1h-2zM503 294h1v2h-1zM498 296h1v2h-1zM501 294h2v2h-2zM500 296h1v2h-1zM495 299h2v2h-2zM494 299h1v2h-1zM497 296h2v1h-2zM493 306h2v2h-2zM494 302h2v2h-2zM494 301h2v1h-2zM494 303h1v1h-1zM492 310h2v2h-2zM493 307h1v2h-1zM492 310h2v1h-2zM495 315h2v2h-2zM494 314h1v2h-1zM495 313h1v2h-1zM496 320h2v1h-2zM496 318h1v1h-1zM495 316h2v1h-2zM496 319h1v1h-1zM497 322h1v1h-1zM498 322h1v1h-1zM496 321h1v1h-1zM501 325h1v2h-1zM501 326h2v2h-2zM501 326h2v1h-2zM503 328h2v1h-2zM507 327h1v2h-1zM505 328h1v1h-1zM504 327h2v1h-2zM511 326h2v1h-2zM515 326h1v1h-1zM514 326h2v1h-2zM510 327h1v2h-1zM517 329h1v2h-1zM517 327h2v2h-2zM516 327h1v2h-1zM521 330h2v1h-2zM519 329h2v1h-2zM519 330h1v1h-1zM527 333h1v1h-1zM526 332h2v2h-2zM527 333h1v2h-1zM528 333h2v1h-2zM523 332h1v2h-1zM530 334h2v1h-2zM531 334h1v1h-1zM533 334h2v1h-2zM532 334h2v2h-2zM536 337h1v2h-1zM536 335h2v1h-2zM535 337h1v1h-1zM532 337h2v2h-2zM535 337h1v1h-1zM531 339h2v1h-2zM530 340h1v2h-1zM532 337h1v1h-1zM530 340h1v2h-1zM531 340h2v1h-2zM532 343h2v1h-2zM535 346h2v1h-2zM533 344h1v1h-1zM533 343h1v1h-1zM537 348h1v1h-1zM538 349h2v2h-2zM538 347h2v1h-2zM539 352h2v1h-2zM539 355h1v1h-1zM538 354h2v2h-2zM536 356h1v1h-1zM536 356h1v2h-1zM534 354h2v1h-2zM534 354h2v2h-2zM533 353h1v1h-1zM532 351h2v1h-2zM530 350h2v2h-2zM532 351h2v1h-2zM527 347h2v2h-2zM529 349h2v2h-2zM529 348h2v1h-2zM525 345h1v2h-1zM527 347h2v2h-2zM525 343h2v1h-2zM523 341h2v1h-2zM524 342h2v2h-2zM524 343h2v1h-2zM520 339h2v2h-2zM518 337h2v1h-2zM519 339h2v1h-2zM517 335h2v2h-2zM514 333h1v2h-1zM516 335h2v2h-2zM513 332h1v1h-1zM512 332h1v2h-1zM512 332h2v2h-2zM510 335h2v1h-2zM510 333h2v2h-2zM511 336h2v1h-2zM512 339h1v1h-1zM511 337h1v1h-1zM513 339h2v2h-2zM513 343h1v1h-1zM514 342h1v2h-1zM512 344h1v1h-1zM511 343h2v1h-2zM508 341h1v1h-1zM511 343h1v2h-1zM509 342h2v1h-2zM505 338h2v2h-2zM506 338h2v1h-2zM506 338h1v1h-1zM501 334h2v2h-2zM503 335h2v1h-2zM504 336h2v1h-2zM499 334h2v2h-2zM498 333h1v1h-1zM501 333h2v2h-2zM496 333h1v1h-1zM495 333h1v2h-1zM494 335h2v2h-2zM492 336h2v1h-2zM493 334h2v1h-2zM493 335h2v1h-2zM485 335h1v1h-1zM484 336h1v1h-1zM489 336h1v2h-1zM482 334h2v2h-2zM483 335h1v1h-1zM481 334h1v2h-1zM478 333h1v1h-1zM479 331h2v2h-2zM481 327h2v1h-2zM479 328h2v1h-2zM479 328h2v2h-2zM483 325h2v2h-2zM482 326h2v1h-2zM483 323h1v2h-1zM484 324h1v2h-1zM484 323h1v2h-1zM482 320h2v1h-2zM484 320h2v2h-2zM482 319h1v1h-1zM481 319h2v1h-2zM480 319h1v1h-1zM479 319h1v1h-1zM478 320h2v1h-2zM478 321h1v2h-1zM476 321h1v2h-1zM475 321h1v1h-1zM476 323h2v1h-2zM470 318h2v2h-2zM471 319h1v2h-1zM474 319h2v2h-2zM474 320h2v2h-2zM476 322h1v2h-1zM475 321h1v2h-1zM477 323h2v1h-2zM473 320h1v1h-1zM474 321h2v1h-2zM476 321h1v1h-1zM477 323h2v1h-2zM477 323h2v2h-2zM475 321h2v2h-2zM473 319h1v2h-1zM475 322h1v1h-1zM471 318h2v1h-2zM469 316h1v2h-1zM470 316h1v2h-1zM468 313h2v2h-2zM469 313h1v1h-1zM468 311h2v1h-2zM469 314h1v2h-1zM467 309h2v2h-2zM465 304h1v1h-1zM467 307h1v1h-1zM466 306h2v1h-2zM465 299h2v2h-2zM466 302h1v2h-1zM466 301h2v1h-2zM466 302h1v2h-1zM465 296h2v2h-2zM466 294h1v1h-1zM465 295h2v1h-2zM465 295h1v1h-1zM468 291h2v1h-2zM467 291h2v2h-2zM471 294h1v2h-1zM471 294h2v1h-2zM470 293h2v2h-2zM472 295h2v2h-2zM472 294h1v1h-1zM474 294h2v2h-2zM474 293h2v1h-2zM475 289h2v1h-2zM474 287h2v2h-2zM474 288h1v2h-1zM473 287h1v1h-1zM475 278h2v2h-2zM475 283h2v1h-2zM474 283h2v2h-2zM474 284h2v1h-2zM474 282h2v1h-2zM475 274h2v2h-2zM476 272h2v1h-2zM475 274h1v2h-1zM475 271h1v2h-1zM476 272h1v1h-1zM475 269h1v2h-1zM476 267h2v2h-2zM476 268h2v2h-2zM475 269h2v2h-2zM476 270h2v2h-2zM476 259h1v1h-1zM475 262h2v2h-2zM476 258h1v2h-1zM475 262h2v1h-2zM476 254h2v1h-2zM476 254h1v1h-1zM476 255h1v2h-1zM477 254h1v2h-1zM537 331h1v2h-1zM537 331h1v2h-1zM536 335h1v1h-1zM536 335h1v1h-1zM536 335h1v1h-1zM537 339h1v2h-1zM537 339h1v2h-1zM536 338h2v1h-2zM540 340h2v2h-2zM541 340h2v1h-2zM540 340h1v2h-1zM543 337h1v2h-1zM543 339h2v2h-2zM543 337h2v2h-2zM544 334h1v1h-1zM543 332h1v2h-1zM543 333h1v2h-1zM541 330h1v2h-1zM541 330h1v1h-1zM540 329h2v1h-2zM478 346h1v1h-1zM478 346h2v2h-2zM478 345h1v1h-1zM478 346h2v1h-2zM479 349h2v1h-2zM479 349h1v1h-1zM480 351h2v2h-2zM480 353h2v1h-2zM481 352h1v1h-1zM483 356h2v1h-2zM483 358h2v2h-2zM483 357h1v2h-1zM484 360h2v2h-2zM486 362h1v1h-1zM485 360h1v1h-1zM488 363h2v1h-2zM488 363h2v2h-2zM491 362h2v2h-2zM492 361h2v2h-2zM490 361h1v2h-1zM493 358h1v1h-1zM493 357h2v2h-2zM495 356h2v2h-2zM494 354h2v2h-2zM495 351h2v2h-2zM495 351h1v1h-1zM493 348h1v2h-1zM493 347h1v1h-1zM493 347h2v1h-2zM491 342h1v2h-1zM492 343h2v2h-2zM492 344h2v1h-2zM485 340h2v1h-2zM485 339h1v2h-1zM487 341h1v1h-1zM483 339h1v1h-1zM484 339h2v2h-2zM484 338h2v1h-2zM477 340h2v1h-2zM475 341h2v2h-2zM476 341h1v2h-1zM498 343h1v2h-1zM499 340h1v1h-1zM500 339h2v2h-2zM500 346h2v2h-2zM502 346h1v2h-1zM500 344h1v1h-1zM502 346h1v2h-1zM504 345h1v1h-1zM502 347h2v1h-2zM505 340h1v1h-1zM504 342h1v2h-1zM505 344h1v1h-1zM504 339h2v1h-2zM501 339h1v2h-1zM502 339h1v2h-1zM502 373h1v2h-1zM501 371h2v1h-2zM502 372h2v1h-2zM502 376h2v1h-2zM502 376h2v1h-2zM501 377h1v2h-1zM501 380h2v2h-2zM502 380h1v2h-1zM502 378h1v2h-1zM500 385h1v1h-1zM501 382h2v2h-2zM500 384h1v1h-1zM500 389h2v2h-2zM500 389h2v1h-2zM500 390h1v2h-1zM502 394h1v2h-1zM502 394h2v1h-2zM501 393h2v2h-2zM504 391h2v1h-2zM503 392h1v1h-1zM503 392h2v1h-2zM506 390h1v2h-1zM506 390h1v1h-1zM508 389h1v1h-1zM510 389h1v2h-1zM510 389h2v1h-2zM511 387h2v2h-2zM512 387h1v2h-1zM514 387h2v1h-2zM515 386h2v1h-2zM515 384h2v2h-2zM518 383h1v1h-1zM516 384h1v1h-1zM520 382h2v2h-2zM520 382h2v1h-2zM520 382h2v1h-2zM521 376h2v2h-2zM521 377h1v1h-1zM522 379h2v2h-2zM519 375h2v2h-2zM519 374h1v1h-1zM517 375h2v2h-2zM517 373h1v2h-1zM516 375h1v2h-1zM516 374h1v1h-1zM512 374h1v2h-1zM512 374h1v1h-1zM511 373h2v2h-2zM509 371h2v2h-2zM507 369h2v2h-2zM508 371h1v2h-1zM505 368h2v2h-2zM503 369h1v2h-1zM505 369h2v1h-2zM523 360h2v1h-2zM523 361h2v2h-2zM523 358h1v2h-1zM523 362h2v2h-2zM524 363h1v1h-1zM524 363h1v1h-1zM526 363h2v2h-2zM525 364h1v2h-1zM525 365h1v1h-1zM526 364h2v2h-2zM527 363h2v2h-2zM530 366h1v1h-1zM530 366h1v1h-1zM530 366h1v1h-1zM531 368h1v2h-1zM532 367h1v1h-1zM532 369h2v1h-2zM538 370h1v1h-1zM535 370h1v2h-1zM535 369h2v1h-2zM538 368h2v2h-2zM538 370h2v1h-2zM539 370h2v2h-2zM535 364h2v1h-2zM535 365h1v2h-1zM536 366h2v1h-2zM531 361h1v2h-1zM532 361h1v2h-1zM531 362h1v2h-1zM530 360h2v1h-2zM527 358h1v2h-1zM529 360h2v1h-2zM525 356h1v2h-1zM525 357h2v2h-2zM541 359h2v2h-2zM542 361h1v2h-1zM542 359h2v2h-2zM541 358h1v1h-1zM544 363h1v2h-1zM544 363h2v2h-2zM544 364h2v2h-2zM547 368h1v2h-1zM546 368h2v1h-2zM548 368h2v1h-2zM549 370h2v2h-2zM550 372h2v2h-2zM549 370h1v2h-1zM552 373h2v2h-2zM552 373h2v2h-2zM552 375h2v1h-2zM552 377h2v1h-2zM555 379h2v1h-2zM555 378h1v2h-1zM555 378h2v1h-2zM557 381h2v1h-2zM559 381h1v2h-1zM561 381h1v1h-1zM562 382h2v2h-2zM563 380h1v2h-1zM562 381h1v2h-1zM563 375h1v1h-1zM565 377h1v1h-1zM564 374h2v2h-2zM562 370h1v1h-1zM563 372h1v1h-1zM564 374h2v1h-2zM561 367h2v2h-2zM561 369h2v1h-2zM562 369h1v2h-1zM560 363h2v2h-2zM560 363h2v2h-2zM560 363h1v1h-1zM559 359h1v1h-1zM557 357h1v2h-1zM559 359h2v2h-2zM556 357h2v2h-2zM555 357h1v2h-1zM555 356h2v1h-2zM548 356h2v2h-2zM546 356h1v1h-1zM552 356h2v2h-2zM550 355h2v2h-2zM544 356h2v2h-2zM545 355h1v2h-1zM544 357h1v1h-1zM546 356h1v2h-1zM540 374h2v2h-2zM540 375h1v1h-1zM541 377h1v2h-1zM542 379h2v1h-2zM542 381h1v2h-1zM543 382h1v1h-1zM545 385h1v1h-1zM544 385h1v2h-1zM544 383h1v2h-1zM546 387h2v1h-2zM547 388h2v1h-2zM548 389h1v1h-1zM549 391h2v1h-2zM549 391h2v2h-2zM549 394h2v1h-2zM548 391h1v2h-1zM549 398h1v2h-1zM551 400h2v1h-2zM551 398h1v1h-1zM555 399h1v2h-1zM555 398h2v2h-2zM556 398h2v1h-2zM557 392h2v1h-2zM557 394h2v1h-2zM557 394h1v2h-1zM556 389h2v1h-2zM557 391h1v1h-1zM555 387h1v2h-1zM556 387h2v2h-2zM555 387h2v2h-2zM556 386h1v2h-1zM555 382h2v2h-2zM553 382h1v1h-1zM554 381h1v1h-1zM552 377h2v2h-2zM553 378h1v1h-1zM547 377h2v2h-2zM549 377h2v1h-2zM547 376h2v2h-2zM546 375h1v2h-1zM542 373h2v1h-2zM542 374h2v2h-2zM542 374h1v1h-1zM508 359h1v1h-1zM508 359h1v1h-1zM510 361h1v2h-1zM511 362h1v1h-1zM514 360h1v1h-1zM514 361h2v1h-2zM513 361h1v2h-1zM514 357h2v1h-2zM514 357h1v1h-1zM515 359h2v1h-2zM510 358h1v2h-1zM510 358h1v2h-1zM509 358h1v1h-1zM501 362h1v2h-1zM502 358h1v2h-1zM501 359h1v1h-1zM502 358h1v2h-1zM502 357h2v2h-2zM502 363h1v1h-1zM502 363h1v1h-1zM505 359h1v1h-1zM506 356h1v2h-1zM504 357h1v2h-1zM505 359h2v1h-2zM505 360h1v2h-1zM504 355h1v1h-1zM502 355h1v1h-1zM510 408h2v1h-2zM509 407h1v2h-1zM512 410h2v2h-2zM510 410h2v2h-2zM512 411h1v2h-1zM514 413h1v2h-1zM513 411h1v1h-1zM517 415h2v2h-2zM516 415h1v1h-1zM518 416h2v1h-2zM519 417h1v2h-1zM520 417h1v1h-1zM524 415h2v2h-2zM521 417h1v1h-1zM524 414h2v1h-2zM523 409h1v2h-1zM523 412h1v1h-1zM524 410h1v1h-1zM524 408h1v1h-1zM523 409h1v2h-1zM523 408h1v2h-1zM523 405h2v1h-2zM523 403h2v1h-2zM523 404h2v1h-2zM524 401h1v1h-1zM524 401h2v1h-2zM523 401h1v2h-1zM524 399h2v2h-2zM526 397h1v1h-1zM526 397h1v2h-1zM528 393h1v2h-1zM527 392h1v2h-1zM528 391h2v2h-2zM526 395h2v2h-2zM528 389h2v2h-2zM528 386h2v1h-2zM528 387h1v2h-1zM524 384h2v2h-2zM524 383h1v1h-1zM526 385h2v2h-2zM520 384h2v2h-2zM522 383h1v1h-1zM522 384h1v2h-1zM517 385h2v2h-2zM518 386h1v2h-1zM517 389h1v1h-1zM517 388h2v1h-2zM516 391h1v1h-1zM516 392h1v1h-1zM515 396h2v2h-2zM516 397h2v1h-2zM514 399h2v1h-2zM515 397h1v2h-1zM516 396h1v2h-1zM513 399h2v2h-2zM514 399h1v1h-1zM512 400h1v1h-1zM509 405h1v2h-1zM509 402h2v1h-2zM509 405h1v1h-1zM523 404h2v2h-2zM524 405h2v1h-2zM523 408h2v2h-2zM524 408h1v2h-1zM524 409h1v1h-1zM524 406h1v1h-1zM525 411h2v1h-2zM527 407h1v2h-1zM526 409h1v1h-1zM526 409h1v2h-1zM528 406h1v2h-1zM528 404h2v1h-2zM528 403h1v2h-1zM529 403h2v2h-2zM529 402h1v2h-1zM530 399h2v2h-2zM532 396h1v2h-1zM531 398h2v2h-2zM531 399h2v1h-2zM535 393h2v2h-2zM535 391h1v2h-1zM536 391h2v2h-2zM537 386h2v1h-2zM537 388h2v1h-2zM536 389h2v1h-2zM536 383h1v2h-1zM537 386h1v2h-1zM535 382h2v2h-2zM533 385h2v1h-2zM533 387h1v2h-1zM535 382h1v1h-1zM534 382h1v2h-1zM532 387h2v1h-2zM532 387h1v2h-1zM531 391h1v2h-1zM530 393h2v2h-2zM526 400h2v1h-2zM525 400h2v2h-2zM525 399h2v2h-2zM530 392h1v1h-1zM529 393h2v2h-2zM529 392h2v1h-2zM524 401h1v2h-1zM532 403h1v2h-1zM534 405h1v2h-1zM533 403h2v2h-2zM535 407h2v1h-2zM536 408h1v2h-1zM536 408h2v2h-2zM541 407h2v1h-2zM538 409h1v1h-1zM538 409h1v1h-1zM545 406h1v2h-1zM545 406h1v2h-1zM544 407h1v1h-1zM545 402h1v2h-1zM545 401h1v1h-1zM546 401h1v2h-1zM544 398h1v2h-1zM544 399h2v1h-2zM544 398h2v2h-2zM538 398h2v1h-2zM540 398h1v2h-1zM540 397h2v2h-2zM533 402h2v1h-2zM533 402h1v2h-1zM534 402h1v1h-1zM561 405h1v1h-1zM562 404h2v1h-2zM563 405h1v1h-1zM567 409h2v2h-2zM567 407h2v2h-2zM565 406h2v2h-2zM571 413h1v1h-1zM570 412h1v2h-1zM569 411h2v1h-2zM571 415h1v1h-1zM571 415h2v2h-2zM572 415h1v1h-1zM572 415h2v1h-2zM574 418h1v2h-1zM575 419h2v2h-2zM575 422h1v2h-1zM574 423h2v1h-2zM573 426h2v2h-2zM575 423h1v1h-1zM576 428h1v2h-1zM575 426h2v1h-2zM574 426h1v1h-1zM576 429h1v1h-1zM577 430h2v2h-2zM576 431h1v2h-1zM577 434h2v2h-2zM579 438h1v2h-1zM578 438h1v1h-1zM578 438h1v2h-1zM579 440h2v1h-2zM580 442h2v2h-2zM579 441h1v2h-1zM580 448h2v1h-2zM579 446h2v2h-2zM580 445h1v1h-1zM576 452h1v2h-1zM578 449h1v2h-1zM577 451h1v2h-1zM574 454h1v1h-1zM575 453h2v1h-2zM576 453h1v1h-1zM574 462h1v2h-1zM574 463h2v2h-2zM574 463h2v2h-2zM574 461h2v2h-2zM575 456h2v2h-2zM573 463h2v2h-2zM574 463h2v2h-2zM572 462h1v1h-1zM570 455h2v2h-2zM571 457h2v2h-2zM572 458h2v1h-2zM570 454h1v1h-1zM570 451h1v1h-1zM570 454h2v1h-2zM570 452h2v2h-2zM569 448h2v2h-2zM568 449h2v1h-2zM567 447h1v2h-1zM566 446h2v2h-2zM567 446h2v2h-2zM565 448h1v1h-1zM565 450h2v1h-2zM562 451h1v1h-1zM563 453h1v2h-1zM564 450h2v1h-2zM562 453h1v2h-1zM561 455h1v2h-1zM562 455h2v1h-2zM561 460h2v2h-2zM561 460h1v2h-1zM561 459h1v1h-1zM564 464h1v2h-1zM562 462h2v1h-2zM563 460h1v1h-1zM565 465h1v1h-1zM565 466h2v2h-2zM566 465h2v1h-2zM564 471h1v2h-1zM564 470h1v2h-1zM563 473h2v1h-2zM560 476h2v2h-2zM562 473h2v2h-2zM561 475h2v1h-2zM559 475h1v2h-1zM559 475h2v2h-2zM558 476h1v2h-1zM557 468h1v2h-1zM557 472h2v1h-2zM556 470h2v1h-2zM557 468h1v2h-1zM556 471h2v1h-2zM555 472h1v2h-1zM551 471h2v1h-2zM553 472h2v1h-2zM554 471h1v1h-1zM548 471h2v2h-2zM548 469h2v1h-2zM547 471h1v2h-1zM544 467h1v2h-1zM546 469h2v2h-2zM546 469h2v1h-2zM542 467h2v2h-2zM540 464h2v2h-2zM543 467h1v2h-1zM537 461h1v2h-1zM538 462h1v1h-1zM538 463h2v2h-2zM537 459h2v2h-2zM538 459h1v2h-1zM537 457h1v2h-1zM537 451h2v1h-2zM537 453h2v2h-2zM536 452h2v1h-2zM537 450h1v2h-1zM539 449h2v2h-2zM537 450h2v1h-2zM538 446h2v2h-2zM539 447h1v2h-1zM538 444h1v1h-1zM538 444h2v2h-2zM536 443h2v2h-2zM535 442h2v2h-2zM535 442h1v2h-1zM534 441h1v1h-1zM532 440h1v1h-1zM532 440h2v1h-2zM527 440h2v1h-2zM528 440h2v2h-2zM527 441h2v1h-2zM526 444h2v2h-2zM525 442h2v1h-2zM523 443h2v2h-2zM524 444h2v1h-2zM520 440h1v2h-1zM521 442h1v2h-1zM519 443h1v1h-1zM519 444h1v2h-1zM519 443h2v2h-2zM518 444h2v2h-2zM518 444h1v1h-1zM515 441h2v1h-2zM515 442h2v1h-2zM515 444h2v2h-2zM515 441h1v1h-1zM513 440h1v2h-1zM511 441h2v1h-2zM514 440h2v1h-2zM511 443h1v2h-1zM509 444h2v1h-2zM510 445h2v2h-2zM509 446h1v2h-1zM508 445h2v2h-2zM506 449h1v1h-1zM505 452h1v2h-1zM506 453h2v2h-2zM504 453h1v1h-1zM505 454h2v1h-2zM502 452h2v2h-2zM500 450h2v1h-2zM502 447h1v2h-1zM502 447h2v1h-2zM504 443h1v2h-1zM503 446h1v2h-1zM503 442h2v2h-2zM504 439h2v2h-2zM505 439h2v1h-2zM504 438h1v2h-1zM507 435h2v2h-2zM506 437h2v2h-2zM508 435h1v1h-1zM513 433h1v2h-1zM512 434h2v1h-2zM511 434h2v2h-2zM516 432h2v1h-2zM514 433h2v1h-2zM516 432h2v1h-2zM518 431h2v1h-2zM518 430h1v1h-1zM518 429h1v2h-1zM519 427h2v2h-2zM519 428h1v1h-1zM524 426h1v1h-1zM523 426h2v2h-2zM525 424h1v1h-1zM524 426h1v2h-1zM530 424h2v1h-2zM530 423h2v2h-2zM527 424h1v2h-1zM532 426h1v1h-1zM531 425h1v2h-1zM532 428h1v2h-1zM533 430h1v1h-1zM532 429h2v2h-2zM533 433h1v2h-1zM532 433h1v2h-1zM532 433h2v2h-2zM532 434h2v1h-2zM535 433h2v2h-2zM535 432h1v1h-1zM537 432h2v1h-2zM540 430h2v1h-2zM538 431h2v2h-2zM540 431h2v2h-2zM542 426h2v2h-2zM540 426h1v1h-1zM542 426h2v1h-2zM545 425h1v1h-1zM543 425h1v1h-1zM546 426h2v1h-2zM548 425h1v2h-1zM548 424h2v1h-2zM548 426h1v1h-1zM549 422h2v1h-2zM550 420h1v1h-1zM551 420h2v1h-2zM555 419h1v2h-1zM555 420h2v1h-2zM557 419h1v1h-1zM556 420h1v2h-1zM560 419h1v2h-1zM559 418h1v1h-1zM561 418h2v1h-2zM562 417h1v1h-1zM561 418h1v2h-1zM561 414h1v1h-1zM561 412h1v2h-1zM562 411h1v2h-1zM560 405h1v1h-1zM560 405h2v2h-2zM560 409h1v1h-1zM503 457h1v2h-1zM502 456h2v2h-2zM504 457h1v2h-1zM506 457h1v1h-1zM505 459h1v2h-1zM505 458h1v2h-1zM503 461h2v2h-2zM503 461h2v1h-2zM500 460h2v2h-2zM500 460h1v2h-1zM500 459h1v1h-1zM500 458h1v1h-1zM529 413h1v1h-1zM529 413h1v2h-1zM530 414h1v2h-1zM530 416h2v1h-2zM527 414h2v2h-2zM528 415h1v2h-1zM547 414h1v2h-1zM548 413h2v2h-2zM549 414h2v2h-2zM549 415h2v1h-2zM547 415h1v2h-1zM547 414h1v1h-1zM461 378h2v2h-2zM461 378h2v2h-2zM461 378h1v1h-1zM464 381h2v2h-2zM463 383h1v2h-1zM464 383h1v2h-1zM464 379h1v2h-1zM463 384h1v2h-1zM464 386h2v2h-2zM464 385h1v1h-1zM463 388h1v2h-1zM463 391h1v2h-1zM461 394h1v1h-1zM462 391h1v1h-1zM463 390h2v1h-2zM458 396h1v2h-1zM459 395h2v2h-2zM459 395h2v1h-2zM458 397h2v2h-2zM455 399h2v2h-2zM453 401h1v2h-1zM454 400h2v1h-2zM448 405h2v1h-2zM449 405h1v1h-1zM449 404h2v1h-2zM448 406h1v1h-1zM449 407h2v2h-2zM449 407h2v1h-2zM442 414h2v2h-2zM446 412h1v2h-1zM444 413h1v1h-1zM446 411h1v1h-1zM440 418h2v2h-2zM437 419h1v2h-1zM440 417h2v1h-2zM440 418h2v1h-2zM436 420h2v1h-2zM432 423h1v2h-1zM432 423h2v2h-2zM435 421h1v1h-1zM430 424h1v2h-1zM428 427h1v2h-1zM431 424h2v2h-2zM431 423h2v2h-2zM426 429h1v2h-1zM426 430h2v2h-2zM424 430h1v1h-1zM419 431h2v2h-2zM421 431h2v2h-2zM422 431h2v2h-2zM418 429h2v2h-2zM418 428h1v1h-1zM422 422h2v2h-2zM419 426h2v1h-2zM423 421h1v1h-1zM422 423h2v2h-2zM419 427h1v1h-1zM423 421h1v2h-1zM425 418h2v1h-2zM427 417h2v2h-2zM427 417h2v2h-2zM428 416h1v2h-1zM431 414h1v1h-1zM431 414h2v2h-2zM429 414h1v1h-1zM434 411h2v2h-2zM436 409h1v1h-1zM436 409h1v1h-1zM438 408h1v1h-1zM441 405h2v2h-2zM441 405h2v1h-2zM441 405h2v2h-2zM437 407h1v1h-1zM443 403h2v1h-2zM442 404h1v2h-1zM442 403h2v2h-2zM444 401h2v1h-2zM446 397h2v2h-2zM446 397h2v2h-2zM446 398h1v2h-1zM449 395h2v2h-2zM451 392h2v1h-2zM450 393h1v1h-1zM450 394h2v2h-2zM451 391h2v2h-2zM454 388h2v2h-2zM453 391h2v2h-2zM454 391h2v2h-2zM456 383h1v2h-1zM455 386h2v1h-2zM456 382h1v2h-1zM457 380h2v2h-2zM457 380h1v2h-1zM456 380h1v2h-1zM287 227h2v2h-2zM291 226h2v2h-2zM296 226h2v1h-2zM296 226h1v1h-1zM294 226h1v2h-1zM305 225h1v2h-1zM303 224h2v2h-2zM301 225h2v1h-2zM307 225h2v1h-2zM308 225h1v1h-1zM313 225h2v2h-2zM316 227h1v2h-1zM317 229h1v1h-1zM317 228h1v1h-1zM317 231h1v1h-1zM317 232h2v2h-2zM315 236h1v1h-1zM312 239h1v2h-1zM312 239h2v1h-2zM313 239h1v1h-1zM310 244h1v1h-1zM310 243h1v1h-1zM307 249h2v2h-2zM308 247h1v1h-1zM301 254h2v2h-2zM304 252h1v2h-1zM303 252h1v1h-1zM299 255h1v2h-1zM299 255h1v2h-1zM291 257h1v1h-1zM292 257h2v1h-2zM286 255h2v2h-2zM287 256h2v1h-2zM282 253h2v2h-2zM285 254h2v1h-2zM279 252h1v1h-1zM279 251h2v1h-2zM276 249h1v2h-1zM276 244h2v2h-2zM276 243h2v2h-2zM276 244h2v2h-2zM277 240h1v1h-1zM277 237h2v1h-2zM280 234h2v1h-2zM278 236h1v2h-1zM281 232h1v1h-1zM283 231h1v1h-1zM284 229h1v2h-1zM284 230h2v1h-2zM507 36h2v1h-2zM505 37h1v1h-1zM506 37h3v1h-3zM504 38h3v1h-3zM503 43h3v1h-3zM503 44h2v3h-2zM504 39h2v3h-2zM504 40h2v2h-2zM504 44h3v1h-3zM507 40h1v3h-1zM506 41h2v3h-2zM504 43h3v2h-3zM504 43h1v2h-1zM505 40h1v2h-1zM501 47h2v1h-2zM501 46h3v2h-3zM502 47h2v3h-2zM500 48h3v1h-3zM502 45h1v3h-1zM499 48h2v3h-2zM503 47h3v3h-3zM504 46h3v3h-3zM500 47h2v1h-2zM501 46h3v2h-3zM496 48h3v3h-3zM496 49h1v1h-1zM496 49h1v3h-1zM495 50h3v1h-3zM498 47h2v1h-2zM497 49h2v1h-2zM497 48h3v2h-3zM496 49h2v2h-2zM494 50h1v2h-1zM496 50h1v3h-1zM495 52h2v1h-2zM496 50h3v3h-3zM497 52h3v3h-3zM494 53h2v3h-2zM494 53h1v3h-1zM497 52h2v1h-2zM494 55h3v1h-3zM494 52h1v3h-1zM496 55h1v3h-1zM493 53h1v1h-1zM496 57h2v1h-2zM495 59h1v2h-1zM495 58h1v1h-1zM497 58h1v2h-1zM494 58h2v3h-2zM496 56h2v3h-2zM494 57h1v1h-1zM495 60h3v3h-3zM498 58h2v1h-2zM498 57h2v1h-2zM497 58h2v1h-2zM496 58h1v2h-1zM495 58h1v3h-1zM496 57h2v2h-2zM496 57h2v1h-2zM498 58h3v1h-3zM499 59h1v1h-1zM502 59h1v2h-1zM499 59h1v2h-1zM501 62h2v3h-2zM500 59h3v2h-3zM498 58h2v3h-2zM500 61h1v1h-1zM504 62h1v2h-1zM501 59h3v3h-3zM499 65h1v2h-1zM500 64h1v2h-1zM500 64h1v2h-1zM497 66h3v2h-3zM499 63h3v1h-3zM499 63h1v2h-1zM498 65h3v1h-3zM498 68h1v1h-1zM497 68h3v1h-3zM497 67h2v2h-2zM498 67h2v1h-2zM495 69h1v2h-1zM497 70h3v3h-3zM495 70h3v1h-3zM498 67h1v3h-1zM492 73h3v2h-3zM492 72h2v1h-2zM494 70h2v3h-2zM495 72h3v1h-3zM495 72h3v2h-3zM494 70h1v3h-1zM495 74h3v3h-3zM490 74h2v1h-2zM490 74h3v3h-3zM491 72h1v3h-1zM490 74h1v2h-1zM491 72h1v3h-1zM490 74h1v3h-1zM490 75h2v2h-2zM492 73h1v2h-1zM486 78h3v1h-3zM488 79h1v2h-1zM486 77h1v3h-1zM486 79h2v1h-2zM485 79h2v2h-2zM488 76h2v1h-2zM489 76h1v3h-1zM488 76h1v1h-1zM486 77h3v1h-3zM485 78h3v1h-3zM482 79h3v2h-3zM479 80h3v2h-3zM481 80h3v2h-3zM482 81h1v1h-1zM481 77h3v3h-3zM479 77h3v2h-3zM481 80h2v1h-2zM483 79h3v2h-3zM482 80h1v3h-1zM481 81h2v3h-2zM483 79h3v1h-3zM482 81h2v3h-2zM483 79h2v3h-2zM480 80h3v2h-3zM482 79h3v3h-3zM483 81h1v2h-1zM481 82h2v3h-2zM480 77h2v2h-2zM481 88h3v1h-3zM480 84h3v3h-3zM481 84h1v2h-1zM480 85h3v2h-3zM480 82h1v3h-1zM479 86h3v3h-3zM480 84h1v2h-1zM480 83h3v3h-3zM481 85h1v2h-1zM481 87h2v2h-2zM479 86h1v2h-1zM475 94h1v2h-1zM475 95h1v3h-1zM479 93h1v2h-1zM478 90h3v2h-3zM476 92h2v2h-2zM475 91h3v2h-3zM477 91h3v1h-3zM475 92h2v2h-2zM475 91h1v3h-1zM480 90h2v3h-2zM477 93h2v2h-2zM475 92h1v1h-1zM477 89h1v1h-1zM472 95h2v1h-2zM471 96h1v1h-1zM468 99h2v2h-2zM471 99h1v2h-1zM474 96h1v1h-1zM473 97h3v2h-3zM472 95h2v1h-2zM472 94h1v2h-1zM470 98h2v3h-2zM473 95h1v3h-1zM471 96h2v3h-2zM465 100h3v1h-3zM467 101h3v1h-3zM463 101h3v3h-3zM466 101h3v3h-3zM464 101h1v1h-1zM469 99h1v1h-1zM465 102h3v2h-3zM468 99h1v2h-1zM465 103h2v1h-2zM464 100h2v1h-2zM467 100h2v2h-2zM464 100h1v3h-1zM462 102h3v1h-3zM462 102h3v2h-3zM463 101h3v3h-3zM462 105h1v2h-1zM461 104h2v1h-2zM462 102h2v3h-2zM462 103h2v2h-2zM461 105h1v1h-1zM464 102h3v1h-3zM462 103h2v3h-2zM466 108h3v1h-3zM462 106h2v1h-2zM464 108h3v2h-3zM463 107h3v3h-3zM461 107h3v1h-3zM464 110h3v3h-3zM461 106h2v3h-2zM462 106h3v3h-3zM461 107h3v1h-3zM464 113h2v3h-2zM462 115h2v1h-2zM465 113h1v2h-1zM465 115h2v2h-2zM466 112h3v2h-3zM465 111h3v3h-3zM464 113h1v1h-1zM464 116h3v1h-3zM464 115h2v3h-2zM464 114h2v3h-2zM464 116h3v3h-3zM464 118h2v3h-2zM465 115h2v3h-2zM463 116h1v2h-1zM464 117h3v1h-3zM467 118h2v2h-2zM465 117h3v2h-3zM465 119h2v2h-2zM462 117h2v2h-2zM465 119h2v2h-2zM461 125h2v2h-2zM465 123h2v2h-2zM462 123h1v1h-1zM462 124h1v2h-1zM462 123h2v3h-2zM461 125h2v2h-2zM466 122h3v3h-3zM464 125h2v3h-2zM465 122h1v1h-1zM462 123h3v2h-3zM465 122h1v3h-1zM456 127h3v1h-3zM460 126h3v2h-3zM457 129h1v3h-1zM459 126h3v3h-3zM460 129h1v3h-1zM457 127h1v1h-1zM458 127h1v1h-1zM460 126h1v3h-1zM457 129h2v2h-2zM458 127h2v2h-2zM457 127h1v3h-1zM455 132h1v3h-1zM456 130h1v2h-1zM454 131h1v3h-1zM454 129h3v1h-3zM455 131h1v3h-1zM456 131h1v1h-1zM454 132h3v1h-3zM456 130h2v3h-2zM449 134h2v1h-2zM453 133h3v1h-3zM451 133h2v2h-2zM452 134h1v1h-1zM448 135h3v1h-3zM452 132h2v1h-2zM452 135h1v3h-1zM447 135h3v3h-3zM449 135h2v2h-2zM448 136h1v3h-1zM450 133h2v2h-2zM444 138h3v2h-3zM445 138h2v1h-2zM445 139h3v3h-3zM443 138h3v1h-3zM447 137h1v2h-1zM444 140h2v1h-2zM448 138h2v1h-2zM442 140h3v3h-3zM443 137h3v1h-3zM446 138h2v1h-2zM444 140h2v2h-2zM445 137h1v3h-1zM437 142h1v3h-1zM441 141h2v3h-2zM436 145h3v1h-3zM436 143h2v1h-2zM441 140h2v3h-2zM440 143h1v3h-1zM439 142h2v2h-2zM436 143h1v1h-1zM439 141h3v3h-3zM439 145h1v3h-1zM443 142h1v2h-1zM437 142h2v3h-2zM441 143h2v2h-2zM435 147h2v2h-2zM434 144h2v1h-2zM435 144h1v3h-1zM435 143h3v3h-3zM433 146h3v1h-3zM432 146h3v3h-3zM435 147h2v1h-2zM433 145h1v3h-1zM435 144h3v3h-3zM428 152h3v1h-3zM433 151h3v1h-3zM431 152h3v1h-3zM432 149h3v1h-3zM432 150h2v1h-2zM428 152h2v2h-2zM432 149h3v3h-3zM430 152h3v2h-3zM431 151h1v2h-1zM429 151h3v2h-3zM430 153h3v2h-3zM426 153h2v2h-2zM427 153h1v2h-1zM426 153h3v1h-3zM425 155h1v3h-1zM426 154h1v1h-1zM423 155h2v2h-2zM424 155h3v3h-3zM428 152h2v1h-2zM425 156h1v1h-1zM426 153h2v1h-2zM425 154h1v2h-1zM423 156h2v2h-2zM420 157h2v1h-2zM420 161h1v1h-1zM418 160h1v3h-1zM419 158h3v1h-3zM418 160h1v3h-1zM420 160h1v3h-1zM421 158h2v1h-2zM420 160h3v1h-3zM420 162h2v2h-2zM420 157h1v1h-1zM419 158h1v2h-1zM410 167h1v2h-1zM411 168h2v2h-2zM412 167h1v2h-1zM411 168h3v2h-3zM412 167h1v1h-1zM413 169h2v3h-2zM414 167h1v2h-1zM410 167h3v3h-3zM411 168h2v3h-2zM411 168h3v2h-3zM411 168h2v3h-2zM410 168h2v2h-2zM407 172h2v2h-2zM408 171h2v2h-2zM407 173h1v3h-1zM408 171h3v3h-3zM407 171h2v2h-2zM406 172h3v3h-3zM405 173h1v1h-1zM404 172h1v2h-1zM401 174h3v1h-3zM399 173h1v2h-1zM399 173h2v1h-2zM402 172h1v1h-1zM404 174h1v1h-1zM400 173h3v1h-3zM399 173h1v2h-1zM399 174h2v2h-2zM394 174h3v3h-3zM398 173h3v3h-3zM397 174h3v2h-3zM391 173h1v3h-1zM393 174h1v2h-1zM396 174h1v3h-1zM394 173h1v1h-1zM397 173h3v3h-3zM391 175h2v1h-2zM396 174h3v3h-3zM395 174h1v1h-1zM390 174h3v1h-3zM389 174h1v1h-1zM389 175h2v3h-2zM386 175h1v3h-1zM385 175h3v1h-3zM385 177h1v3h-1zM385 175h1v3h-1zM388 176h2v1h-2zM381 176h1v3h-1zM381 176h3v2h-3zM383 177h1v2h-1zM384 175h1v2h-1zM383 176h2v1h-2zM381 176h1v1h-1zM382 177h1v3h-1zM381 177h1v3h-1zM379 178h1v2h-1zM380 177h3v2h-3zM380 179h1v1h-1zM377 180h3v3h-3zM375 181h1v1h-1zM377 180h2v1h-2zM375 182h3v1h-3zM378 179h3v3h-3zM377 179h1v3h-1zM374 182h2v3h-2zM374 181h1v2h-1zM372 183h2v3h-2zM373 183h3v2h-3zM372 183h2v2h-2zM375 182h3v3h-3zM370 184h3v3h-3zM371 185h3v3h-3zM371 184h3v1h-3zM370 184h2v3h-2zM371 182h1v3h-1zM370 183h1v2h-1zM367 185h3v3h-3zM368 184h1v3h-1zM367 184h1v2h-1zM369 185h2v1h-2zM367 185h1v3h-1zM365 183h2v3h-2zM364 183h2v1h-2zM363 182h2v3h-2zM364 182h1v1h-1zM363 183h1v1h-1zM366 184h1v3h-1zM365 181h3v2h-3zM364 177h3v2h-3zM364 180h3v2h-3zM363 177h1v3h-1zM363 177h1v3h-1zM363 177h2v3h-2zM364 179h1v3h-1zM363 176h2v2h-2zM364 180h2v2h-2zM362 173h3v1h-3zM361 170h1v2h-1zM362 174h2v1h-2zM361 171h3v2h-3zM361 173h3v3h-3zM360 173h3v2h-3zM359 172h3v2h-3zM359 169h2v2h-2zM359 169h2v2h-2zM360 171h2v1h-2zM358 168h1v3h-1zM358 169h1v3h-1zM360 169h1v2h-1zM358 170h1v1h-1zM357 170h1v2h-1zM359 169h1v2h-1zM358 174h1v1h-1zM358 173h1v2h-1zM358 171h3v3h-3zM357 174h2v2h-2zM357 172h3v1h-3zM359 177h2v3h-2zM358 176h1v1h-1zM358 176h3v3h-3zM358 179h3v1h-3zM358 175h1v1h-1zM359 176h3v2h-3zM358 174h2v1h-2zM358 181h1v1h-1zM361 180h3v2h-3zM359 182h2v1h-2zM358 179h1v1h-1zM359 182h3v2h-3zM359 183h3v1h-3zM358 185h1v1h-1zM357 185h2v1h-2zM359 185h3v1h-3zM357 185h2v1h-2zM357 185h1v1h-1zM358 186h2v3h-2zM356 187h2v3h-2zM354 187h1v1h-1zM355 186h1v1h-1zM355 187h1v3h-1zM353 183h1v1h-1zM352 183h3v3h-3zM352 186h1v2h-1zM352 185h3v2h-3zM354 182h2v3h-2zM352 183h1v2h-1zM350 182h2v2h-2zM351 180h3v1h-3zM351 181h3v2h-3zM353 181h2v1h-2zM350 182h1v3h-1zM350 182h2v1h-2zM351 181h2v1h-2zM350 182h2v2h-2zM350 181h2v3h-2zM350 183h2v3h-2zM350 181h3v1h-3zM352 182h1v3h-1zM352 181h1v3h-1zM353 188h3v2h-3zM352 188h1v2h-1zM351 188h2v2h-2zM352 186h2v2h-2zM351 186h1v3h-1zM352 190h3v2h-3zM352 187h3v2h-3zM351 192h3v2h-3zM350 191h2v1h-2zM352 190h3v1h-3zM351 192h1v3h-1zM350 190h2v3h-2zM349 191h2v1h-2zM346 193h1v3h-1zM348 192h3v2h-3zM348 194h1v1h-1zM349 192h2v3h-2zM342 192h3v1h-3zM343 193h2v2h-2zM345 193h1v3h-1zM343 193h1v2h-1zM345 195h3v1h-3zM344 193h3v1h-3zM341 192h3v2h-3zM341 193h1v1h-1zM339 193h2v1h-2zM342 191h1v3h-1zM342 191h3v3h-3zM340 192h2v1h-2zM342 191h3v2h-3zM339 192h2v1h-2zM340 191h3v1h-3zM336 193h2v1h-2zM335 194h3v2h-3zM338 194h3v2h-3zM335 193h1v2h-1zM338 194h1v3h-1zM336 193h3v2h-3zM335 194h2v1h-2zM333 196h3v3h-3zM333 195h2v1h-2zM335 194h2v2h-2zM335 196h2v2h-2zM328 194h3v3h-3zM328 195h3v1h-3zM331 194h1v1h-1zM328 193h3v2h-3zM331 196h1v3h-1zM329 194h2v1h-2zM328 195h1v3h-1zM327 195h3v3h-3zM330 196h3v1h-3zM328 194h2v2h-2zM326 198h2v1h-2zM326 198h2v1h-2zM325 199h3v1h-3zM327 197h2v3h-2zM327 196h2v3h-2zM327 197h3v3h-3zM320 200h3v1h-3zM320 199h3v1h-3zM322 199h2v2h-2zM322 198h1v2h-1zM324 198h1v2h-1zM323 200h2v3h-2zM318 199h2v1h-2zM319 199h1v1h-1zM314 201h1v2h-1zM316 200h3v1h-3zM315 200h2v3h-2zM311 202h3v2h-3zM312 201h2v2h-2zM308 202h3v3h-3zM308 201h1v3h-1zM306 203h1v3h-1zM306 201h2v3h-2zM308 205h3v1h-3zM307 203h3v3h-3zM306 208h1v1h-1zM307 207h2v1h-2zM304 209h1v3h-1zM305 208h3v3h-3zM306 213h1v1h-1zM304 211h1v3h-1zM304 211h1v3h-1zM306 215h1v1h-1zM307 214h2v1h-2zM308 217h3v3h-3zM307 219h1v2h-1zM307 219h2v3h-2zM305 220h1v3h-1zM304 220h3v2h-3zM303 220h1v2h-1zM298 216h1v2h-1zM300 220h1v1h-1zM301 220h3v3h-3zM297 214h2v1h-2zM297 214h3v1h-3zM297 212h2v1h-2zM296 210h2v1h-2zM295 206h2v2h-2zM296 209h1v3h-1zM298 202h1v1h-1zM296 205h2v3h-2zM296 205h3v3h-3zM297 201h1v3h-1zM298 200h3v3h-3zM296 198h3v1h-3zM296 198h1v2h-1zM294 195h2v2h-2zM294 195h1v2h-1zM291 196h3v1h-3zM292 195h1v3h-1zM290 197h3v2h-3zM288 199h2v1h-2zM288 200h3v3h-3zM286 199h1v1h-1zM285 198h2v1h-2zM282 198h2v1h-2zM282 196h1v1h-1zM280 195h3v2h-3zM279 194h2v2h-2zM279 194h3v3h-3zM276 192h3v1h-3zM275 192h3v1h-3zM275 192h1v2h-1zM274 193h3v2h-3zM274 193h1v2h-1zM272 195h3v2h-3zM269 196h2v3h-2zM271 196h2v3h-2zM264 196h3v3h-3zM265 196h3v3h-3zM266 196h3v2h-3zM263 197h2v1h-2zM262 197h1v2h-1zM262 197h3v3h-3zM259 200h1v1h-1zM260 201h1v1h-1zM258 201h1v2h-1zM260 203h2v2h-2zM259 201h3v2h-3zM260 201h3v1h-3zM259 201h3v2h-3zM260 200h2v3h-2zM259 201h2v1h-2zM255 203h1v1h-1zM256 204h3v2h-3zM254 205h1v2h-1zM255 206h1v2h-1zM256 204h1v2h-1zM255 202h3v3h-3zM254 205h2v2h-2zM254 206h2v3h-2zM248 206h2v1h-2zM247 207h3v3h-3zM247 206h2v2h-2zM253 207h2v3h-2zM254 206h2v2h-2zM249 206h1v1h-1zM253 206h3v1h-3zM249 207h2v1h-2zM253 207h2v3h-2zM245 206h2v2h-2zM254 206h2v1h-2zM250 206h1v3h-1zM252 206h1v2h-1zM254 208h3v2h-3zM244 208h3v3h-3zM245 206h3v1h-3zM245 208h3v2h-3zM244 208h3v2h-3zM243 209h2v3h-2zM242 210h1v2h-1zM242 210h3v2h-3zM244 210h1v1h-1zM243 208h2v1h-2zM244 209h1v3h-1zM244 207h3v2h-3zM243 211h3v2h-3zM242 207h2v3h-2zM140 492h3v3h-3zM141 490h1v3h-1zM142 497h1v2h-1zM141 493h1v2h-1zM140 495h1v1h-1zM141 496h1v1h-1zM140 488h1v2h-1zM140 487h3v1h-3zM140 488h2v2h-2zM140 489h2v1h-2zM138 488h3v3h-3zM138 485h2v2h-2zM136 479h1v1h-1zM134 482h2v2h-2zM136 483h3v1h-3zM135 481h1v1h-1zM133 479h2v3h-2zM134 475h1v3h-1zM134 472h1v2h-1zM136 471h3v2h-3zM135 471h3v1h-3zM135 475h1v3h-1zM134 470h1v3h-1zM134 471h2v1h-2zM135 470h2v3h-2zM136 468h1v2h-1zM136 469h3v1h-3zM133 461h2v2h-2zM134 464h2v3h-2zM132 460h2v3h-2zM133 461h2v1h-2zM133 460h1v3h-1zM130 460h2v2h-2zM131 460h1v2h-1zM127 457h2v3h-2zM128 456h3v3h-3zM128 459h3v1h-3zM128 458h2v2h-2zM126 454h2v2h-2zM127 454h2v2h-2zM125 450h2v2h-2zM125 451h1v1h-1zM124 452h3v1h-3zM123 447h3v3h-3zM123 447h3v2h-3zM124 446h2v3h-2zM124 447h3v3h-3zM123 445h1v1h-1zM121 446h3v1h-3zM121 444h1v3h-1zM122 445h2v2h-2zM115 437h3v3h-3zM119 439h1v2h-1zM118 438h2v1h-2zM117 439h2v2h-2zM116 437h1v1h-1zM114 436h1v2h-1zM116 437h1v2h-1zM418 456h2v1h-2zM415 454h3v2h-3zM416 453h1v3h-1zM418 456h1v1h-1zM421 458h3v3h-3zM421 458h1v2h-1zM422 458h1v1h-1zM422 457h1v3h-1zM424 463h2v1h-2zM424 461h3v1h-3zM425 461h2v3h-2zM423 459h1v1h-1zM428 465h2v2h-2zM426 463h3v3h-3zM426 462h2v3h-2zM428 466h2v3h-2zM430 467h1v1h-1zM430 468h2v1h-2zM432 469h2v2h-2zM431 469h2v2h-2zM432 472h1v3h-1zM434 472h1v1h-1zM432 470h2v1h-2zM436 474h2v2h-2zM440 474h3v2h-3zM438 474h2v2h-2zM438 474h1v3h-1zM442 475h2v2h-2zM444 475h3v1h-3zM443 476h3v3h-3zM440 475h2v3h-2zM445 476h3v1h-3zM447 479h2v1h-2zM448 477h1v3h-1zM449 478h3v3h-3zM446 476h2v3h-2zM455 482h1v3h-1zM455 480h2v3h-2zM453 481h1v1h-1zM455 481h2v3h-2zM455 482h2v2h-2zM455 482h2v2h-2zM455 482h2v1h-2zM450 485h1v3h-1zM449 484h1v1h-1zM448 484h1v3h-1zM451 484h3v1h-3zM452 485h3v1h-3zM447 485h1v3h-1zM443 486h3v3h-3zM442 484h3v3h-3zM443 486h2v1h-2zM444 486h2v1h-2zM437 486h1v2h-1zM437 487h1v3h-1zM440 486h2v3h-2zM440 487h1v2h-1zM438 488h1v1h-1zM438 491h3v1h-3zM437 488h3v3h-3zM440 492h3v3h-3zM444 493h1v1h-1zM444 493h1v3h-1zM445 493h2v2h-2zM441 494h3v3h-3zM444 493h3v3h-3zM440 494h2v3h-2zM445 493h2v3h-2zM444 493h3v2h-3zM438 497h1v1h-1zM441 496h2v1h-2zM437 497h1v2h-1zM438 497h3v2h-3zM437 496h2v2h-2zM434 497h2v1h-2zM432 497h1v3h-1zM434 498h2v3h-2zM429 501h1v3h-1zM430 502h1v2h-1zM430 500h3v3h-3zM431 504h1v2h-1zM430 506h1v1h-1zM431 504h1v3h-1zM432 507h2v2h-2zM432 507h2v2h-2zM430 511h1v1h-1zM431 508h1v3h-1zM429 510h1v1h-1zM429 513h2v2h-2zM430 508h1v1h-1zM428 514h2v3h-2zM428 513h1v3h-1zM428 515h2v1h-2zM429 514h1v2h-1zM428 522h2v3h-2zM425 518h3v2h-3zM426 518h2v3h-2zM427 519h1v1h-1zM431 527h1v3h-1zM430 525h2v3h-2zM428 523h1v2h-1zM428 524h2v3h-2zM430 526h3v1h-3zM431 530h1v3h-1zM431 532h1v1h-1zM430 529h1v1h-1zM431 529h2v1h-2zM432 531h2v3h-2zM432 534h1v2h-1zM431 535h3v3h-3zM431 533h3v1h-3zM431 536h1v2h-1zM432 542h3v2h-3zM433 542h3v2h-3zM430 539h3v1h-3zM434 543h3v3h-3zM431 538h2v3h-2zM434 545h1v2h-1zM437 546h3v3h-3zM435 544h2v3h-2zM435 545h1v3h-1zM437 546h2v3h-2zM443 549h2v1h-2zM442 548h1v1h-1zM443 550h1v1h-1zM444 551h2v3h-2zM442 549h3v2h-3zM446 551h3v1h-3zM447 552h3v2h-3zM448 552h1v3h-1zM445 550h3v1h-3zM450 553h2v3h-2zM450 554h2v3h-2zM451 555h2v3h-2zM451 555h2v1h-2zM350 517h1v3h-1zM349 518h1v1h-1zM349 518h3v2h-3zM354 515h3v3h-3zM355 513h1v1h-1zM354 515h1v3h-1zM357 511h1v1h-1zM358 509h3v3h-3zM356 511h3v3h-3zM360 505h2v2h-2zM361 506h1v1h-1zM361 504h3v2h-3zM363 501h2v1h-2zM364 499h1v3h-1zM363 502h2v2h-2zM368 495h2v1h-2zM368 494h3v1h-3zM366 498h3v2h-3zM369 493h1v2h-1zM370 493h1v2h-1zM369 493h2v1h-2zM373 492h1v2h-1zM376 490h2v3h-2zM376 490h1v1h-1zM377 489h3v1h-3zM377 488h2v3h-2zM379 489h3v3h-3zM382 487h3v3h-3zM381 487h3v2h-3zM383 486h1v1h-1zM384 485h1v3h-1zM383 486h1v3h-1zM389 483h3v2h-3zM388 482h2v2h-2zM388 482h2v3h-2zM391 480h1v1h-1zM393 477h3v1h-3zM392 478h1v3h-1zM396 475h2v1h-2zM395 476h1v3h-1zM397 476h1v2h-1zM399 471h2v3h-2zM396 474h2v1h-2zM400 472h3v2h-3zM403 465h1v2h-1zM401 469h3v1h-3zM402 468h1v3h-1zM404 465h1v2h-1zM407 462h1v3h-1zM405 464h3v1h-3zM407 460h2v3h-2zM409 461h3v2h-3zM408 460h3v3h-3zM411 457h1v1h-1zM410 457h3v2h-3zM411 456h3v2h-3zM415 451h3v2h-3zM415 451h1v3h-1zM414 452h3v1h-3z"/>
<g fill="#c0c0c0">
<polygon points="486.0,467.0 489.0,467.0 489.0,469.0 486.0,469.0"/>
<polygon points="470.0,481.0 473.0,481.0 473.0,483.0 470.0,483.0"/>
<polygon points="478.0,472.0 480.0,472.0 480.0,474.0 478.0,474.0"/>
<polygon points="599.0,105.0 602.0,105.0 602.0,106.0 599.0,106.0"/>
<polygon points="603.0,102.0 605.0,102.0 605.0,103.0 603.0,103.0"/>
<polygon points="606.0,100.0 608.0,100.0 608.0,101.0 606.0,101.0"/>
<polygon points="628.0,71.0 630.0,71.0 630.0,72.0 628.0,72.0"/>
<polygon points="631.0,68.0 633.0,68.0 633.0,69.0 631.0,69.0"/>
<polygon points="626.0,79.0 628.0,79.0 628.0,81.0 626.0,81.0"/>
<polygon points="533.0,145.0 536.0,145.0 536.0,146.0 533.0,146.0"/>
<polygon points="537.0,144.0 539.0,144.0 539.0,145.0 537.0,145.0"/>
<polygon points="469.0,364.0 471.0,364.0 471.0,366.0 469.0,366.0"/>
<polygon points="470.0,369.0 472.0,369.0 472.0,370.0 470.0,370.0"/>
<polygon points="567.0,399.0 569.0,399.0 569.0,401.0 567.0,401.0"/>
<polygon points="568.0,404.0 569.0,404.0 569.0,406.0 568.0,406.0"/>
<polygon points="493.0,237.0 494.0,237.0 494.0,238.0 493.0,238.0"/>
<polygon points="491.0,243.0 492.0,243.0 492.0,244.0 491.0,244.0"/>
<polygon points="502.0,233.0 503.0,233.0 503.0,234.0 502.0,234.0"/>
<polygon points="469.0,363.0 471.0,363.0 471.0,366.0 469.0,366.0"/>
<polygon points="470.0,369.0 472.0,369.0 472.0,371.0 470.0,371.0"/>
<polygon points="463.0,380.0 465.0,380.0 465.0,382.0 463.0,382.0"/>
<polygon points="135.0,473.0 136.0,473.0 136.0,474.0 135.0,474.0"/>
<polygon points="138.0,478.0 139.0,478.0 139.0,480.0 138.0,480.0"/>
<polygon points="148.0,505.0 149.0,505.0 149.0,506.0 148.0,506.0"/>
</g>
<g fill="none" stroke="#000" stroke-width="1" stroke-linejoin="round" shape-rendering="crispEdges">
<polyline points="111.0,168.0 122.0,169.0 123.0,172.0 120.0,173.0 119.0,181.0 117.0,184.0 118.0,187.0 129.0,188.6 131.0,194.0 134.0,198.0 142.0,197.0 148.0,194.0 150.0,196.0 151.0,202.0 153.0,204.0 160.0,204.0 160.6,195.0 158.0,189.0 157.0,184.0 159.0,180.6 167.0,182.0 172.0,175.0 177.0,177.0 182.0,181.0 187.0,175.4 190.0,178.0 193.0,176.0 197.0,180.0 200.0,175.0 205.0,176.0 211.0,172.0 214.0,167.0 220.0,164.6 225.0,169.0 230.0,171.4 237.0,172.0 244.0,174.0 245.0,177.0 242.0,181.0 244.0,188.0 251.0,193.0 257.0,196.0 260.0,196.6"/>
<polyline points="148.0,194.0 148.0,195.0 145.0,200.0 142.0,202.0 141.0,208.0 135.0,211.0 132.6,215.0 133.0,219.0 131.0,218.0 128.0,217.0 123.0,219.0 122.0,222.0 115.0,224.0 111.0,225.4"/>
<polyline points="133.0,219.0 137.0,221.0 140.0,224.0 138.0,229.0 139.0,233.0 145.0,234.0 152.0,233.4 151.4,239.0 153.0,243.0 150.0,251.0 148.6,255.0 149.4,261.0 146.0,267.0 149.0,270.0 155.0,265.0 160.0,260.0 165.0,257.0 169.0,259.0 172.0,261.4 175.0,264.0 181.0,261.0 185.0,254.0 189.0,253.4 193.0,255.0 198.0,256.0 202.0,261.0 207.0,267.0 211.0,271.0 211.0,281.0 214.0,289.0 220.0,295.0 222.0,296.0 221.0,298.0 223.0,304.0 224.6,310.0 225.0,318.0 223.0,324.0 220.0,327.0"/>
<polyline points="167.0,182.0 169.0,185.0 174.0,189.0 177.0,193.0 180.0,196.0 179.0,202.0 183.0,209.0 188.0,211.0 193.0,213.0 196.0,209.0 201.0,208.0 207.0,212.0 208.0,216.0 205.0,217.0 209.0,220.0 214.0,222.0 214.0,226.0 209.0,230.0 205.0,232.0 199.0,232.0 197.0,238.0 203.0,241.0 210.0,245.0 217.0,249.0 218.0,255.0 225.0,261.0 228.0,267.0 235.0,273.0 241.0,279.0 243.0,287.0 247.0,289.0 253.0,295.0 254.0,297.0 252.0,300.0 255.0,304.0 258.0,308.0 259.0,314.0 257.0,320.0"/>
<polyline points="174.0,364.0 176.0,360.0 174.0,354.0 172.0,348.0 170.6,339.0 175.0,336.0 178.0,331.0 182.0,327.0 189.0,325.6 199.0,325.0 209.0,324.4 216.0,325.6 220.0,327.0"/>
<polyline points="220.0,327.0 225.0,329.0 230.0,330.0 233.0,326.0 237.0,323.0 243.0,322.0 249.0,323.0 254.0,321.0 257.0,320.0"/>
<polyline points="257.0,320.0 255.0,326.0 257.0,334.0 260.0,339.0 259.0,346.0 260.0,354.0 257.0,360.0 249.0,363.0 243.0,366.0 238.0,367.0 237.0,371.0 230.0,372.0 229.0,376.0 231.0,380.0 235.0,382.0 236.0,386.0 229.0,384.0 223.0,384.0 220.0,387.0 216.0,389.0 212.0,390.0 208.0,392.0 207.0,396.0"/>
<polyline points="111.0,331.6 113.0,332.0 116.0,335.0 117.0,341.0 116.0,346.0 118.0,351.0 120.0,358.0 123.0,364.0 125.0,369.0 123.0,373.0 120.0,378.0 116.0,382.0 111.0,384.4"/>
<polyline points="230.0,316.0 229.4,322.0"/>
<polyline points="229.2,328.0 230.6,336.0"/>
<polyline points="230.4,341.0 232.6,348.0"/>
<polyline points="232.2,353.0 233.0,360.0"/>
<polyline points="214.0,372.0 217.0,380.0 219.0,386.0 225.0,394.0 233.0,402.0 237.0,408.0"/>
<polyline points="220.0,387.0 225.0,390.0 233.0,396.0 241.0,404.0"/>
<polyline points="211.0,367.0 214.0,366.0"/>
<polyline points="217.0,367.0 221.0,366.4"/>
<polyline points="223.0,365.0 225.0,362.0"/>
<polyline points="134.0,457.0 138.0,459.0 143.0,461.0 145.0,464.0 149.0,465.0 150.0,469.0 148.0,473.0 152.0,474.0 157.0,471.0 163.0,472.0 165.0,467.0"/>
<polyline points="371.0,493.0 373.0,498.0 377.0,501.4 380.0,498.0 381.0,492.0 383.0,487.0"/>
<polyline points="385.0,487.0 385.6,493.0 388.0,497.0 390.0,497.0 388.0,492.0 387.6,487.0"/>
<polyline points="292.0,538.0 295.0,543.0 299.0,547.0 303.0,551.0 308.0,555.0 314.0,554.0 322.0,552.6 330.0,553.0 336.0,550.0 337.0,545.0 344.0,544.0 350.0,543.4 354.0,546.0 360.0,548.6 366.0,547.0 372.0,545.0 378.0,543.4 381.0,538.0 380.0,533.0 385.0,528.0 386.0,521.0 390.0,518.0 393.0,513.0 393.6,506.0 393.0,501.0 397.0,497.4 404.0,496.6 415.0,497.0 415.0,497.0 421.0,497.4 427.0,498.0 432.0,498.6"/>
<polyline points="301.0,162.0 303.0,160.0 307.0,161.0 312.0,162.4 317.0,161.6 323.0,161.6"/>
</g>
</g>
<g stroke="#000" stroke-width="1" shape-rendering="crispEdges">
<line x1="130.5" y1="38" x2="130.5" y2="43"/>
<line x1="130.5" y1="565" x2="130.5" y2="570"/>
<line x1="163.5" y1="38" x2="163.5" y2="43"/>
<line x1="163.5" y1="565" x2="163.5" y2="570"/>
<line x1="197.5" y1="38" x2="197.5" y2="43"/>
<line x1="197.5" y1="565" x2="197.5" y2="570"/>
<line x1="231.5" y1="38" x2="231.5" y2="43"/>
<line x1="231.5" y1="565" x2="231.5" y2="570"/>
<line x1="265.5" y1="38" x2="265.5" y2="43"/>
<line x1="265.5" y1="565" x2="265.5" y2="570"/>
<line x1="299.5" y1="38" x2="299.5" y2="43"/>
<line x1="299.5" y1="565" x2="299.5" y2="570"/>
<line x1="332.5" y1="38" x2="332.5" y2="43"/>
<line x1="332.5" y1="565" x2="332.5" y2="570"/>
<line x1="366.5" y1="38" x2="366.5" y2="43"/>
<line x1="366.5" y1="565" x2="366.5" y2="570"/>
<line x1="400.5" y1="38" x2="400.5" y2="43"/>
<line x1="400.5" y1="565" x2="400.5" y2="570"/>
<line x1="434.5" y1="38" x2="434.5" y2="43"/>
<line x1="434.5" y1="565" x2="434.5" y2="570"/>
<line x1="468.5" y1="38" x2="468.5" y2="43"/>
<line x1="468.5" y1="565" x2="468.5" y2="570"/>
<line x1="501.5" y1="38" x2="501.5" y2="43"/>
<line x1="501.5" y1="565" x2="501.5" y2="570"/>
<line x1="535.5" y1="38" x2="535.5" y2="43"/>
<line x1="535.5" y1="565" x2="535.5" y2="570"/>
<line x1="569.5" y1="38" x2="569.5" y2="43"/>
<line x1="569.5" y1="565" x2="569.5" y2="570"/>
<line x1="603.5" y1="38" x2="603.5" y2="43"/>
<line x1="603.5" y1="565" x2="603.5" y2="570"/>
<line x1="113" y1="536.5" x2="118" y2="536.5"/>
<line x1="632" y1="536.5" x2="637" y2="536.5"/>
<line x1="113" y1="502.5" x2="118" y2="502.5"/>
<line x1="632" y1="502.5" x2="637" y2="502.5"/>
<line x1="113" y1="468.5" x2="118" y2="468.5"/>
<line x1="632" y1="468.5" x2="637" y2="468.5"/>
<line x1="113" y1="434.5" x2="118" y2="434.5"/>
<line x1="632" y1="434.5" x2="637" y2="434.5"/>
<line x1="113" y1="400.5" x2="118" y2="400.5"/>
<line x1="632" y1="400.5" x2="637" y2="400.5"/>
<line x1="113" y1="366.5" x2="118" y2="366.5"/>
<line x1="632" y1="366.5" x2="637" y2="366.5"/>
<line x1="113" y1="331.5" x2="118" y2="331.5"/>
<line x1="632" y1="331.5" x2="637" y2="331.5"/>
<line x1="113" y1="296.5" x2="118" y2="296.5"/>
<line x1="632" y1="296.5" x2="637" y2="296.5"/>
<line x1="113" y1="261.5" x2="118" y2="261.5"/>
<line x1="632" y1="261.5" x2="637" y2="261.5"/>
<line x1="113" y1="225.5" x2="118" y2="225.5"/>
<line x1="632" y1="225.5" x2="637" y2="225.5"/>
<line x1="113" y1="189.5" x2="118" y2="189.5"/>
<line x1="632" y1="189.5" x2="637" y2="189.5"/>
<line x1="113" y1="152.5" x2="118" y2="152.5"/>
<line x1="632" y1="152.5" x2="637" y2="152.5"/>
<line x1="113" y1="115.5" x2="118" y2="115.5"/>
<line x1="632" y1="115.5" x2="637" y2="115.5"/>
<line x1="113" y1="77.5" x2="118" y2="77.5"/>
<line x1="632" y1="77.5" x2="637" y2="77.5"/>
<line x1="113" y1="38.5" x2="118" y2="38.5"/>
<line x1="632" y1="38.5" x2="637" y2="38.5"/>
</g>
<rect x="112" y="37" width="526" height="534" fill="none" stroke="#000" stroke-width="2" shape-rendering="crispEdges"/>
<text x="375.5" y="20" font-size="13" text-anchor="middle" fill="#000060">Significant Wave Height with Wave Direction</text>
<text x="375.5" y="31.5" font-size="12.15" font-style="italic" text-anchor="middle" fill="#000060">Valid For Nov-23-2014 18:00 GMT</text>
<text x="133.9" y="587.5" font-size="10.67" font-style="italic" text-anchor="middle" fill="#000">100 E</text>
<text x="217.6" y="587.5" font-size="10.67" font-style="italic" text-anchor="middle" fill="#000">105 E</text>
<text x="303.1" y="587.5" font-size="10.67" font-style="italic" text-anchor="middle" fill="#000">110 E</text>
<text x="387.6" y="587.5" font-size="10.67" font-style="italic" text-anchor="middle" fill="#000">115 E</text>
<text x="472.1" y="587.5" font-size="10.67" font-style="italic" text-anchor="middle" fill="#000">120 E</text>
<text x="555.6" y="587.5" font-size="10.67" font-style="italic" text-anchor="middle" fill="#000">125 E</text>
<text x="640.1" y="587.5" font-size="10.67" font-style="italic" text-anchor="middle" fill="#000">130 E</text>
<text x="645.5" y="573.8" font-size="10.67" font-style="italic" fill="#000">0</text>
<text x="645.5" y="489.2" font-size="10.67" font-style="italic" fill="#000">5 N</text>
<text x="645.5" y="403.9" font-size="10.67" font-style="italic" fill="#000">10 N</text>
<text x="645.5" y="317.4" font-size="10.67" font-style="italic" fill="#000">15 N</text>
<text x="645.5" y="228.7" font-size="10.67" font-style="italic" fill="#000">20 N</text>
<text x="645.5" y="137.2" font-size="10.67" font-style="italic" fill="#000">25 N</text>
<text x="645.5" y="41.9" font-size="10.67" font-style="italic" fill="#000">30 N</text>
<text x="113.5" y="602" font-size="11.1" fill="#000060">oceanweather inc.</text>
<text x="520" y="599" font-size="7.45" font-style="italic" fill="#000040" stroke="#000040" stroke-width="0.2">Plotted at Nov 23, 2014 12:00 GMT</text>
<g shape-rendering="crispEdges">
<rect x="255.00" y="629" width="2.00" height="13" fill="#000018"/>
<rect x="257.00" y="629" width="3.32" height="13" fill="#0000ff"/>
<rect x="260.02" y="629" width="5.32" height="13" fill="rgb(0,32,255)"/>
<rect x="265.04" y="629" width="5.32" height="13" fill="rgb(0,53,255)"/>
<rect x="270.06" y="629" width="5.32" height="13" fill="rgb(0,74,255)"/>
<rect x="275.08" y="629" width="5.32" height="13" fill="rgb(0,96,255)"/>
<rect x="280.10" y="629" width="5.32" height="13" fill="rgb(0,117,255)"/>
<rect x="285.12" y="629" width="5.32" height="13" fill="rgb(0,138,255)"/>
<rect x="290.15" y="629" width="5.32" height="13" fill="rgb(0,159,255)"/>
<rect x="295.17" y="629" width="5.32" height="13" fill="rgb(0,181,255)"/>
<rect x="300.19" y="629" width="5.32" height="13" fill="rgb(0,202,255)"/>
<rect x="305.21" y="629" width="5.32" height="13" fill="rgb(0,223,255)"/>
<rect x="310.23" y="629" width="5.32" height="13" fill="rgb(0,244,255)"/>
<rect x="315.25" y="629" width="5.32" height="13" fill="rgb(0,255,244)"/>
<rect x="320.27" y="629" width="5.32" height="13" fill="rgb(0,255,223)"/>
<rect x="325.29" y="629" width="5.32" height="13" fill="rgb(0,255,202)"/>
<rect x="330.31" y="629" width="5.32" height="13" fill="rgb(0,255,181)"/>
<rect x="335.33" y="629" width="5.32" height="13" fill="rgb(0,255,159)"/>
<rect x="340.35" y="629" width="5.32" height="13" fill="rgb(0,255,138)"/>
<rect x="345.38" y="629" width="5.32" height="13" fill="rgb(0,255,117)"/>
<rect x="350.40" y="629" width="5.32" height="13" fill="rgb(0,255,96)"/>
<rect x="355.42" y="629" width="5.32" height="13" fill="rgb(0,255,74)"/>
<rect x="360.44" y="629" width="5.32" height="13" fill="rgb(0,255,53)"/>
<rect x="365.46" y="629" width="5.32" height="13" fill="rgb(0,255,32)"/>
<rect x="370.48" y="629" width="5.32" height="13" fill="rgb(0,255,11)"/>
<rect x="375.50" y="629" width="5.32" height="13" fill="rgb(11,255,0)"/>
<rect x="380.52" y="629" width="5.32" height="13" fill="rgb(32,255,0)"/>
<rect x="385.54" y="629" width="5.32" height="13" fill="rgb(53,255,0)"/>
<rect x="390.56" y="629" width="5.32" height="13" fill="rgb(74,255,0)"/>
<rect x="395.58" y="629" width="5.32" height="13" fill="rgb(96,255,0)"/>
<rect x="400.60" y="629" width="5.32" height="13" fill="rgb(117,255,0)"/>
<rect x="405.62" y="629" width="5.32" height="13" fill="rgb(138,255,0)"/>
<rect x="410.65" y="629" width="5.32" height="13" fill="rgb(159,255,0)"/>
<rect x="415.67" y="629" width="5.32" height="13" fill="rgb(181,255,0)"/>
<rect x="420.69" y="629" width="5.32" height="13" fill="rgb(202,255,0)"/>
<rect x="425.71" y="629" width="5.32" height="13" fill="rgb(223,255,0)"/>
<rect x="430.73" y="629" width="5.32" height="13" fill="rgb(244,255,0)"/>
<rect x="435.75" y="629" width="5.32" height="13" fill="rgb(255,244,0)"/>
<rect x="440.77" y="629" width="5.32" height="13" fill="rgb(255,223,0)"/>
<rect x="445.79" y="629" width="5.32" height="13" fill="rgb(255,202,0)"/>
<rect x="450.81" y="629" width="5.32" height="13" fill="rgb(255,181,0)"/>
<rect x="455.83" y="629" width="5.32" height="13" fill="rgb(255,159,0)"/>
<rect x="460.85" y="629" width="5.32" height="13" fill="rgb(255,138,0)"/>
<rect x="465.88" y="629" width="5.32" height="13" fill="rgb(255,117,0)"/>
<rect x="470.90" y="629" width="5.32" height="13" fill="rgb(255,96,0)"/>
<rect x="475.92" y="629" width="5.32" height="13" fill="rgb(255,74,0)"/>
<rect x="480.94" y="629" width="5.32" height="13" fill="rgb(255,53,0)"/>
<rect x="485.96" y="629" width="5.32" height="13" fill="rgb(255,32,0)"/>
<rect x="490.98" y="629" width="5.32" height="13" fill="rgb(255,11,0)"/>
</g>
<g class="cb">
<text x="374.5" y="613.6" font-size="9.5" text-anchor="middle" fill="#000060">Significant Wave Height (Meters)</text>
<text x="374.5" y="661.3" font-size="9.5" text-anchor="middle" fill="#000060">Significant Wave Height (Feet)</text>
<text x="256.0" y="625.5" font-size="9.5" text-anchor="middle" fill="#000060">0</text>
<text x="276.1" y="625.5" font-size="9.5" text-anchor="middle" fill="#000060">1</text>
<text x="296.1" y="625.5" font-size="9.5" text-anchor="middle" fill="#000060">2</text>
<text x="316.1" y="625.5" font-size="9.5" text-anchor="middle" fill="#000060">3</text>
<text x="336.2" y="625.5" font-size="9.5" text-anchor="middle" fill="#000060">4</text>
<text x="356.2" y="625.5" font-size="9.5" text-anchor="middle" fill="#000060">5</text>
<text x="376.3" y="625.5" font-size="9.5" text-anchor="middle" fill="#000060">6</text>
<text x="396.4" y="625.5" font-size="9.5" text-anchor="middle" fill="#000060">7</text>
<text x="416.4" y="625.5" font-size="9.5" text-anchor="middle" fill="#000060">8</text>
<text x="436.5" y="625.5" font-size="9.5" text-anchor="middle" fill="#000060">9</text>
<text x="456.5" y="625.5" font-size="9.5" text-anchor="middle" fill="#000060">10</text>
<text x="476.6" y="625.5" font-size="9.5" text-anchor="middle" fill="#000060">11</text>
<text x="496.6" y="625.5" font-size="9.5" text-anchor="middle" fill="#000060">12</text>
<text x="256.0" y="649.6" font-size="9.5" text-anchor="middle" fill="#000060">0</text>
<text x="286.1" y="649.6" font-size="9.5" text-anchor="middle" fill="#000060">5</text>
<text x="316.2" y="649.6" font-size="9.5" text-anchor="middle" fill="#000060">10</text>
<text x="346.3" y="649.6" font-size="9.5" text-anchor="middle" fill="#000060">15</text>
<text x="376.4" y="649.6" font-size="9.5" text-anchor="middle" fill="#000060">20</text>
<text x="406.5" y="649.6" font-size="9.5" text-anchor="middle" fill="#000060">25</text>
<text x="436.6" y="649.6" font-size="9.5" text-anchor="middle" fill="#000060">30</text>
<text x="466.7" y="649.6" font-size="9.5" text-anchor="middle" fill="#000060">35</text>
<text x="496.8" y="649.6" font-size="9.5" text-anchor="middle" fill="#000060">40</text>
</g>
</svg></body></html>
